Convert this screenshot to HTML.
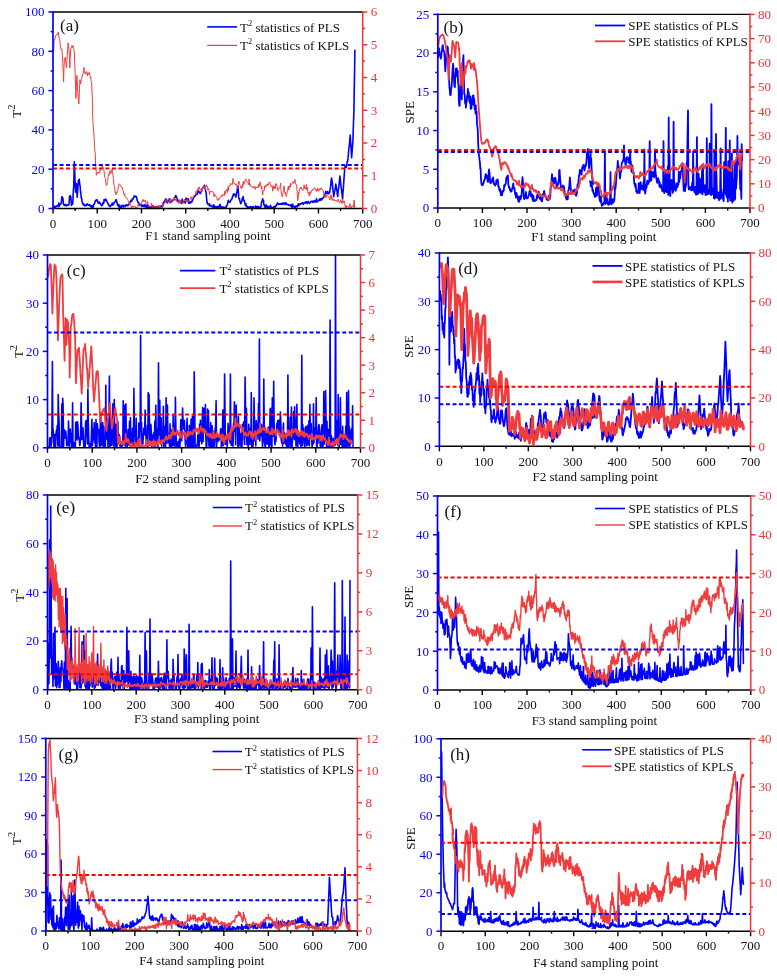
<!DOCTYPE html>
<html><head><meta charset="utf-8"><title>Monitoring statistics</title><style>html,body{margin:0;padding:0;background:#fff;width:777px;height:977px;overflow:hidden}svg{display:block;font-family:"Liberation Serif",serif;will-change:transform}</style></head><body>
<svg width="777" height="977" viewBox="0 0 777 977" font-family="Liberation Serif, serif">
<rect width="777" height="977" fill="#fff"/>
<clipPath id="clipa"><rect x="53" y="12" width="309.70" height="196.50"/></clipPath>
<g clip-path="url(#clipa)" fill="none" stroke-linejoin="round" stroke-linecap="round">
<polyline points="53.7,207.1 54.1,208.0 54.5,206.8 54.9,206.2 55.4,206.8 55.8,207.1 56.2,206.9 56.6,206.1 57.1,205.9 57.5,205.3 57.9,205.9 58.4,206.6 58.8,203.1 59.3,206.1 59.7,205.5 60.1,204.3 60.5,203.8 60.9,203.9 61.3,203.0 61.6,199.3 61.9,196.5 62.4,198.2 62.8,197.8 63.1,200.3 63.4,204.0 63.8,204.7 64.3,205.5 64.7,205.4 65.2,204.6 65.6,204.3 66.0,205.5 66.5,206.0 66.9,205.2 67.3,205.0 67.7,205.0 68.1,204.9 68.5,205.1 68.9,204.8 69.3,200.2 69.6,196.3 69.9,195.9 70.2,195.7 70.6,196.4 71.0,198.6 71.4,205.5 71.8,202.1 72.2,204.3 72.7,204.0 73.0,198.2 73.3,191.9 73.7,186.7 74.0,175.1 74.3,161.7 74.7,171.8 75.1,182.4 75.4,187.8 75.7,192.2 76.1,188.2 76.4,183.5 76.8,190.5 77.2,197.1 77.6,191.7 78.0,185.6 78.4,180.6 78.8,180.1 79.2,179.3 79.7,183.6 80.1,186.4 80.5,191.5 80.9,194.0 81.2,197.6 81.6,197.7 81.9,201.2 82.3,202.2 82.6,202.8 82.9,203.7 83.4,204.8 83.8,204.2 84.2,204.7 84.6,205.6 85.0,205.9 85.4,205.5 85.8,205.0 86.2,204.8 86.7,205.4 87.1,203.8 87.5,204.1 87.9,204.7 88.3,205.1 88.7,204.7 89.1,205.0 89.5,205.0 90.0,204.8 90.4,206.7 90.8,205.9 91.2,206.4 91.6,207.0 92.0,205.5 92.4,207.4 92.8,206.5 93.2,206.9 93.7,204.7 94.1,204.5 94.5,203.3 94.9,202.6 95.3,200.9 95.7,200.3 96.1,200.4 96.5,199.9 97.0,199.6 97.3,201.0 97.7,201.0 98.0,202.5 98.4,202.8 98.7,203.4 99.1,202.7 99.4,202.0 99.8,203.3 100.2,203.1 100.7,204.3 101.1,204.7 101.5,205.7 101.9,204.9 102.4,205.3 102.8,203.0 103.2,202.3 103.7,203.3 104.1,199.6 104.6,200.9 104.9,200.6 105.3,199.7 105.7,199.1 106.0,199.5 106.4,200.9 106.8,201.3 107.2,201.8 107.7,203.2 108.1,204.0 108.5,204.7 108.9,204.9 109.3,206.0 109.7,205.9 110.1,206.6 110.5,206.2 111.0,205.1 111.4,205.0 111.8,205.1 112.2,203.0 112.7,204.0 113.1,205.0 113.5,204.4 114.0,202.7 114.4,202.4 114.9,202.1 115.2,201.2 115.6,201.2 115.9,200.1 116.3,199.6 116.7,202.2 117.1,202.5 117.5,205.1 118.0,204.2 118.4,206.2 118.8,205.3 119.2,207.1 119.6,205.1 120.0,207.1 120.4,207.2 120.8,207.1 121.3,207.2 121.7,205.8 122.1,205.3 122.5,206.6 122.9,205.4 123.3,205.5 123.7,207.0 124.1,206.1 124.5,206.2 125.0,205.3 125.4,206.5 125.8,205.7 126.2,205.4 126.6,204.9 127.0,204.8 127.4,205.4 127.8,205.8 128.3,204.9 128.7,204.6 129.1,204.1 129.6,202.3 130.0,202.7 130.5,202.3 130.9,200.3 131.3,201.1 131.8,201.0 132.2,199.0 132.6,199.2 133.0,199.0 133.4,197.8 133.8,197.2 134.1,196.0 134.5,196.8 134.8,196.0 135.3,196.2 135.7,196.3 136.1,197.2 136.4,196.7 136.8,198.5 137.2,200.5 137.5,201.0 137.9,201.6 138.3,202.7 138.8,203.0 139.2,204.8 139.6,204.9 140.0,204.9 140.5,204.9 140.9,204.7 141.3,205.9 141.8,204.8 142.2,206.5 142.7,206.1 143.1,205.3 143.6,206.5 144.0,206.5 144.4,204.9 144.9,206.8 145.3,205.0 145.8,205.7 146.2,205.6 146.6,207.6 147.1,206.1 147.5,205.1 148.0,208.0 148.4,208.0 148.8,206.6 149.3,207.7 149.7,207.3 150.1,207.9 150.6,206.8 151.0,207.9 151.4,207.1 151.9,207.0 152.3,206.3 152.7,205.8 153.2,206.8 153.6,206.3 154.0,207.9 154.5,207.4 154.9,207.0 155.3,207.5 155.8,207.0 156.2,206.9 156.7,206.4 157.1,207.0 157.5,207.7 157.9,207.2 158.4,206.4 158.8,207.1 159.2,206.4 159.7,206.7 160.1,207.0 160.5,207.3 160.9,206.1 161.4,206.3 161.8,205.7 162.2,206.3 162.6,206.6 163.1,203.8 163.5,202.3 163.9,203.1 164.3,201.9 164.7,200.7 165.0,201.8 165.4,199.4 165.7,198.9 166.1,200.5 166.6,199.6 167.0,202.1 167.4,202.9 167.8,201.5 168.2,201.2 168.6,200.0 169.0,200.2 169.4,198.7 169.7,201.5 170.1,201.2 170.5,201.7 170.9,202.2 171.3,201.9 171.7,201.4 172.1,200.9 172.5,200.8 172.9,200.0 173.4,199.9 173.8,199.8 174.2,199.1 174.6,197.6 174.9,197.4 175.3,196.9 175.7,195.5 176.0,195.8 176.4,197.2 176.9,197.9 177.3,201.0 177.7,199.9 178.1,200.9 178.5,202.6 178.9,201.1 179.3,201.7 179.7,201.9 180.1,202.3 180.6,201.9 181.0,202.1 181.4,203.5 181.8,203.1 182.2,199.1 182.7,202.5 183.1,202.3 183.6,202.5 184.0,201.2 184.4,201.7 184.9,201.7 185.3,203.1 185.7,200.0 186.1,198.0 186.5,200.7 186.9,199.0 187.4,201.0 187.8,200.6 188.2,198.8 188.6,202.7 189.0,203.3 189.4,203.0 189.9,203.3 190.3,201.8 190.8,202.0 191.2,201.5 191.7,202.4 192.1,200.9 192.5,200.3 192.9,199.7 193.3,198.1 193.7,197.5 194.2,196.7 194.6,196.3 195.0,196.0 195.4,195.8 195.8,194.6 196.2,194.7 196.6,193.7 197.0,193.5 197.4,194.1 197.9,191.4 198.3,190.5 198.7,191.3 199.1,192.2 199.5,192.1 199.9,192.8 200.3,193.6 200.7,192.5 201.2,192.0 201.6,190.6 202.0,190.0 202.4,188.5 202.8,187.8 203.2,187.2 203.6,186.8 204.0,187.2 204.4,185.4 204.9,186.7 205.3,188.9 205.7,191.0 206.1,192.6 206.4,196.1 206.7,199.4 207.1,203.2 207.5,202.8 207.9,204.3 208.3,204.5 208.7,204.8 209.1,205.0 209.5,203.9 209.9,206.2 210.4,205.6 210.8,205.4 211.2,205.8 211.6,205.6 212.1,206.7 212.5,206.9 212.9,206.0 213.4,207.5 213.8,204.9 214.3,206.2 214.7,207.5 215.1,206.6 215.6,207.3 216.0,207.7 216.5,206.7 216.9,207.0 217.4,207.1 217.8,206.6 218.2,207.7 218.7,206.7 219.1,205.8 219.5,206.7 220.0,204.4 220.4,207.5 220.8,207.0 221.3,206.5 221.7,206.7 222.1,208.1 222.6,207.7 223.0,207.0 223.4,207.6 223.9,207.2 224.3,208.1 224.7,207.7 225.2,207.5 225.6,207.5 226.0,207.3 226.5,205.5 226.9,205.8 227.4,204.2 227.8,203.0 228.2,200.3 228.7,202.0 229.1,201.6 229.5,201.8 229.9,202.3 230.3,201.2 230.7,200.4 231.2,199.8 231.6,199.4 232.1,198.3 232.5,196.8 232.9,196.2 233.4,194.2 233.8,193.9 234.2,194.9 234.7,194.3 235.1,195.0 235.5,195.7 235.9,197.1 236.3,193.9 236.7,192.6 237.1,191.6 237.5,187.7 237.9,186.2 238.3,191.0 238.6,196.6 239.0,198.8 239.4,198.5 239.8,200.8 240.2,201.5 240.6,203.6 241.0,203.2 241.4,202.2 241.9,201.3 242.3,198.4 242.7,198.7 243.1,196.6 243.5,199.2 243.9,200.4 244.3,200.4 244.7,202.6 245.2,204.7 245.6,205.3 246.0,203.8 246.5,206.8 246.9,206.2 247.4,206.4 247.8,207.4 248.2,207.0 248.7,208.1 249.1,206.8 249.6,207.8 250.0,207.7 250.5,207.4 250.9,206.5 251.3,207.7 251.8,207.6 252.2,207.1 252.7,207.7 253.1,206.6 253.5,207.1 254.0,207.9 254.4,207.7 254.9,207.7 255.3,207.0 255.7,205.9 256.2,207.6 256.6,207.2 257.1,206.9 257.5,207.9 258.0,206.4 258.4,206.7 258.8,208.1 259.3,207.1 259.7,208.1 260.2,208.0 260.6,207.4 261.0,206.3 261.4,203.5 261.8,201.7 262.2,200.5 262.7,198.7 263.1,201.0 263.5,200.7 263.9,204.8 264.3,204.8 264.7,207.0 265.2,207.2 265.6,206.1 266.1,204.9 266.5,207.7 267.0,208.1 267.4,206.0 267.9,207.8 268.3,206.7 268.7,208.1 269.2,208.0 269.6,206.9 270.1,207.9 270.5,205.2 271.0,207.5 271.4,207.3 271.9,208.1 272.3,207.5 272.8,208.1 273.2,207.6 273.7,208.1 274.1,206.5 274.6,207.0 275.0,207.6 275.4,206.4 275.8,205.6 276.3,205.9 276.7,204.8 277.1,204.2 277.5,202.9 278.0,203.7 278.4,203.8 278.8,204.5 279.3,204.1 279.7,204.1 280.2,203.5 280.6,204.2 281.0,204.2 281.5,203.6 281.9,203.3 282.4,204.4 282.8,203.0 283.3,203.0 283.7,203.9 284.1,203.4 284.6,203.5 285.0,204.4 285.4,202.8 285.9,204.2 286.3,203.2 286.7,204.3 287.2,204.2 287.6,204.9 288.0,204.3 288.5,204.7 288.9,205.3 289.3,205.2 289.8,205.6 290.2,205.0 290.6,205.8 291.1,204.6 291.5,205.9 291.9,207.4 292.3,205.9 292.7,204.3 293.1,206.9 293.6,206.0 294.0,206.4 294.4,207.1 294.8,207.2 295.2,207.4 295.6,206.5 296.0,205.9 296.4,206.6 296.8,206.6 297.3,206.7 297.7,205.1 298.1,205.5 298.5,203.8 298.9,205.7 299.3,204.8 299.7,204.0 300.1,203.8 300.6,204.3 301.0,203.7 301.4,203.3 301.8,203.3 302.2,202.6 302.6,203.3 303.0,203.1 303.4,204.4 303.8,203.0 304.3,203.2 304.7,202.6 305.1,202.5 305.6,201.9 306.0,203.1 306.4,201.8 306.9,202.2 307.3,203.5 307.7,203.2 308.2,201.4 308.6,202.4 309.0,202.9 309.5,203.2 309.9,203.1 310.3,202.0 310.8,201.7 311.2,201.5 311.7,201.3 312.1,201.8 312.5,201.1 313.0,202.3 313.4,201.3 313.8,202.0 314.3,200.8 314.7,201.9 315.2,201.0 315.6,201.8 316.1,201.1 316.5,198.5 316.9,202.1 317.4,201.4 317.8,201.0 318.3,201.0 318.7,200.2 319.1,199.7 319.5,200.3 319.9,198.8 320.3,200.2 320.7,198.8 321.1,200.1 321.6,198.5 322.0,199.4 322.4,198.7 322.8,198.4 323.2,197.5 323.6,197.2 324.0,196.2 324.4,195.6 324.9,194.7 325.3,193.6 325.7,191.3 326.1,193.3 326.5,192.6 326.9,193.3 327.4,191.5 327.8,192.7 328.3,193.7 328.7,192.3 329.1,193.4 329.6,192.4 330.0,190.0 330.4,187.7 330.8,184.5 331.2,180.2 331.6,178.0 332.1,181.5 332.5,185.2 332.9,189.7 333.3,192.7 333.7,196.7 334.1,194.3 334.5,192.2 334.9,190.4 335.4,187.1 335.8,184.1 336.2,186.6 336.6,189.2 337.0,190.9 337.4,195.3 337.8,196.5 338.2,190.0 338.6,188.5 339.1,184.8 339.5,180.3 339.9,176.0 340.3,179.7 340.8,184.6 341.2,187.9 341.7,190.9 342.1,194.7 342.6,199.0 343.0,192.3 343.4,187.7 343.8,181.6 344.2,175.3 344.6,170.3 345.0,166.5 345.4,166.0 345.9,167.1 346.3,167.2 346.7,165.6 347.0,162.3 347.4,162.1 347.8,160.0 348.1,157.9 348.5,152.7 348.9,148.3 349.4,144.5 349.8,139.6 350.2,135.1 350.5,140.4 350.9,145.6 351.3,151.6 351.6,157.7 352.0,152.7 352.4,147.6 352.9,141.4 353.2,131.3 353.5,122.1 353.9,112.4 354.2,91.4 354.6,70.9 354.9,50.2" stroke="#0000ff" stroke-width="1.6"/>
<polyline points="53.7,51.2 54.1,41.2 54.5,39.3 54.9,39.5 55.4,37.2 55.8,35.3 56.2,35.0 56.6,34.7 57.0,34.8 57.4,35.2 57.8,33.8 58.2,31.9 58.6,34.1 59.1,37.7 59.5,38.8 59.9,41.1 60.3,44.3 60.7,47.9 61.1,49.5 61.5,48.9 61.9,49.0 62.4,55.9 62.8,63.7 63.2,72.2 63.6,82.1 64.0,67.0 64.4,59.5 64.8,58.1 65.1,57.7 65.4,57.2 65.8,62.2 66.1,65.1 66.5,67.8 66.9,60.7 67.3,54.4 67.7,49.0 68.1,42.8 68.5,46.6 68.9,48.6 69.4,57.7 69.8,67.9 70.2,59.3 70.6,51.0 70.9,47.6 71.3,47.4 71.6,46.2 72.0,45.4 72.3,47.5 72.7,46.8 73.1,45.7 73.5,48.6 73.9,49.6 74.3,51.8 74.7,61.7 75.1,74.1 75.5,84.1 75.9,98.4 76.4,87.3 76.8,75.4 77.1,78.3 77.5,85.7 77.8,92.5 78.1,96.9 78.5,100.0 78.8,104.1 79.2,96.9 79.5,88.4 79.9,79.7 80.2,80.9 80.5,84.0 80.9,82.0 81.3,79.4 81.7,78.8 82.1,75.9 82.5,75.0 82.9,73.9 83.3,73.1 83.6,70.5 84.0,67.4 84.3,71.0 84.7,71.1 85.0,74.0 85.4,73.9 85.8,71.8 86.2,71.7 86.7,71.8 87.0,73.1 87.4,75.8 87.7,72.7 88.1,74.0 88.4,73.4 88.8,74.5 89.1,72.4 89.5,73.9 90.0,74.9 90.4,78.3 90.8,77.8 91.1,80.4 91.5,82.6 91.8,86.0 92.2,95.0 92.6,102.5 92.6,116.3 93.0,121.8 93.3,128.0 93.7,131.1 94.1,137.6 94.5,145.3 94.9,151.7 95.3,153.4 95.6,166.0 96.0,167.5 96.3,175.3 96.7,174.0 97.0,172.9 97.4,172.3 97.8,173.2 98.2,172.7 98.6,173.2 99.0,172.0 99.4,173.1 99.8,171.9 100.2,169.8 100.7,170.3 101.1,168.2 101.4,167.1 101.8,167.1 102.2,165.8 102.5,165.7 102.9,168.0 103.2,167.7 103.6,168.9 104.0,171.1 104.4,173.7 104.8,177.4 105.2,178.1 105.5,178.6 105.9,183.8 106.3,184.8 106.6,185.6 107.0,184.5 107.4,181.5 107.7,180.6 108.1,176.4 108.5,173.9 108.9,175.5 109.3,173.2 109.7,171.8 110.1,170.6 110.4,173.8 110.7,173.7 111.1,172.3 111.5,172.4 111.8,169.3 112.2,169.4 112.6,171.1 113.0,175.4 113.4,178.5 113.8,184.0 114.1,185.6 114.5,186.7 114.9,190.6 115.2,192.3 115.6,191.6 115.9,194.9 116.3,193.3 116.7,192.6 117.1,193.1 117.5,191.6 117.9,189.4 118.3,186.3 118.6,186.5 119.0,184.6 119.4,183.8 119.8,184.4 120.2,185.7 120.6,185.5 121.0,186.7 121.5,186.7 121.9,187.8 122.3,187.8 122.7,189.1 123.1,190.9 123.5,191.9 123.9,194.6 124.3,195.1 124.8,193.8 125.2,196.7 125.6,197.5 126.0,197.6 126.4,197.7 126.8,198.3 127.2,199.0 127.6,199.1 128.0,200.4 128.5,200.9 128.9,202.2 129.3,203.3 129.7,202.0 130.1,205.1 130.5,205.1 130.9,205.2 131.3,205.9 131.8,208.1 132.2,206.5 132.7,206.9 133.1,205.8 133.5,206.9 134.0,207.0 134.4,207.0 134.8,206.2 135.3,206.7 135.7,208.1 136.1,207.1 136.5,208.1 136.9,207.3 137.3,206.9 137.7,206.4 138.1,204.3 138.6,206.0 139.0,206.4 139.4,205.7 139.9,206.1 140.3,204.3 140.8,204.2 141.2,202.6 141.6,202.9 142.1,202.1 142.5,199.8 142.9,201.7 143.3,201.4 143.7,199.5 144.1,200.5 144.5,200.9 144.9,201.8 145.3,200.2 145.8,201.8 146.2,204.3 146.6,204.0 147.1,202.8 147.5,201.5 148.0,202.9 148.4,204.6 148.8,205.3 149.3,206.9 149.7,206.7 150.1,205.8 150.5,206.3 150.9,206.6 151.3,205.8 151.7,202.9 152.1,207.3 152.6,208.1 153.0,205.6 153.4,205.4 153.8,205.7 154.2,206.5 154.6,206.6 155.0,207.5 155.4,207.0 155.8,207.0 156.3,206.8 156.7,206.7 157.1,207.4 157.5,206.7 157.9,207.9 158.4,207.6 158.8,205.2 159.2,207.3 159.7,206.0 160.1,206.2 160.5,207.8 160.9,206.9 161.4,208.1 161.8,208.1 162.2,207.5 162.6,204.3 163.1,205.4 163.5,204.7 163.9,204.1 164.3,202.2 164.7,203.5 165.1,202.1 165.5,200.9 165.9,199.8 166.4,199.8 166.8,200.1 167.2,200.6 167.6,201.7 168.0,201.2 168.4,202.2 168.9,202.3 169.3,200.7 169.7,203.8 170.2,198.6 170.6,201.5 171.1,199.0 171.5,200.7 171.9,200.3 172.4,200.4 172.8,199.6 173.3,200.0 173.7,199.1 174.1,197.4 174.6,199.1 175.0,199.1 175.5,200.4 175.9,198.6 176.4,201.3 176.8,201.6 177.2,200.9 177.7,201.8 178.1,201.0 178.5,201.6 178.9,203.2 179.3,199.4 179.7,202.9 180.1,201.4 180.6,200.0 181.0,202.5 181.4,202.7 181.8,202.7 182.2,201.9 182.7,202.4 183.1,202.1 183.6,202.6 184.0,200.9 184.4,199.1 184.9,199.9 185.3,200.3 185.8,201.4 186.2,199.8 186.6,201.6 187.1,199.7 187.5,202.3 188.0,201.3 188.4,200.9 188.8,200.9 189.2,200.1 189.6,200.4 190.0,199.5 190.4,198.5 190.9,197.4 191.3,196.6 191.7,199.6 192.1,198.7 192.5,198.2 193.0,197.5 193.4,195.8 193.9,196.2 194.3,195.3 194.7,195.7 195.2,194.4 195.6,194.0 196.1,191.2 196.5,194.1 196.9,191.8 197.4,188.4 197.8,188.8 198.3,188.8 198.7,188.8 199.1,186.9 199.5,189.4 199.9,189.2 200.3,190.2 200.7,189.4 201.2,188.7 201.6,191.1 202.0,191.5 202.4,190.2 202.8,188.0 203.2,188.2 203.6,185.7 204.0,186.9 204.4,187.8 204.9,186.9 205.3,189.4 205.7,187.3 206.1,186.1 206.5,184.8 206.8,185.3 207.1,186.7 207.5,186.3 207.9,190.2 208.3,188.4 208.7,189.0 209.1,190.6 209.5,194.6 209.9,191.4 210.4,191.7 210.8,191.9 211.2,191.9 211.6,191.1 212.0,192.1 212.4,191.7 212.8,191.5 213.2,192.8 213.7,193.1 214.1,196.9 214.6,194.1 215.0,194.3 215.4,195.1 215.9,195.9 216.3,196.9 216.7,197.4 217.1,199.6 217.6,199.3 218.0,200.6 218.4,199.9 218.8,198.6 219.2,199.4 219.6,197.7 220.0,197.5 220.4,196.6 220.9,196.0 221.3,195.7 221.8,196.9 222.2,194.8 222.7,195.9 223.1,194.2 223.5,194.4 223.9,194.7 224.4,195.4 224.8,191.3 225.2,193.7 225.6,194.0 226.0,189.8 226.4,189.5 226.8,189.1 227.2,192.5 227.7,190.7 228.1,186.6 228.5,190.9 229.0,186.3 229.4,185.5 229.9,186.1 230.3,183.7 230.7,183.1 231.2,184.3 231.6,184.4 232.1,184.4 232.5,184.4 232.9,178.4 233.4,181.9 233.8,182.1 234.3,183.9 234.7,183.7 235.2,184.3 235.6,185.0 236.0,183.7 236.5,186.3 236.9,186.9 237.3,186.8 237.7,188.3 238.2,183.1 238.6,183.5 239.0,181.1 239.4,184.2 239.8,184.5 240.2,185.8 240.6,186.7 241.0,188.6 241.4,188.7 241.9,186.1 242.3,184.5 242.7,187.6 243.1,181.3 243.5,181.6 243.9,184.5 244.3,182.0 244.7,182.6 245.2,180.2 245.6,178.8 246.0,179.4 246.5,180.4 246.9,182.0 247.4,182.5 247.8,183.2 248.2,183.3 248.7,184.8 249.1,179.0 249.6,185.2 250.0,183.8 250.5,186.4 250.9,185.9 251.3,186.3 251.8,187.3 252.2,187.8 252.7,187.2 253.1,187.2 253.5,186.3 254.0,187.7 254.4,188.5 254.9,186.3 255.3,189.4 255.7,188.6 256.2,187.1 256.6,187.3 257.1,187.6 257.5,186.8 258.0,188.0 258.4,184.7 258.8,186.7 259.3,183.7 259.7,185.8 260.2,181.8 260.6,183.9 261.0,186.9 261.4,188.6 261.8,186.4 262.2,190.5 262.7,194.8 263.1,191.6 263.5,191.1 263.9,189.8 264.3,190.2 264.7,185.9 265.1,187.7 265.5,186.3 266.0,185.0 266.4,186.3 266.8,184.6 267.2,185.5 267.7,183.7 268.1,184.3 268.5,185.2 269.0,182.2 269.4,182.5 269.9,182.0 270.3,183.5 270.7,184.0 271.1,187.0 271.5,186.8 271.9,186.1 272.3,186.7 272.8,191.2 273.2,185.6 273.6,187.9 274.0,188.8 274.4,186.7 274.8,186.6 275.2,188.9 275.6,183.6 276.0,184.1 276.5,184.1 276.9,185.7 277.3,187.7 277.7,189.0 278.1,190.6 278.5,189.1 278.9,189.0 279.3,187.3 279.8,187.1 280.2,186.7 280.6,183.1 281.0,190.4 281.4,194.6 281.8,195.6 282.2,196.9 282.6,195.9 283.0,192.7 283.5,190.7 283.9,185.9 284.3,188.2 284.7,191.4 285.1,193.7 285.5,192.0 285.9,194.9 286.3,196.5 286.8,194.3 287.2,192.0 287.6,191.1 288.0,187.3 288.4,186.3 288.8,190.0 289.3,185.9 289.7,185.4 290.2,187.5 290.6,183.3 291.0,185.2 291.5,184.3 291.9,183.9 292.4,182.6 292.8,181.4 293.3,182.0 293.7,183.4 294.1,182.7 294.6,182.2 295.0,179.3 295.4,183.8 295.8,183.8 296.2,184.3 296.6,185.0 297.0,190.3 297.3,193.5 297.7,200.7 298.1,199.1 298.5,192.2 298.9,193.2 299.3,190.0 299.7,188.6 300.2,188.5 300.6,187.3 301.1,188.8 301.5,187.1 301.9,188.9 302.4,189.9 302.8,190.6 303.3,189.6 303.7,189.1 304.1,184.9 304.6,188.5 305.0,187.8 305.5,188.9 305.9,188.6 306.3,184.5 306.8,189.8 307.2,187.1 307.7,191.3 308.1,193.1 308.6,192.1 309.0,195.4 309.4,196.1 309.9,191.6 310.3,193.7 310.8,193.4 311.2,191.1 311.6,190.3 312.1,189.8 312.5,190.7 313.0,189.0 313.4,189.4 313.8,188.6 314.3,187.6 314.7,188.8 315.2,189.1 315.6,188.8 316.1,191.3 316.5,190.3 316.9,191.2 317.4,187.9 317.8,190.9 318.3,191.1 318.7,189.4 319.1,188.6 319.6,190.4 320.0,188.7 320.5,189.1 320.9,187.9 321.4,188.0 321.8,189.4 322.2,189.2 322.6,190.2 323.0,190.6 323.4,191.0 323.8,193.7 324.1,196.6 324.4,196.9 324.9,197.5 325.3,194.9 325.8,197.8 326.2,196.1 326.6,196.9 327.1,194.2 327.5,194.5 327.9,195.5 328.4,196.2 328.8,196.6 329.2,198.1 329.6,199.1 330.0,199.9 330.5,197.3 330.9,194.6 331.4,198.8 331.8,196.1 332.2,200.5 332.7,199.7 333.1,200.2 333.5,198.9 333.9,199.0 334.3,200.4 334.7,200.2 335.1,200.9 335.6,200.0 336.0,201.0 336.4,200.9 336.8,200.9 337.2,201.7 337.7,202.0 338.1,199.1 338.6,201.6 339.0,201.9 339.4,202.4 339.9,202.8 340.3,201.2 340.8,199.7 341.2,203.3 341.6,202.7 342.1,200.3 342.5,203.5 343.0,201.8 343.4,202.3 343.8,200.6 344.2,201.5 344.6,201.4 345.0,205.9 345.4,207.5 345.9,205.6 346.3,207.6 346.7,205.7 347.1,206.8 347.5,206.5 347.9,206.9 348.3,207.5 348.7,206.5 349.2,207.3 349.6,206.2 350.0,203.6 350.4,207.4 350.8,207.0 351.2,207.9 351.6,206.5 352.0,206.5 352.4,205.8 352.9,206.7 353.3,207.3 353.7,203.7 354.1,200.1 354.4,202.2 354.7,207.7" stroke="#f03c3c" stroke-width="1.0"/>
<line x1="53" y1="165.0" x2="362.7" y2="165.0" stroke="#0000ff" stroke-width="2" stroke-dasharray="4.0 2.55" stroke-linecap="butt"/>
<line x1="53" y1="168.6" x2="362.7" y2="168.6" stroke="#ff0000" stroke-width="2" stroke-dasharray="4.0 2.55" stroke-linecap="butt"/>
</g>
<line x1="52.2" y1="12" x2="362.7" y2="12" stroke="#000" stroke-width="1.4"/>
<line x1="52.2" y1="208.5" x2="363.3" y2="208.5" stroke="#000" stroke-width="1.4"/>
<line x1="53.00" y1="208.5" x2="53.00" y2="213.5" stroke="#000" stroke-width="1.4"/>
<text x="53.0" y="227.7" font-size="13" fill="#111" text-anchor="middle">0</text>
<line x1="75.12" y1="208.5" x2="75.12" y2="210.9" stroke="#000" stroke-width="1.4"/>
<line x1="97.24" y1="208.5" x2="97.24" y2="213.5" stroke="#000" stroke-width="1.4"/>
<text x="97.2" y="227.7" font-size="13" fill="#111" text-anchor="middle">100</text>
<line x1="119.36" y1="208.5" x2="119.36" y2="210.9" stroke="#000" stroke-width="1.4"/>
<line x1="141.49" y1="208.5" x2="141.49" y2="213.5" stroke="#000" stroke-width="1.4"/>
<text x="141.5" y="227.7" font-size="13" fill="#111" text-anchor="middle">200</text>
<line x1="163.61" y1="208.5" x2="163.61" y2="210.9" stroke="#000" stroke-width="1.4"/>
<line x1="185.73" y1="208.5" x2="185.73" y2="213.5" stroke="#000" stroke-width="1.4"/>
<text x="185.7" y="227.7" font-size="13" fill="#111" text-anchor="middle">300</text>
<line x1="207.85" y1="208.5" x2="207.85" y2="210.9" stroke="#000" stroke-width="1.4"/>
<line x1="229.97" y1="208.5" x2="229.97" y2="213.5" stroke="#000" stroke-width="1.4"/>
<text x="230.0" y="227.7" font-size="13" fill="#111" text-anchor="middle">400</text>
<line x1="252.09" y1="208.5" x2="252.09" y2="210.9" stroke="#000" stroke-width="1.4"/>
<line x1="274.21" y1="208.5" x2="274.21" y2="213.5" stroke="#000" stroke-width="1.4"/>
<text x="274.2" y="227.7" font-size="13" fill="#111" text-anchor="middle">500</text>
<line x1="296.34" y1="208.5" x2="296.34" y2="210.9" stroke="#000" stroke-width="1.4"/>
<line x1="318.46" y1="208.5" x2="318.46" y2="213.5" stroke="#000" stroke-width="1.4"/>
<text x="318.5" y="227.7" font-size="13" fill="#111" text-anchor="middle">600</text>
<line x1="340.58" y1="208.5" x2="340.58" y2="210.9" stroke="#000" stroke-width="1.4"/>
<line x1="362.70" y1="208.5" x2="362.70" y2="213.5" stroke="#000" stroke-width="1.4"/>
<text x="362.7" y="227.7" font-size="13" fill="#111" text-anchor="middle">700</text>
<line x1="53" y1="11.2" x2="53" y2="209.3" stroke="#0000ff" stroke-width="1.7"/>
<line x1="48.40" y1="208.50" x2="53" y2="208.50" stroke="#0000ff" stroke-width="1.5"/>
<text x="44.4" y="212.8" font-size="13" fill="#0000ff" text-anchor="end">0</text>
<line x1="50.60" y1="188.85" x2="53" y2="188.85" stroke="#0000ff" stroke-width="1.5"/>
<line x1="48.40" y1="169.20" x2="53" y2="169.20" stroke="#0000ff" stroke-width="1.5"/>
<text x="44.4" y="173.5" font-size="13" fill="#0000ff" text-anchor="end">20</text>
<line x1="50.60" y1="149.55" x2="53" y2="149.55" stroke="#0000ff" stroke-width="1.5"/>
<line x1="48.40" y1="129.90" x2="53" y2="129.90" stroke="#0000ff" stroke-width="1.5"/>
<text x="44.4" y="134.2" font-size="13" fill="#0000ff" text-anchor="end">40</text>
<line x1="50.60" y1="110.25" x2="53" y2="110.25" stroke="#0000ff" stroke-width="1.5"/>
<line x1="48.40" y1="90.60" x2="53" y2="90.60" stroke="#0000ff" stroke-width="1.5"/>
<text x="44.4" y="94.9" font-size="13" fill="#0000ff" text-anchor="end">60</text>
<line x1="50.60" y1="70.95" x2="53" y2="70.95" stroke="#0000ff" stroke-width="1.5"/>
<line x1="48.40" y1="51.30" x2="53" y2="51.30" stroke="#0000ff" stroke-width="1.5"/>
<text x="44.4" y="55.6" font-size="13" fill="#0000ff" text-anchor="end">80</text>
<line x1="50.60" y1="31.65" x2="53" y2="31.65" stroke="#0000ff" stroke-width="1.5"/>
<line x1="48.40" y1="12.00" x2="53" y2="12.00" stroke="#0000ff" stroke-width="1.5"/>
<text x="44.4" y="16.3" font-size="13" fill="#0000ff" text-anchor="end">100</text>
<line x1="362.7" y1="11.2" x2="362.7" y2="209.3" stroke="#f03434" stroke-width="1.5"/>
<line x1="362.7" y1="208.50" x2="367.30" y2="208.50" stroke="#f03434" stroke-width="1.5"/>
<text x="370.7" y="212.8" font-size="13" fill="#f03434" text-anchor="start">0</text>
<line x1="362.7" y1="192.12" x2="365.10" y2="192.12" stroke="#f03434" stroke-width="1.5"/>
<line x1="362.7" y1="175.75" x2="367.30" y2="175.75" stroke="#f03434" stroke-width="1.5"/>
<text x="370.7" y="180.1" font-size="13" fill="#f03434" text-anchor="start">1</text>
<line x1="362.7" y1="159.38" x2="365.10" y2="159.38" stroke="#f03434" stroke-width="1.5"/>
<line x1="362.7" y1="143.00" x2="367.30" y2="143.00" stroke="#f03434" stroke-width="1.5"/>
<text x="370.7" y="147.3" font-size="13" fill="#f03434" text-anchor="start">2</text>
<line x1="362.7" y1="126.62" x2="365.10" y2="126.62" stroke="#f03434" stroke-width="1.5"/>
<line x1="362.7" y1="110.25" x2="367.30" y2="110.25" stroke="#f03434" stroke-width="1.5"/>
<text x="370.7" y="114.5" font-size="13" fill="#f03434" text-anchor="start">3</text>
<line x1="362.7" y1="93.88" x2="365.10" y2="93.88" stroke="#f03434" stroke-width="1.5"/>
<line x1="362.7" y1="77.50" x2="367.30" y2="77.50" stroke="#f03434" stroke-width="1.5"/>
<text x="370.7" y="81.8" font-size="13" fill="#f03434" text-anchor="start">4</text>
<line x1="362.7" y1="61.12" x2="365.10" y2="61.12" stroke="#f03434" stroke-width="1.5"/>
<line x1="362.7" y1="44.75" x2="367.30" y2="44.75" stroke="#f03434" stroke-width="1.5"/>
<text x="370.7" y="49.0" font-size="13" fill="#f03434" text-anchor="start">5</text>
<line x1="362.7" y1="28.38" x2="365.10" y2="28.38" stroke="#f03434" stroke-width="1.5"/>
<line x1="362.7" y1="12.00" x2="367.30" y2="12.00" stroke="#f03434" stroke-width="1.5"/>
<text x="370.7" y="16.3" font-size="13" fill="#f03434" text-anchor="start">6</text>
<text transform="translate(20.8,111.2) rotate(-90)" font-size="13" fill="#111" text-anchor="middle">T<tspan font-size="10.5" dy="-6.3">2</tspan></text>
<text x="207.9" y="240.3" font-size="13" fill="#111" text-anchor="middle">F1 stand sampling point</text>
<text x="60.0" y="31.0" font-size="17" fill="#111" text-anchor="start">(a)</text>
<line x1="207.2" y1="26.9" x2="237.1" y2="26.9" stroke="#0000ff" stroke-width="1.6"/>
<line x1="207.2" y1="45.4" x2="237.1" y2="45.4" stroke="#f03c3c" stroke-width="1.2"/>
<text x="240.0" y="31.6" font-size="13" fill="#111">T<tspan font-size="8.5" dy="-5.6">2</tspan><tspan dy="5.6"> statistics of PLS</tspan></text>
<text x="240.0" y="49.7" font-size="13" fill="#111">T<tspan font-size="8.5" dy="-5.6">2</tspan><tspan dy="5.6"> statistics of KPLS</tspan></text>
<clipPath id="clipb"><rect x="437.8" y="14.4" width="312.20" height="193.60"/></clipPath>
<g clip-path="url(#clipb)" fill="none" stroke-linejoin="round" stroke-linecap="round">
<polyline points="438.1,57.4 438.4,55.5 438.8,55.5 439.2,48.3 439.5,53.0 439.9,54.6 440.4,55.9 440.8,58.7 441.2,57.0 441.6,52.1 442.0,51.1 442.4,46.3 442.8,45.1 443.2,49.6 443.5,50.4 443.9,51.1 444.3,52.2 444.6,58.2 445.0,65.4 445.3,71.3 445.6,67.8 446.0,61.2 446.3,55.0 446.7,52.0 447.0,53.0 447.4,46.5 447.8,47.4 448.2,55.3 448.6,68.2 449.0,78.2 449.4,86.3 449.8,90.5 450.2,95.3 450.7,94.8 451.1,88.3 451.5,87.6 451.9,82.7 452.3,74.0 452.7,67.3 453.1,63.7 453.5,70.6 453.8,74.0 454.2,83.1 454.6,86.6 454.9,87.1 455.3,75.4 455.6,77.3 456.0,68.4 456.4,75.8 456.8,68.3 457.2,74.1 457.7,70.6 458.1,82.9 458.5,85.3 458.9,101.7 459.3,105.9 459.7,105.5 460.0,91.9 460.4,91.1 460.7,82.3 461.1,91.7 461.4,90.6 461.8,99.4 462.2,81.8 462.6,82.2 463.0,61.8 463.4,55.2 463.8,71.9 464.2,94.0 464.7,94.2 465.1,103.3 465.5,100.5 465.9,107.6 466.3,100.8 466.7,102.1 467.1,95.8 467.5,97.2 467.9,88.8 468.4,96.6 468.8,92.5 469.2,100.9 469.6,98.2 470.0,103.1 470.3,96.5 470.7,108.8 471.0,103.8 471.4,108.7 471.9,98.8 472.3,104.6 472.7,95.9 473.1,100.3 473.5,95.5 473.9,105.2 474.3,98.9 474.7,109.3 475.2,106.0 475.5,113.5 475.8,105.4 476.2,113.6 476.6,111.3 477.0,123.4 477.4,126.6 477.8,130.7 478.2,143.3 478.7,154.0 479.1,155.2 479.5,159.7 479.9,162.2 480.3,168.7 480.6,168.3 481.0,178.3 481.3,182.9 481.7,184.6 482.0,185.2 482.4,183.6 482.8,185.0 483.2,183.7 483.6,183.1 484.0,180.8 484.4,179.7 484.8,179.8 485.2,176.6 485.7,174.1 486.1,174.4 486.5,176.7 486.9,178.4 487.3,176.2 487.7,181.8 488.1,181.8 488.5,175.5 489.0,169.3 489.4,171.9 489.8,176.6 490.2,182.5 490.6,183.3 491.0,182.8 491.4,182.2 491.8,182.1 492.2,178.9 492.7,179.8 493.1,177.4 493.5,180.6 493.9,184.2 494.3,183.7 494.7,184.3 495.1,185.6 495.5,183.6 496.0,184.4 496.4,180.2 496.8,181.9 497.2,181.8 497.6,179.4 498.0,181.9 498.4,186.9 498.8,186.5 499.3,189.8 499.7,190.9 500.1,188.8 500.5,190.9 500.9,195.3 501.3,195.3 501.7,193.2 502.1,195.1 502.5,191.0 503.0,191.8 503.4,191.0 503.8,190.4 504.2,185.2 504.6,186.3 505.0,184.9 505.4,184.4 505.8,183.3 506.3,177.9 506.7,179.2 507.1,176.5 507.5,175.5 507.9,175.4 508.3,184.0 508.7,186.3 509.1,187.7 509.5,187.3 510.0,190.3 510.4,189.0 510.8,191.8 511.2,191.1 511.6,191.2 512.0,189.1 512.4,188.4 512.8,185.9 513.3,183.3 513.7,188.2 514.1,188.5 514.5,187.9 514.9,192.3 515.3,194.8 515.7,193.6 516.1,197.8 516.5,193.0 517.0,196.2 517.4,197.2 517.8,196.1 518.2,200.8 518.6,201.4 519.0,201.9 519.4,201.0 519.8,196.6 520.3,196.1 520.7,199.2 521.1,197.1 521.5,196.3 521.8,191.7 522.2,180.6 522.5,177.2 522.9,182.0 523.2,185.5 523.6,191.7 524.0,198.6 524.4,199.0 524.8,198.1 525.2,197.2 525.6,195.3 526.0,192.0 526.4,197.2 526.8,198.4 527.3,198.4 527.7,198.3 528.1,197.0 528.5,196.1 528.9,195.1 529.3,192.5 529.7,190.8 530.1,193.1 530.6,191.3 531.0,196.2 531.4,196.4 531.8,197.0 532.2,194.5 532.6,199.6 533.0,200.8 533.4,195.8 533.8,199.9 534.3,201.1 534.7,201.0 535.2,200.5 535.6,199.9 536.1,200.1 536.5,199.9 536.9,196.6 537.3,194.6 537.8,197.5 538.2,195.1 538.6,191.6 539.0,192.8 539.3,196.5 539.7,197.9 540.0,199.1 540.4,196.0 540.8,199.4 541.3,200.6 541.7,199.9 542.1,201.4 542.5,197.8 542.9,194.7 543.3,193.8 543.7,193.7 544.1,191.0 544.6,193.9 545.0,195.3 545.4,196.6 545.8,196.9 546.2,197.3 546.6,199.7 547.0,199.1 547.4,198.4 547.9,198.9 548.3,200.4 548.7,196.0 549.1,198.4 549.5,199.3 549.9,198.9 550.3,196.5 550.7,187.7 551.1,186.6 551.6,180.6 552.0,174.1 552.3,178.3 552.7,180.1 553.0,178.6 553.4,184.4 553.8,180.9 554.2,183.3 554.6,178.0 555.1,177.6 555.5,178.7 555.8,181.1 556.2,182.8 556.5,186.4 556.9,185.3 557.3,186.3 557.7,184.0 558.1,184.2 558.6,181.8 558.9,179.2 559.2,170.2 559.6,169.9 559.9,176.1 560.3,180.0 560.7,185.6 561.0,188.1 561.5,190.0 561.9,187.5 562.4,188.8 562.8,185.4 563.3,188.5 563.7,186.2 564.1,187.3 564.5,192.1 564.9,194.4 565.4,195.7 565.8,196.6 566.2,198.6 566.6,199.4 567.0,198.7 567.4,196.3 567.8,199.3 568.2,191.0 568.6,190.4 569.1,187.5 569.5,183.3 569.9,177.5 570.2,181.5 570.6,186.6 571.0,190.6 571.3,192.8 571.8,193.7 572.2,192.6 572.7,192.2 573.1,190.2 573.6,190.8 574.0,191.1 574.4,192.9 574.9,189.4 575.3,194.5 575.8,195.1 576.2,195.8 576.7,194.0 577.1,191.5 577.5,184.8 577.9,184.3 578.3,182.7 578.7,178.5 579.1,174.8 579.5,175.6 579.8,170.0 580.2,170.3 580.5,172.8 580.9,173.2 581.3,173.0 581.6,174.6 582.0,169.0 582.4,166.7 582.9,168.2 583.3,165.0 583.7,165.9 584.1,168.0 584.5,170.6 584.9,168.9 585.3,164.7 585.6,166.5 586.0,164.7 586.4,162.3 586.7,157.9 587.1,152.5 587.4,152.6 587.8,148.8 588.2,154.5 588.6,159.5 589.0,168.4 589.4,165.7 589.8,160.1 590.1,160.4 590.5,152.3 590.8,160.4 591.2,158.5 591.6,168.5 591.9,173.0 592.3,178.5 592.7,181.4 593.2,183.9 593.6,183.5 590.0,181.3 590.4,182.1 590.8,186.3 591.2,183.3 591.6,183.1 592.1,187.0 592.5,190.9 592.9,189.7 593.4,192.8 593.8,194.1 594.3,194.0 594.7,196.8 595.1,193.1 595.6,196.6 596.0,188.0 596.5,190.3 596.9,195.7 597.4,186.2 597.8,187.3 598.2,190.7 598.7,187.1 599.1,194.9 599.6,199.2 600.0,200.7 600.4,201.7 600.9,196.4 601.3,201.7 601.8,205.8 602.2,204.3 602.7,205.2 603.1,204.5 603.5,203.4 604.0,202.6 604.4,201.8 604.9,151.5 605.3,203.9 605.7,195.9 606.2,202.2 606.6,202.9 607.1,198.6 607.5,202.5 607.9,204.4 608.4,204.9 608.8,204.0 609.2,204.3 609.6,198.9 610.1,203.3 610.5,172.1 610.9,203.7 611.4,204.4 611.8,203.4 612.2,202.6 612.7,199.2 613.1,202.9 613.5,202.1 613.9,201.5 614.3,200.2 614.7,194.7 615.1,185.2 615.5,188.8 615.9,184.0 616.4,176.1 616.8,169.9 617.1,170.4 617.5,165.9 617.8,160.8 618.2,168.4 618.6,166.0 619.0,169.8 619.4,171.5 619.9,178.5 620.3,175.9 620.7,172.0 621.1,171.5 621.5,165.5 621.9,162.6 622.3,162.3 622.7,161.8 623.2,159.9 623.6,158.5 624.0,145.3 624.3,158.8 624.7,158.6 625.1,161.8 625.4,164.6 625.8,165.4 626.2,160.1 626.7,157.5 627.1,157.1 627.5,158.7 628.0,158.4 628.4,162.7 628.8,162.3 629.3,156.9 629.7,162.9 630.2,151.5 630.5,165.2 630.8,161.5 631.2,168.9 631.6,171.9 632.0,170.2 632.4,165.4 632.8,172.9 633.2,172.9 633.7,172.2 634.1,181.9 634.5,184.3 634.9,184.6 635.3,187.2 635.7,184.0 636.2,191.3 636.6,192.0 637.1,191.6 637.5,193.2 638.0,192.8 638.4,189.7 638.8,183.1 639.3,192.5 639.7,193.0 640.2,186.7 640.6,182.2 641.0,185.2 641.5,189.0 641.9,186.0 642.3,185.9 642.7,186.4 643.1,190.0 643.5,181.9 644.0,186.4 644.4,149.4 644.8,191.5 645.2,193.6 645.6,191.1 646.0,184.9 646.4,188.0 646.8,185.9 647.2,180.6 647.7,183.3 648.1,184.1 648.5,182.6 648.9,182.3 649.3,179.6 649.7,141.2 650.1,177.2 650.5,180.8 651.0,178.7 651.4,180.3 651.7,171.4 652.1,176.6 652.4,175.1 652.8,174.6 653.2,176.0 653.7,172.0 654.1,177.4 654.6,170.5 655.0,149.4 655.4,170.5 655.9,175.5 656.3,178.2 656.8,180.8 657.2,182.9 657.6,178.8 658.1,178.1 658.5,179.2 659.0,181.5 659.4,186.5 659.8,182.2 660.2,187.3 660.6,187.3 661.0,185.0 661.5,188.4 661.9,188.2 662.3,191.0 662.7,191.1 663.1,191.4 663.5,141.2 663.9,189.7 664.3,193.1 664.8,177.9 665.2,191.6 665.5,178.4 665.9,170.1 666.2,186.2 666.6,188.7 667.0,192.4 667.4,186.6 667.8,166.5 668.3,194.9 668.7,117.5 669.1,188.3 669.5,155.1 669.9,193.3 670.3,196.0 670.7,186.1 671.1,189.6 671.5,180.0 672.0,188.4 672.4,186.3 672.8,192.9 673.2,190.1 673.6,121.6 674.0,181.8 674.4,182.5 674.8,188.4 675.3,190.6 675.7,190.8 676.2,188.6 676.6,183.4 677.1,186.8 677.5,187.1 678.0,183.0 678.4,184.8 678.8,171.7 679.3,181.9 679.7,172.4 680.2,178.6 680.6,174.8 681.0,171.2 681.4,170.7 681.8,169.4 682.3,163.1 682.7,167.5 683.0,171.8 683.4,184.6 683.7,190.7 684.1,187.0 684.5,179.1 684.9,191.3 685.3,188.1 685.8,186.1 686.2,183.3 686.6,163.0 687.1,163.1 687.5,139.1 688.0,110.3 688.4,184.6 688.8,189.5 689.3,188.4 689.7,187.1 690.1,187.2 690.5,189.6 690.9,187.5 691.3,190.4 691.8,189.9 692.2,182.7 692.7,190.2 693.1,151.5 693.6,185.8 694.0,190.5 694.4,192.0 694.8,190.8 695.2,186.8 695.6,193.5 696.1,194.7 696.5,186.3 696.9,137.1 697.3,194.0 697.7,194.0 698.1,193.6 698.6,173.6 699.0,188.6 699.4,192.4 699.9,178.7 700.3,188.5 700.8,193.0 701.2,190.3 701.6,183.8 702.1,170.1 702.5,194.4 703.0,166.3 703.4,190.8 703.9,189.1 704.3,192.0 704.7,186.6 705.1,185.1 705.5,194.9 705.9,192.6 706.4,194.9 706.8,138.1 707.2,194.4 707.6,192.3 708.0,189.9 708.4,191.0 708.8,194.0 709.3,191.9 709.7,143.6 710.1,192.8 710.6,190.2 711.0,195.2 711.4,104.1 711.9,192.5 712.3,194.2 712.7,190.6 713.1,193.1 713.6,187.9 714.0,198.1 714.4,151.4 714.8,198.7 715.2,193.7 715.6,197.5 716.0,134.0 716.4,173.8 716.9,192.9 717.3,197.8 717.7,196.0 718.1,198.2 718.5,192.5 718.9,200.0 719.3,200.0 719.7,194.9 720.1,198.9 720.6,148.4 721.0,198.3 721.4,189.4 721.8,196.5 722.1,193.1 722.5,193.7 722.8,197.4 723.3,199.9 723.7,201.2 724.1,162.1 724.5,193.3 725.0,193.6 725.4,166.4 725.8,127.8 726.3,195.8 726.7,166.0 727.1,197.7 727.6,174.8 727.9,201.6 728.3,161.1 728.6,196.0 729.0,196.9 729.4,197.4 729.8,140.4 730.2,200.6 730.7,183.5 731.1,181.5 731.5,200.0 731.9,153.5 732.3,202.5 732.7,179.5 733.1,201.1 733.5,195.5 733.9,195.6 734.4,164.1 734.8,199.8 735.2,198.0 735.6,161.5 736.1,188.5 736.5,181.9 736.9,176.4 737.4,136.0 737.8,161.6 738.3,159.6 738.6,154.3 739.0,164.9 739.3,161.1 739.6,164.5 740.0,182.1 740.3,189.5 740.7,186.2 741.0,189.9 741.4,198.9 741.7,144.2 742.0,160.6" stroke="#0000ff" stroke-width="1.8"/>
<polyline points="438.1,49.1 438.4,45.4 438.8,41.7 439.1,38.9 439.5,38.5 439.9,37.2 440.4,35.8 440.8,35.7 441.2,35.3 441.6,35.4 442.0,35.0 442.4,34.5 442.8,34.8 443.2,34.8 443.6,36.3 444.1,37.7 444.5,39.7 444.9,40.9 445.2,43.3 445.6,45.3 446.0,48.6 446.3,51.1 446.7,53.7 447.0,54.9 447.4,57.3 447.8,59.5 448.2,69.7 448.6,79.9 449.0,71.9 449.4,63.1 449.8,55.1 450.2,56.6 450.7,58.7 451.1,61.6 451.4,56.2 451.8,51.5 452.1,45.6 452.5,40.9 452.9,41.8 453.2,42.7 453.6,44.2 453.9,45.0 454.4,49.4 454.8,52.3 455.2,57.4 455.5,52.2 455.9,47.8 456.2,42.1 456.6,42.5 457.0,42.0 457.3,42.2 457.7,42.6 458.1,43.0 458.5,44.2 458.9,49.7 459.3,48.3 459.7,64.4 460.1,69.4 460.5,81.8 460.9,85.3 461.4,78.1 461.8,63.0 462.2,75.0 462.6,78.3 463.0,89.0 463.4,80.4 463.8,79.5 464.2,71.4 464.7,74.9 465.1,66.0 465.5,73.3 465.9,66.9 466.3,67.2 466.7,66.6 467.1,64.9 467.5,62.7 467.9,61.0 468.4,60.7 468.8,62.3 469.2,60.1 469.6,60.4 470.0,62.4 470.3,64.3 470.7,65.3 471.0,68.7 471.4,66.7 471.9,63.9 472.3,65.1 472.7,65.1 473.1,66.6 473.4,66.6 473.8,69.9 474.2,63.0 474.5,67.5 475.0,69.9 475.4,68.7 475.8,71.9 476.1,74.7 476.5,77.9 476.9,80.2 477.2,84.4 477.6,90.1 477.9,94.3 478.2,100.5 478.7,108.0 479.1,112.5 479.5,118.8 479.9,124.7 480.3,128.9 480.6,132.9 481.0,137.6 481.3,140.6 481.7,142.9 482.0,143.5 482.4,144.0 482.8,143.2 483.2,143.2 483.6,143.0 484.0,143.6 484.4,143.3 484.8,142.7 485.2,142.5 485.7,140.8 486.1,140.5 486.5,140.1 486.9,139.2 487.3,140.3 487.7,141.6 488.1,140.4 488.5,143.2 488.9,145.7 489.2,145.8 489.6,147.1 489.9,147.5 490.3,148.5 490.7,149.3 491.0,149.9 491.4,151.8 491.8,155.5 492.2,156.7 492.6,155.1 493.0,153.7 493.3,151.5 493.7,148.2 494.1,148.2 494.5,147.3 494.9,146.9 495.3,146.3 495.7,147.5 496.2,146.7 496.6,149.0 497.0,150.0 497.4,150.8 497.8,150.5 498.2,151.7 498.5,154.3 498.9,156.4 499.3,158.1 499.7,158.9 500.1,163.3 500.5,165.8 500.9,168.0 501.3,169.8 501.7,166.4 502.1,162.9 502.5,164.7 503.0,163.8 503.4,164.0 503.8,162.6 504.2,162.3 504.6,161.9 505.0,162.7 505.4,163.3 505.8,163.8 506.3,163.2 506.7,165.2 507.1,165.9 507.5,165.6 507.9,168.4 508.3,167.0 508.7,168.6 509.1,170.5 509.5,171.0 510.0,172.9 510.4,173.2 510.8,174.7 511.2,176.2 511.6,174.2 512.0,176.8 512.4,178.3 512.8,179.1 513.3,179.5 513.7,179.9 514.1,180.4 514.5,180.6 514.9,180.2 515.3,181.3 515.7,181.2 516.1,181.0 516.5,181.7 517.0,184.2 517.4,183.3 517.8,182.3 518.3,182.2 518.7,185.5 519.1,180.6 519.6,185.4 520.0,185.1 520.5,185.8 520.9,187.3 521.3,186.1 521.8,187.2 522.2,186.5 522.7,186.4 523.1,186.1 523.6,186.9 524.0,186.4 524.4,184.8 524.9,186.9 525.3,183.2 525.8,183.1 526.2,184.3 526.6,183.4 527.1,184.7 527.5,185.3 527.9,184.7 528.3,184.2 528.7,185.5 529.1,187.4 529.5,185.8 529.9,188.0 530.3,190.2 530.8,187.3 531.2,187.2 531.6,187.9 532.0,184.8 532.4,189.2 532.8,188.8 533.2,188.8 533.6,190.0 534.1,191.3 534.5,190.2 534.9,190.2 535.3,190.5 535.7,189.9 536.1,192.3 536.5,191.2 536.9,192.7 537.3,191.6 537.8,192.8 538.2,192.4 538.6,193.8 539.0,193.9 539.4,196.0 539.8,193.7 540.2,196.0 540.6,195.3 541.1,195.4 541.5,194.9 541.9,195.7 542.3,195.9 542.7,196.2 543.1,196.0 543.5,195.9 543.9,196.3 544.3,196.2 544.8,195.5 545.2,196.9 545.6,197.0 546.0,195.7 546.4,196.9 546.8,197.3 547.2,198.0 547.6,197.4 548.1,197.7 548.5,198.8 548.9,199.6 549.3,198.9 549.7,195.8 550.1,191.8 550.5,187.8 550.9,185.0 551.4,181.6 551.8,183.1 552.2,185.1 552.6,183.0 553.0,184.6 553.4,186.6 553.8,187.0 554.2,187.8 554.6,186.7 555.1,188.8 555.5,188.2 555.9,188.5 556.4,187.9 556.8,188.0 557.2,187.2 557.7,188.2 558.1,188.7 558.6,187.6 559.0,187.4 559.4,188.5 559.8,188.1 560.2,188.8 560.6,189.0 561.0,189.8 561.4,188.3 561.9,190.3 562.3,188.4 562.7,188.6 563.1,188.9 563.5,192.2 563.9,192.8 564.3,193.6 564.7,195.5 565.1,193.9 565.6,195.7 566.0,195.5 566.4,194.2 566.8,195.0 567.2,193.6 567.6,193.6 568.0,194.6 568.4,191.9 568.9,193.0 569.3,194.1 569.7,193.0 570.2,193.6 570.6,194.0 571.1,192.8 571.5,190.6 571.9,193.7 572.4,193.8 572.8,194.1 573.3,193.3 573.7,193.8 574.2,192.5 574.6,193.6 575.0,192.4 575.5,192.1 575.9,190.3 576.4,190.7 576.8,190.7 577.2,190.4 577.7,188.2 578.1,188.5 578.5,187.0 578.9,187.4 579.4,183.1 579.8,183.5 580.2,180.5 580.6,179.2 581.0,178.3 581.4,179.3 581.8,178.1 582.2,178.1 582.7,179.6 583.1,177.8 583.5,176.9 583.9,175.5 584.3,177.8 584.7,175.8 585.1,176.4 585.5,174.9 585.9,173.7 586.4,174.0 586.8,173.9 587.2,172.9 587.6,173.2 588.0,170.3 588.4,172.4 588.8,171.9 589.2,171.5 589.7,171.8 590.1,170.0 590.5,170.2 590.9,170.9 591.3,173.3 591.7,173.0 592.1,175.4 592.5,177.3 592.1,177.2 592.5,177.5 592.9,179.5 593.3,180.4 593.7,181.3 594.1,182.1 594.6,183.0 595.0,183.4 595.4,183.3 595.9,181.9 596.3,183.1 596.8,184.4 597.2,183.7 597.6,185.6 598.0,182.7 598.4,183.3 598.9,185.1 599.3,184.3 599.7,185.7 600.1,189.4 600.5,191.2 600.9,190.6 601.3,194.8 601.7,196.1 602.1,195.4 602.6,196.6 603.0,196.9 603.4,197.1 603.8,196.1 604.2,195.1 604.6,193.9 605.0,192.3 605.4,193.0 605.9,194.0 606.3,192.7 606.8,193.3 607.2,197.0 607.7,192.7 608.1,193.3 608.5,193.5 609.0,193.2 609.4,193.3 609.9,192.5 610.3,192.2 610.7,193.1 611.2,190.9 611.6,191.0 612.0,187.0 612.4,190.0 612.9,188.7 613.3,186.6 613.7,186.5 614.1,184.1 614.5,180.8 614.9,177.2 615.3,174.4 615.7,172.0 616.2,172.5 616.6,172.3 617.1,170.0 617.5,170.3 617.9,169.1 618.4,168.8 618.8,168.8 619.2,168.8 619.7,170.5 620.1,168.8 620.5,168.8 620.9,168.6 621.3,167.4 621.7,169.6 622.1,167.5 622.5,168.6 622.9,167.8 623.4,167.5 623.8,166.9 624.3,167.7 624.7,166.5 625.2,167.4 625.6,165.9 626.0,167.4 626.5,166.5 626.9,166.5 627.4,165.9 627.8,168.2 628.2,166.7 628.7,168.2 629.1,166.0 629.6,165.1 630.0,167.3 630.5,168.5 630.9,165.8 631.3,167.9 631.8,167.4 632.2,167.0 632.6,168.2 633.0,172.6 633.5,173.1 633.9,174.3 634.3,175.3 634.7,176.2 635.1,177.4 635.5,177.0 635.9,176.3 636.3,177.3 636.8,177.2 637.2,175.9 637.7,177.0 638.1,177.0 638.5,177.7 639.0,178.5 639.4,175.8 639.9,175.1 640.3,171.8 640.7,176.1 641.2,174.4 641.6,174.8 642.1,173.2 642.5,174.3 642.9,173.6 643.3,175.7 643.7,174.6 644.2,175.3 644.6,175.3 645.0,175.5 645.4,175.3 645.8,174.9 646.2,173.7 646.6,172.2 647.1,172.0 647.5,170.9 648.0,171.9 648.4,170.3 648.8,170.7 649.3,170.1 649.7,168.8 650.2,169.3 650.6,168.3 651.0,168.1 651.5,169.0 651.9,168.4 652.4,167.1 652.8,168.3 653.3,166.6 653.7,165.4 654.1,165.7 654.6,164.3 655.0,163.3 655.5,163.1 655.9,163.1 656.3,162.4 656.8,159.4 657.2,163.7 657.7,165.3 658.1,165.8 658.5,166.2 659.0,167.0 659.4,167.3 659.9,167.5 660.3,166.9 660.8,167.8 661.2,168.6 661.6,166.3 662.1,168.0 662.5,169.0 663.0,169.3 663.4,168.8 663.8,171.0 664.3,169.2 664.7,170.6 665.2,171.3 665.6,170.6 666.0,171.4 666.5,172.7 666.9,172.4 667.4,170.9 667.8,172.8 668.3,173.3 668.7,172.2 669.1,170.7 669.6,172.0 670.0,171.3 670.5,169.8 670.9,169.5 671.3,169.1 671.8,169.0 672.2,167.9 672.7,166.7 673.1,168.9 673.5,168.0 674.0,167.6 674.4,166.6 674.9,167.3 675.3,168.2 675.8,169.3 676.2,167.9 676.6,169.8 677.1,169.4 677.5,169.9 678.0,169.5 678.4,169.2 678.8,168.2 679.3,168.4 679.7,166.0 680.2,166.0 680.6,166.1 681.1,164.5 681.5,166.4 681.9,164.4 682.4,163.9 682.8,164.6 683.3,165.3 683.7,163.9 684.0,169.9 684.4,176.2 684.7,182.5 685.1,178.0 685.4,172.6 685.8,167.5 686.2,166.3 686.6,168.4 687.1,167.6 687.5,167.8 688.0,168.4 688.4,169.3 688.8,168.7 689.3,170.6 689.7,169.0 690.2,170.2 690.6,170.7 691.1,171.2 691.5,171.4 691.9,170.8 692.4,173.3 692.8,171.5 693.3,170.3 693.7,169.0 694.1,170.7 694.6,169.8 695.0,169.7 695.5,167.5 695.9,168.6 696.3,170.1 696.8,171.5 697.2,170.3 697.7,170.5 698.1,171.3 698.6,170.0 699.0,167.8 699.4,169.4 699.9,166.6 700.3,167.1 700.8,168.8 701.2,165.8 701.6,165.7 702.1,164.8 702.5,166.0 703.0,167.3 703.4,163.7 703.9,168.4 704.3,167.8 704.7,168.2 705.2,166.6 705.6,165.2 706.1,165.5 706.5,165.5 706.9,164.5 707.4,163.8 707.8,165.4 708.3,166.4 708.7,165.2 709.1,164.1 709.6,165.3 710.0,163.8 710.5,166.8 710.9,166.7 711.4,167.7 711.8,168.0 712.2,168.9 712.7,169.4 713.1,170.4 713.6,169.9 714.0,169.3 714.4,169.9 714.9,170.5 715.3,167.1 715.8,170.5 716.2,167.6 716.6,168.2 717.1,168.2 717.5,166.5 718.0,166.3 718.4,165.1 718.9,165.1 719.3,166.8 719.7,164.5 720.2,166.6 720.6,165.1 721.1,167.3 721.5,166.3 721.9,166.7 722.4,167.6 722.8,168.1 723.3,167.7 723.7,166.3 724.1,167.5 724.6,167.7 725.0,167.5 725.5,167.4 725.9,166.6 726.4,167.1 726.8,167.6 727.2,166.9 727.7,168.8 728.1,167.4 728.6,170.0 729.0,168.5 729.4,170.2 729.8,170.4 730.2,170.7 730.7,169.5 731.1,171.4 731.4,168.1 731.7,164.6 732.1,161.9 732.5,160.8 732.9,161.4 733.3,163.7 733.7,164.5 734.2,162.9 734.6,161.1 735.0,161.5 735.4,161.9 735.8,159.7 736.2,159.5 736.5,157.2 736.9,157.2 737.2,155.1 737.6,156.3 738.0,155.5 738.3,152.6 738.7,156.6 739.1,160.0 739.5,162.7 739.9,166.1 740.3,169.7 740.7,163.7 741.0,156.0 741.4,153.0 741.7,154.8 742.0,152.4 742.4,154.4" stroke="#f03c3c" stroke-width="1.8"/>
<line x1="437.8" y1="151.9" x2="750" y2="151.9" stroke="#0000ff" stroke-width="2" stroke-dasharray="4.0 2.55" stroke-linecap="butt"/>
<line x1="437.8" y1="150.0" x2="750" y2="150.0" stroke="#ff0000" stroke-width="2" stroke-dasharray="4.0 2.55" stroke-linecap="butt"/>
</g>
<line x1="437.0" y1="14.4" x2="750" y2="14.4" stroke="#000" stroke-width="1.4"/>
<line x1="437.0" y1="208" x2="750.6" y2="208" stroke="#000" stroke-width="1.4"/>
<line x1="437.80" y1="208" x2="437.80" y2="213.0" stroke="#000" stroke-width="1.4"/>
<text x="437.8" y="227.2" font-size="13" fill="#111" text-anchor="middle">0</text>
<line x1="460.10" y1="208" x2="460.10" y2="210.4" stroke="#000" stroke-width="1.4"/>
<line x1="482.40" y1="208" x2="482.40" y2="213.0" stroke="#000" stroke-width="1.4"/>
<text x="482.4" y="227.2" font-size="13" fill="#111" text-anchor="middle">100</text>
<line x1="504.70" y1="208" x2="504.70" y2="210.4" stroke="#000" stroke-width="1.4"/>
<line x1="527.00" y1="208" x2="527.00" y2="213.0" stroke="#000" stroke-width="1.4"/>
<text x="527.0" y="227.2" font-size="13" fill="#111" text-anchor="middle">200</text>
<line x1="549.30" y1="208" x2="549.30" y2="210.4" stroke="#000" stroke-width="1.4"/>
<line x1="571.60" y1="208" x2="571.60" y2="213.0" stroke="#000" stroke-width="1.4"/>
<text x="571.6" y="227.2" font-size="13" fill="#111" text-anchor="middle">300</text>
<line x1="593.90" y1="208" x2="593.90" y2="210.4" stroke="#000" stroke-width="1.4"/>
<line x1="616.20" y1="208" x2="616.20" y2="213.0" stroke="#000" stroke-width="1.4"/>
<text x="616.2" y="227.2" font-size="13" fill="#111" text-anchor="middle">400</text>
<line x1="638.50" y1="208" x2="638.50" y2="210.4" stroke="#000" stroke-width="1.4"/>
<line x1="660.80" y1="208" x2="660.80" y2="213.0" stroke="#000" stroke-width="1.4"/>
<text x="660.8" y="227.2" font-size="13" fill="#111" text-anchor="middle">500</text>
<line x1="683.10" y1="208" x2="683.10" y2="210.4" stroke="#000" stroke-width="1.4"/>
<line x1="705.40" y1="208" x2="705.40" y2="213.0" stroke="#000" stroke-width="1.4"/>
<text x="705.4" y="227.2" font-size="13" fill="#111" text-anchor="middle">600</text>
<line x1="727.70" y1="208" x2="727.70" y2="210.4" stroke="#000" stroke-width="1.4"/>
<line x1="750.00" y1="208" x2="750.00" y2="213.0" stroke="#000" stroke-width="1.4"/>
<text x="750.0" y="227.2" font-size="13" fill="#111" text-anchor="middle">700</text>
<line x1="437.8" y1="13.6" x2="437.8" y2="208.8" stroke="#0000ff" stroke-width="1.7"/>
<line x1="433.20" y1="208.00" x2="437.8" y2="208.00" stroke="#0000ff" stroke-width="1.5"/>
<text x="429.2" y="212.3" font-size="13" fill="#0000ff" text-anchor="end">0</text>
<line x1="435.40" y1="188.64" x2="437.8" y2="188.64" stroke="#0000ff" stroke-width="1.5"/>
<line x1="433.20" y1="169.28" x2="437.8" y2="169.28" stroke="#0000ff" stroke-width="1.5"/>
<text x="429.2" y="173.6" font-size="13" fill="#0000ff" text-anchor="end">5</text>
<line x1="435.40" y1="149.92" x2="437.8" y2="149.92" stroke="#0000ff" stroke-width="1.5"/>
<line x1="433.20" y1="130.56" x2="437.8" y2="130.56" stroke="#0000ff" stroke-width="1.5"/>
<text x="429.2" y="134.9" font-size="13" fill="#0000ff" text-anchor="end">10</text>
<line x1="435.40" y1="111.20" x2="437.8" y2="111.20" stroke="#0000ff" stroke-width="1.5"/>
<line x1="433.20" y1="91.84" x2="437.8" y2="91.84" stroke="#0000ff" stroke-width="1.5"/>
<text x="429.2" y="96.1" font-size="13" fill="#0000ff" text-anchor="end">15</text>
<line x1="435.40" y1="72.48" x2="437.8" y2="72.48" stroke="#0000ff" stroke-width="1.5"/>
<line x1="433.20" y1="53.12" x2="437.8" y2="53.12" stroke="#0000ff" stroke-width="1.5"/>
<text x="429.2" y="57.4" font-size="13" fill="#0000ff" text-anchor="end">20</text>
<line x1="435.40" y1="33.76" x2="437.8" y2="33.76" stroke="#0000ff" stroke-width="1.5"/>
<line x1="433.20" y1="14.40" x2="437.8" y2="14.40" stroke="#0000ff" stroke-width="1.5"/>
<text x="429.2" y="18.7" font-size="13" fill="#0000ff" text-anchor="end">25</text>
<line x1="750" y1="13.6" x2="750" y2="208.8" stroke="#f03434" stroke-width="1.5"/>
<line x1="750" y1="208.00" x2="754.60" y2="208.00" stroke="#f03434" stroke-width="1.5"/>
<text x="758.0" y="212.3" font-size="13" fill="#f03434" text-anchor="start">0</text>
<line x1="750" y1="195.90" x2="752.40" y2="195.90" stroke="#f03434" stroke-width="1.5"/>
<line x1="750" y1="183.80" x2="754.60" y2="183.80" stroke="#f03434" stroke-width="1.5"/>
<text x="758.0" y="188.1" font-size="13" fill="#f03434" text-anchor="start">10</text>
<line x1="750" y1="171.70" x2="752.40" y2="171.70" stroke="#f03434" stroke-width="1.5"/>
<line x1="750" y1="159.60" x2="754.60" y2="159.60" stroke="#f03434" stroke-width="1.5"/>
<text x="758.0" y="163.9" font-size="13" fill="#f03434" text-anchor="start">20</text>
<line x1="750" y1="147.50" x2="752.40" y2="147.50" stroke="#f03434" stroke-width="1.5"/>
<line x1="750" y1="135.40" x2="754.60" y2="135.40" stroke="#f03434" stroke-width="1.5"/>
<text x="758.0" y="139.7" font-size="13" fill="#f03434" text-anchor="start">30</text>
<line x1="750" y1="123.30" x2="752.40" y2="123.30" stroke="#f03434" stroke-width="1.5"/>
<line x1="750" y1="111.20" x2="754.60" y2="111.20" stroke="#f03434" stroke-width="1.5"/>
<text x="758.0" y="115.5" font-size="13" fill="#f03434" text-anchor="start">40</text>
<line x1="750" y1="99.10" x2="752.40" y2="99.10" stroke="#f03434" stroke-width="1.5"/>
<line x1="750" y1="87.00" x2="754.60" y2="87.00" stroke="#f03434" stroke-width="1.5"/>
<text x="758.0" y="91.3" font-size="13" fill="#f03434" text-anchor="start">50</text>
<line x1="750" y1="74.90" x2="752.40" y2="74.90" stroke="#f03434" stroke-width="1.5"/>
<line x1="750" y1="62.80" x2="754.60" y2="62.80" stroke="#f03434" stroke-width="1.5"/>
<text x="758.0" y="67.1" font-size="13" fill="#f03434" text-anchor="start">60</text>
<line x1="750" y1="50.70" x2="752.40" y2="50.70" stroke="#f03434" stroke-width="1.5"/>
<line x1="750" y1="38.60" x2="754.60" y2="38.60" stroke="#f03434" stroke-width="1.5"/>
<text x="758.0" y="42.9" font-size="13" fill="#f03434" text-anchor="start">70</text>
<line x1="750" y1="26.50" x2="752.40" y2="26.50" stroke="#f03434" stroke-width="1.5"/>
<line x1="750" y1="14.40" x2="754.60" y2="14.40" stroke="#f03434" stroke-width="1.5"/>
<text x="758.0" y="18.7" font-size="13" fill="#f03434" text-anchor="start">80</text>
<text transform="translate(414.1,112.3) rotate(-90)" font-size="13" fill="#111" text-anchor="middle">SPE</text>
<text x="593.8" y="241.0" font-size="13" fill="#111" text-anchor="middle">F1 stand sampling point</text>
<text x="443.5" y="32.5" font-size="17" fill="#111" text-anchor="start">(b)</text>
<line x1="595" y1="25.5" x2="625.2" y2="25.5" stroke="#0000ff" stroke-width="1.8"/>
<line x1="595" y1="41.3" x2="625.2" y2="41.3" stroke="#f03c3c" stroke-width="1.8"/>
<text x="628.3" y="30.4" font-size="13" fill="#111" text-anchor="start">SPE statistics of PLS</text>
<text x="628.3" y="45.9" font-size="13" fill="#111" text-anchor="start">SPE statistics of KPLS</text>
<clipPath id="clipc"><rect x="47.5" y="255" width="313.00" height="192.80"/></clipPath>
<g clip-path="url(#clipc)" fill="none" stroke-linejoin="round" stroke-linecap="round">
<polyline points="48.0,447.3 48.4,447.3 48.9,447.0 49.3,446.4 49.7,437.9 50.1,443.5 50.6,438.1 51.0,447.2 51.5,441.7 51.9,432.4 52.4,361.6 52.8,428.3 53.2,430.4 53.7,444.0 54.1,447.3 54.6,434.2 55.0,446.9 55.5,447.3 56.0,434.5 56.4,430.2 56.9,430.3 57.3,425.2 57.8,446.1 58.2,394.6 58.6,411.7 59.1,423.0 59.5,446.9 60.0,447.1 60.4,447.3 60.9,447.2 61.3,447.2 61.8,404.1 62.2,446.5 62.7,398.3 63.1,404.9 63.6,446.4 64.0,429.4 64.5,432.4 64.9,438.2 65.4,438.0 65.8,431.1 66.3,437.6 66.7,445.7 67.2,444.1 67.6,445.5 68.1,442.6 68.5,421.1 69.0,442.0 69.4,447.1 69.9,440.7 70.3,429.1 70.8,441.5 71.2,433.4 71.7,447.0 72.1,447.2 72.6,402.8 73.0,447.2 73.5,444.5 73.9,442.8 74.4,446.1 74.8,447.2 75.3,447.3 75.7,422.2 76.2,433.7 76.6,422.1 77.1,440.1 77.5,421.9 78.0,426.3 78.4,436.1 78.9,439.1 79.3,439.6 79.8,445.6 80.2,442.9 80.7,432.1 81.1,402.8 81.6,426.6 82.0,439.5 82.5,436.5 82.9,427.8 83.4,434.9 83.8,446.6 84.3,445.3 84.7,447.3 85.2,447.3 85.6,421.3 86.1,436.7 86.5,420.3 87.0,429.4 87.4,444.1 87.9,389.0 88.3,422.6 88.8,440.8 89.2,447.0 89.7,444.0 90.1,446.3 90.6,443.0 91.0,447.0 91.5,432.0 91.9,419.2 92.4,445.8 92.8,429.0 93.3,436.7 93.7,439.9 94.2,422.8 94.6,442.7 95.1,427.0 95.5,447.3 96.0,419.6 96.4,446.1 96.9,447.3 97.3,423.9 97.8,431.3 98.2,433.2 98.7,429.3 99.1,442.6 99.6,446.8 100.0,446.3 100.4,419.9 100.9,418.3 101.3,445.5 101.8,440.9 102.2,440.7 102.7,422.5 103.1,447.3 103.6,426.3 104.0,445.1 104.5,437.7 104.9,446.7 105.4,447.0 105.8,385.3 106.2,439.2 106.7,418.9 107.1,424.5 107.6,429.8 108.0,447.1 108.5,436.3 108.9,417.7 109.4,376.0 109.8,447.1 110.3,446.1 110.7,418.0 111.2,418.6 111.6,445.2 112.1,422.5 112.5,431.4 112.9,403.8 113.4,446.1 113.8,418.2 114.3,399.6 114.7,442.9 115.2,447.3 115.6,424.6 116.1,424.2 116.5,446.2 117.0,447.0 117.4,431.1 117.9,421.7 118.3,442.6 118.8,440.1 119.2,434.6 119.6,438.6 120.1,446.7 120.5,444.7 121.0,445.8 121.4,445.9 121.9,447.0 122.3,442.3 122.8,445.6 123.2,400.7 123.7,443.8 124.1,419.4 124.6,405.2 125.0,444.8 125.4,446.4 125.9,403.8 126.3,440.0 126.8,438.2 127.2,446.7 127.7,438.3 128.1,429.5 128.6,440.9 129.0,445.1 129.5,421.6 129.9,444.3 130.4,417.6 130.8,432.5 131.2,447.3 131.7,440.8 132.1,446.5 132.6,428.3 133.0,441.5 133.5,447.0 133.9,388.4 134.4,427.7 134.8,435.7 135.3,437.1 135.7,447.1 136.2,418.3 136.6,444.2 137.1,438.5 137.5,439.6 137.9,440.1 138.4,447.3 138.8,423.1 139.3,439.5 139.7,442.2 140.2,424.7 140.6,335.5 141.1,431.3 141.5,422.4 142.0,443.2 142.4,446.9 142.9,443.3 143.3,435.9 143.8,428.3 144.2,430.6 144.6,434.8 145.1,410.0 145.5,433.4 146.0,436.8 146.4,447.3 146.9,437.8 147.3,425.3 147.8,447.1 148.2,392.5 148.7,425.7 149.1,394.6 149.6,433.3 150.0,443.6 150.4,432.8 150.9,424.2 151.3,432.2 151.8,447.1 152.2,435.3 152.7,443.3 153.1,441.6 153.6,433.1 154.0,446.2 154.5,434.9 154.9,420.7 155.4,447.1 155.8,405.4 156.2,431.7 156.7,441.9 157.1,429.2 157.6,447.1 158.0,446.4 158.5,362.7 158.9,435.1 159.4,411.6 159.8,400.4 160.3,440.8 160.7,437.8 161.2,417.9 161.6,446.1 162.1,434.6 162.5,441.0 162.9,437.4 163.4,406.2 163.8,446.8 164.3,426.0 164.7,430.7 165.2,444.8 165.6,446.8 166.1,397.7 166.5,425.1 167.0,443.3 167.4,405.1 167.9,437.5 168.3,433.3 168.8,443.0 169.2,441.8 169.6,446.9 170.1,423.9 170.5,445.6 171.0,429.6 171.4,446.8 171.9,445.9 172.3,440.3 172.8,445.8 173.2,414.7 173.7,430.5 174.1,445.4 174.6,437.3 175.0,447.0 175.4,397.2 175.9,432.1 176.3,440.8 176.8,446.0 177.2,447.3 177.7,444.7 178.1,441.8 178.6,446.9 179.0,441.4 179.5,439.0 179.9,447.1 180.4,433.5 180.8,419.8 181.2,432.0 181.7,440.7 182.1,426.1 182.6,408.0 183.0,420.1 183.5,420.0 183.9,429.2 184.4,420.5 184.8,429.4 185.3,443.8 185.7,446.6 186.2,439.7 186.6,431.9 187.1,418.3 187.5,443.0 187.9,447.0 188.4,447.2 188.8,445.0 189.3,425.3 189.7,447.2 190.2,446.5 190.6,442.1 191.1,419.1 191.5,445.6 192.0,447.2 192.4,416.2 192.9,443.3 193.3,447.3 193.8,433.3 194.2,371.9 194.6,398.6 195.1,447.1 195.5,444.8 196.0,447.0 196.4,446.3 196.9,446.0 197.3,445.4 197.8,434.7 198.2,442.8 198.7,445.8 199.1,447.3 199.6,424.1 200.0,440.6 200.4,420.2 200.9,431.7 201.3,441.2 201.8,443.7 202.2,422.4 202.7,407.6 203.1,441.6 203.6,420.9 204.0,408.6 204.5,432.2 204.9,430.9 205.4,404.6 205.8,435.5 206.2,447.2 206.7,446.5 207.1,438.8 207.6,409.0 208.0,419.7 208.5,410.8 208.9,445.7 209.4,446.5 209.8,429.1 210.3,447.3 210.7,422.5 211.2,447.0 211.6,436.1 212.1,425.8 212.5,447.0 212.9,446.9 213.4,435.0 213.8,431.5 214.3,447.3 214.7,440.3 215.2,428.3 215.6,427.1 216.1,400.7 216.5,447.3 217.0,435.6 217.4,438.3 217.9,441.6 218.3,436.3 218.8,436.8 219.2,440.0 219.6,437.9 220.1,437.5 220.5,429.5 221.0,428.6 221.4,447.3 221.9,428.9 222.3,445.3 222.8,410.0 223.2,445.7 223.7,444.2 224.1,442.3 224.6,374.0 225.0,408.0 225.4,444.5 225.9,440.8 226.3,442.6 226.8,438.6 227.2,447.1 227.7,437.7 228.1,423.4 228.6,431.1 229.0,437.8 229.5,428.2 229.9,442.7 230.4,374.0 230.8,436.0 231.2,445.3 231.7,444.9 232.1,429.9 232.6,439.3 233.0,446.3 233.5,423.8 233.9,431.4 234.4,401.8 234.8,424.0 235.3,431.2 235.7,444.7 236.2,405.1 236.6,424.8 237.1,424.8 237.5,423.3 237.9,446.6 238.4,416.4 238.8,446.3 239.3,428.0 239.7,433.1 240.2,437.9 240.6,446.0 241.1,442.1 241.5,433.3 242.0,447.3 242.4,424.6 242.9,432.8 243.3,424.4 243.8,421.7 244.2,439.3 244.6,444.4 245.1,377.1 245.5,405.7 246.0,436.5 246.4,408.2 246.9,444.6 247.3,439.4 247.8,431.5 248.2,447.3 248.7,424.3 249.1,434.9 249.6,439.8 250.0,444.6 250.4,428.0 250.9,441.7 251.3,392.5 251.8,447.0 252.2,443.8 252.7,447.2 253.1,445.2 253.6,435.3 254.0,397.7 254.5,423.9 254.9,440.7 255.4,427.5 255.8,445.9 256.2,420.6 256.7,426.7 257.1,424.3 257.6,428.8 258.0,439.3 258.5,403.5 258.9,427.2 259.4,339.0 259.8,441.0 260.3,430.6 260.7,435.9 261.2,430.4 261.6,424.2 262.1,435.0 262.5,446.6 262.9,441.5 263.4,438.6 263.8,379.1 264.3,433.0 264.7,444.0 265.2,447.0 265.6,443.4 266.1,431.9 266.5,435.6 267.0,444.1 267.4,442.0 267.9,433.7 268.3,427.0 268.8,446.9 269.2,446.0 269.6,442.1 270.1,409.6 270.5,408.3 271.0,444.5 271.4,446.6 271.9,447.2 272.3,397.7 272.8,411.1 273.2,436.3 273.7,381.2 274.1,422.8 274.6,440.6 275.0,444.8 275.4,436.3 275.9,441.4 276.3,437.2 276.8,423.5 277.2,431.0 277.7,420.6 278.1,428.8 278.6,430.8 279.0,420.1 279.5,432.0 279.9,431.5 280.4,412.1 280.8,421.5 281.2,439.1 281.7,442.7 282.1,436.5 282.6,446.1 283.0,429.9 283.5,423.1 283.9,443.4 284.4,434.3 284.8,433.1 285.3,436.6 285.7,444.3 286.2,439.5 286.6,447.3 287.1,442.3 287.5,447.3 287.9,375.0 288.4,447.1 288.8,445.6 289.3,430.3 289.7,433.2 290.2,417.3 290.6,447.3 291.1,422.3 291.5,407.0 292.0,447.2 292.4,439.3 292.9,428.8 293.3,437.2 293.8,411.6 294.2,439.6 294.6,406.9 295.1,422.9 295.5,429.7 296.0,445.9 296.4,436.7 296.9,404.2 297.3,446.0 297.8,446.6 298.2,438.0 298.7,435.8 299.1,442.0 299.6,438.9 300.0,444.2 300.4,433.7 300.9,447.0 301.3,443.8 301.8,355.4 302.2,445.7 302.7,424.4 303.1,436.2 303.6,428.0 304.0,442.4 304.5,445.8 304.9,447.0 305.4,430.4 305.8,426.6 306.3,432.1 306.7,445.7 307.2,430.8 307.6,425.2 308.1,444.4 308.5,440.0 309.0,420.5 309.4,446.0 309.9,404.4 310.3,430.1 310.8,437.8 311.2,423.7 311.7,439.8 312.1,446.4 312.6,443.3 313.0,444.2 313.5,403.8 313.9,442.9 314.4,427.6 314.8,435.8 315.3,428.9 315.7,436.6 316.2,397.7 316.6,446.2 317.1,446.8 317.5,432.3 318.0,443.2 318.4,427.7 318.9,424.5 319.3,426.3 319.8,434.4 320.2,445.4 320.7,447.1 321.1,439.9 321.6,428.7 322.0,424.8 322.5,447.1 322.9,447.2 323.4,441.9 323.8,391.5 324.3,443.9 324.7,433.0 325.2,430.2 325.6,390.5 326.1,422.2 326.5,446.3 327.0,421.4 327.4,447.1 327.9,436.0 328.3,429.3 328.8,446.8 329.2,444.9 329.7,433.1 330.1,320.0 330.6,446.9 331.0,447.2 331.5,435.9 331.9,446.6 332.4,446.5 332.8,445.0 333.3,438.3 333.7,447.1 334.2,443.7 334.6,444.6 335.1,445.1 335.5,255.0 336.0,440.4 336.4,428.5 336.9,421.3 337.3,420.5 337.8,445.4 338.2,394.6 338.7,446.6 339.1,447.2 339.6,434.8 340.0,444.6 340.4,397.7 340.9,444.4 341.3,431.9 341.8,436.1 342.2,446.9 342.7,426.4 343.1,447.3 343.6,442.4 344.0,436.8 344.5,445.5 344.9,446.5 345.4,439.8 345.8,426.1 346.3,446.5 346.7,392.5 347.2,444.7 347.6,424.7 348.1,447.2 348.5,390.5 349.0,437.2 349.4,426.7 349.9,446.8 350.3,434.5 350.8,443.0 351.2,430.0 351.7,428.9 352.1,439.1 352.6,405.9 353.0,447.2" stroke="#0000ff" stroke-width="1.6"/>
<polyline points="48.1,276.8 48.5,273.8 48.8,271.6 49.1,268.8 49.5,266.4 49.9,265.0 50.4,264.0 50.8,264.7 51.2,275.9 51.6,287.1 52.0,300.4 52.4,313.7 52.8,301.8 53.2,291.2 53.6,281.7 54.1,271.8 54.5,264.5 54.9,266.9 55.3,267.9 55.7,266.4 56.1,272.3 56.5,280.4 57.0,298.8 57.4,316.2 57.7,329.5 58.0,340.2 58.3,329.7 58.7,319.4 59.0,307.9 59.4,299.8 59.7,291.5 60.0,285.3 60.4,278.7 60.8,276.9 61.1,276.1 61.5,275.1 61.8,274.9 62.2,274.2 62.5,276.4 62.8,295.0 63.1,311.5 63.5,325.6 63.9,336.5 64.2,347.7 64.6,360.8 64.9,347.2 65.3,334.3 65.6,317.9 66.0,331.7 66.4,344.7 66.8,332.1 67.2,319.7 67.7,321.7 68.1,324.0 68.5,333.0 68.9,340.9 69.3,349.1 69.7,377.5 70.0,361.0 70.4,345.0 70.7,328.3 71.1,325.3 71.5,324.1 71.8,318.2 72.2,315.5 72.6,314.7 73.0,313.9 73.4,313.9 73.8,318.9 74.2,321.2 74.7,330.8 75.1,336.4 75.5,358.4 75.9,383.1 76.3,375.6 76.7,367.3 77.1,357.2 77.5,349.8 77.9,349.3 78.2,351.0 78.6,348.6 79.0,347.9 79.4,354.5 79.8,361.1 80.2,367.6 80.5,374.7 80.9,378.8 81.3,386.9 81.7,393.7 82.2,383.3 82.6,371.9 83.0,360.6 83.5,349.8 83.9,349.0 84.3,347.9 84.8,346.5 85.2,343.9 85.6,351.6 86.1,355.7 86.5,360.7 86.9,368.2 87.3,371.2 87.8,381.4 88.2,387.4 88.6,378.8 89.1,378.3 89.5,369.6 90.0,365.1 90.4,357.8 90.9,352.2 91.3,346.4 91.7,354.0 92.1,362.3 92.5,370.4 92.8,377.2 93.2,388.9 93.6,395.3 94.0,401.6 94.4,398.0 94.8,391.1 95.2,387.3 95.7,382.3 96.1,376.8 96.5,371.8 96.9,372.5 97.2,373.6 97.6,371.0 98.0,373.0 98.4,382.0 98.9,392.5 99.3,402.1 99.8,411.9 100.2,422.0 100.7,419.9 101.1,412.8 101.5,415.5 102.0,412.1 102.4,411.6 102.8,410.6 103.2,409.4 103.5,410.2 103.9,409.0 104.3,408.3 104.7,413.8 105.1,417.8 105.6,423.6 106.0,427.3 106.4,431.2 106.8,428.0 107.3,423.5 107.7,421.0 108.2,416.9 108.6,413.9 109.0,410.4 109.5,406.3 109.9,403.2 110.3,406.8 110.7,414.3 111.1,418.2 111.5,423.1 111.9,428.6 112.3,426.4 112.8,423.3 113.2,418.6 113.7,416.6 114.1,414.4 114.6,411.5 115.0,408.5 115.4,407.9 115.8,412.7 116.3,415.4 116.7,417.7 117.1,420.3 117.4,427.0 117.8,436.4 118.1,443.0 118.5,439.8 119.0,444.4 119.4,442.1 119.9,436.6 120.3,442.6 120.8,442.4 121.2,443.4 121.6,441.6 122.0,444.6 122.4,442.1 122.8,441.2 123.2,443.9 123.7,444.1 124.1,444.4 124.5,441.0 124.9,441.2 125.3,441.5 125.7,433.9 126.2,441.2 126.6,440.2 127.1,442.1 127.5,439.0 128.0,439.8 128.4,439.5 128.8,441.6 129.2,443.3 129.7,443.3 130.1,446.5 130.5,447.2 130.9,447.4 131.3,446.7 131.8,443.0 132.2,443.6 132.6,447.3 133.1,446.2 133.5,446.7 133.9,447.4 134.3,447.4 134.8,441.8 135.2,444.5 135.6,446.6 136.0,445.7 136.5,443.5 136.9,445.1 137.4,443.4 137.8,443.8 138.3,439.7 138.7,444.9 139.1,446.8 139.6,438.9 140.0,447.4 140.5,447.4 140.9,446.8 141.4,446.5 141.8,446.4 142.2,445.0 142.7,447.4 143.1,446.9 143.6,447.4 144.0,447.4 144.5,447.4 144.9,446.1 145.3,445.8 145.8,444.7 146.2,447.4 146.7,439.9 147.1,443.9 147.6,445.1 148.0,444.4 148.4,446.3 148.9,443.1 149.3,441.4 149.7,444.3 150.2,445.4 150.6,441.3 151.1,444.8 151.5,443.8 151.9,445.4 152.4,441.9 152.8,443.2 153.2,447.4 153.7,440.5 154.1,445.0 154.5,445.3 155.0,441.3 155.4,445.6 155.9,442.6 156.3,444.3 156.8,443.6 157.2,442.2 157.6,441.5 158.1,445.5 158.5,439.6 159.0,442.4 159.4,442.3 159.9,442.7 160.3,441.4 160.7,443.8 161.2,443.4 161.6,440.2 162.1,443.7 162.5,440.9 163.0,440.4 163.4,441.3 163.8,440.5 164.3,441.5 164.7,440.4 165.2,437.7 165.6,439.6 166.1,436.1 166.5,438.7 166.9,437.6 167.4,439.6 167.8,438.9 168.3,438.9 168.7,435.0 169.2,436.8 169.6,437.5 170.0,435.5 170.5,438.5 170.9,436.7 171.4,432.9 171.8,433.9 172.3,434.1 172.7,434.9 173.1,428.1 173.5,434.0 173.9,432.6 174.3,433.7 174.8,434.8 175.2,432.3 175.6,434.2 176.0,434.2 176.4,433.7 176.8,434.4 177.2,434.5 177.6,430.4 178.0,433.3 178.4,433.4 178.9,435.2 179.3,432.9 179.7,436.6 180.1,432.7 180.5,431.7 180.9,437.2 181.3,437.7 181.7,437.7 182.1,435.6 182.5,435.4 182.9,434.4 183.4,434.7 183.8,433.1 184.2,431.9 184.6,434.0 185.0,432.7 185.4,432.6 185.8,435.1 186.3,439.0 186.7,434.7 187.1,435.6 187.5,436.0 187.9,431.6 188.4,432.9 188.8,435.5 189.2,432.9 189.6,432.7 190.0,434.3 190.4,431.4 190.8,433.2 191.2,433.1 191.7,432.7 192.1,434.5 192.5,434.8 192.9,433.0 193.3,431.1 193.7,429.7 194.1,431.6 194.5,431.2 194.9,431.7 195.4,430.9 195.8,428.2 196.2,430.2 196.6,430.0 197.0,430.8 197.4,431.5 197.8,428.6 198.3,431.1 198.7,433.5 199.1,429.1 199.6,432.3 200.0,429.2 200.4,430.0 200.8,426.2 201.2,429.7 201.6,429.0 202.1,428.6 202.5,431.7 202.9,429.9 203.3,428.6 203.7,432.5 204.1,432.0 204.5,429.7 204.9,430.2 205.4,430.8 205.8,432.1 206.2,431.8 206.6,433.4 207.0,435.6 207.4,435.3 207.8,434.0 208.2,434.8 208.6,434.0 209.1,436.0 209.5,437.1 209.9,434.4 210.3,434.7 210.7,433.6 211.1,435.1 211.5,437.8 211.9,438.0 212.4,436.6 212.8,438.2 213.2,432.8 213.6,431.0 214.0,436.4 214.4,438.1 214.8,434.4 215.2,437.1 215.7,436.5 216.1,437.2 216.5,433.8 216.9,432.1 217.3,436.2 217.7,435.4 218.1,435.3 218.5,436.7 218.9,434.4 219.4,437.3 219.8,434.9 220.2,435.3 220.6,436.8 221.0,437.5 221.4,440.1 221.8,434.9 222.2,435.4 222.7,434.4 223.1,441.5 223.5,437.2 223.9,437.3 224.3,444.1 224.7,437.3 225.1,438.3 225.5,435.9 225.9,439.6 226.4,435.3 226.8,437.5 227.2,434.2 227.6,434.1 228.0,435.1 228.4,439.3 228.8,435.9 229.3,433.8 229.7,432.7 230.2,434.1 230.6,439.6 231.0,428.4 231.5,431.9 231.9,430.9 232.4,427.3 232.8,430.5 233.2,428.2 233.7,428.8 234.1,426.0 234.6,425.7 235.0,426.9 235.4,418.2 235.9,423.6 236.3,426.3 236.8,425.5 237.2,423.5 237.7,424.4 238.1,425.3 238.5,425.3 239.0,424.5 239.4,426.6 239.9,424.8 240.3,427.4 240.7,427.6 241.2,428.4 241.6,427.2 242.1,431.1 242.5,428.5 243.0,427.6 243.4,431.6 243.8,434.4 244.3,432.9 244.7,435.3 245.2,434.0 245.6,432.3 246.0,434.5 246.5,435.9 246.9,434.4 247.4,435.0 247.8,434.0 248.2,435.5 248.7,432.1 249.1,432.9 249.6,431.1 250.0,433.9 250.5,433.5 250.9,432.7 251.3,437.0 251.8,432.6 252.2,431.6 252.7,438.8 253.1,436.7 253.5,434.9 254.0,433.7 254.4,433.4 254.8,432.1 255.2,431.2 255.6,439.8 256.0,432.9 256.4,433.2 256.8,433.8 257.2,431.8 257.7,433.3 258.1,429.6 258.5,430.1 258.9,431.0 259.3,432.7 259.7,430.6 260.1,423.2 260.5,429.4 261.0,432.2 261.4,430.1 261.8,428.8 262.2,429.2 262.6,428.3 263.0,428.6 263.4,429.6 263.8,427.9 264.3,430.0 264.7,428.9 265.1,430.2 265.5,428.0 265.9,430.7 266.3,432.4 266.7,431.4 267.1,431.6 267.5,432.3 268.0,429.1 268.4,432.0 268.8,431.4 269.2,432.4 269.6,434.4 270.0,432.3 270.4,434.1 270.8,433.8 271.3,432.7 271.7,431.8 272.1,428.5 272.5,434.6 272.9,433.5 273.3,432.1 273.7,430.0 274.1,429.9 274.5,430.8 275.0,432.4 275.4,432.3 275.8,435.7 276.2,432.2 276.6,431.8 277.0,431.2 277.4,429.5 277.8,432.5 278.3,432.5 278.7,431.0 279.1,435.1 279.5,434.7 279.9,436.9 280.3,435.8 280.7,434.3 281.1,436.0 281.5,435.8 282.0,437.2 282.4,437.9 282.8,429.9 283.2,441.4 283.6,437.0 284.0,436.7 284.4,435.3 284.8,436.7 285.3,434.0 285.7,434.2 286.1,436.9 286.5,433.6 286.9,436.1 287.3,433.2 287.7,434.8 288.1,430.2 288.6,431.1 289.0,435.6 289.4,430.8 289.8,433.3 290.2,432.1 290.6,433.3 291.0,434.1 291.4,436.9 291.8,429.3 292.3,429.6 292.7,432.5 293.1,431.0 293.5,432.4 293.9,430.6 294.3,429.9 294.7,430.7 295.1,428.9 295.6,431.5 296.0,432.4 296.4,429.3 296.8,430.1 297.2,434.9 297.6,433.7 298.0,430.1 298.4,433.7 298.8,434.1 299.3,436.5 299.7,432.3 300.1,432.7 300.5,434.7 300.9,433.4 301.3,434.9 301.7,434.4 302.1,431.0 302.6,432.4 303.0,435.2 303.4,436.4 303.8,435.5 304.2,432.1 304.6,436.8 305.0,433.7 305.4,435.1 305.8,435.5 306.3,433.4 306.7,434.0 307.1,435.0 307.5,434.3 307.9,436.1 308.3,437.6 308.7,438.7 309.1,436.5 309.6,436.4 310.0,435.3 310.4,435.7 310.8,436.6 311.2,436.8 311.6,439.4 312.0,433.6 312.4,439.5 312.9,439.1 313.3,437.7 313.7,438.5 314.1,438.5 314.5,438.4 314.9,439.6 315.3,438.0 315.7,436.1 316.1,435.4 316.6,438.2 317.0,435.4 317.4,435.7 317.8,437.5 318.2,435.7 318.6,437.0 319.0,435.9 319.4,436.8 319.9,435.9 320.3,439.4 320.7,436.2 321.1,440.9 321.5,438.1 321.9,435.9 322.3,435.8 322.7,440.2 323.1,435.4 323.6,438.7 324.0,438.4 324.4,438.2 324.8,438.7 325.2,440.1 325.6,440.6 326.0,440.5 326.4,442.2 326.9,442.5 327.3,443.9 327.7,443.4 328.1,445.3 328.5,440.2 328.9,437.4 329.3,442.7 329.7,443.8 330.1,443.1 330.6,444.8 331.0,445.6 331.4,444.7 331.8,443.9 332.2,442.9 332.6,444.1 333.0,441.6 333.4,447.4 333.9,444.3 334.3,444.6 334.7,443.7 335.1,441.9 335.5,440.6 335.9,441.0 336.3,439.7 336.7,443.9 337.1,438.8 337.6,441.3 338.0,439.6 338.4,445.3 338.8,438.1 339.2,437.3 339.6,437.3 340.0,437.2 340.4,434.1 340.9,437.1 341.3,435.5 341.7,435.3 342.1,435.0 342.5,436.8 342.9,435.5 343.3,439.2 343.7,435.4 344.2,435.8 344.6,434.1 345.0,437.3 345.5,435.2 345.9,437.5 346.4,439.2 346.8,437.7 347.2,439.2 347.7,438.6 348.1,441.4 348.6,440.7 349.0,441.4 349.4,440.1 349.9,441.5 350.3,442.6 350.7,440.6 351.2,441.0 351.6,442.8 352.0,443.7 352.4,444.1" stroke="#f03c3c" stroke-width="1.8"/>
<line x1="47.5" y1="332.4" x2="360.5" y2="332.4" stroke="#0000ff" stroke-width="2" stroke-dasharray="4.0 2.55" stroke-linecap="butt"/>
<line x1="47.5" y1="414.5" x2="360.5" y2="414.5" stroke="#ff0000" stroke-width="2" stroke-dasharray="4.0 2.55" stroke-linecap="butt"/>
</g>
<line x1="46.7" y1="255" x2="360.5" y2="255" stroke="#000" stroke-width="1.4"/>
<line x1="46.7" y1="447.8" x2="361.1" y2="447.8" stroke="#000" stroke-width="1.4"/>
<line x1="47.50" y1="447.8" x2="47.50" y2="452.8" stroke="#000" stroke-width="1.4"/>
<text x="47.5" y="467.0" font-size="13" fill="#111" text-anchor="middle">0</text>
<line x1="69.86" y1="447.8" x2="69.86" y2="450.2" stroke="#000" stroke-width="1.4"/>
<line x1="92.21" y1="447.8" x2="92.21" y2="452.8" stroke="#000" stroke-width="1.4"/>
<text x="92.2" y="467.0" font-size="13" fill="#111" text-anchor="middle">100</text>
<line x1="114.57" y1="447.8" x2="114.57" y2="450.2" stroke="#000" stroke-width="1.4"/>
<line x1="136.93" y1="447.8" x2="136.93" y2="452.8" stroke="#000" stroke-width="1.4"/>
<text x="136.9" y="467.0" font-size="13" fill="#111" text-anchor="middle">200</text>
<line x1="159.29" y1="447.8" x2="159.29" y2="450.2" stroke="#000" stroke-width="1.4"/>
<line x1="181.64" y1="447.8" x2="181.64" y2="452.8" stroke="#000" stroke-width="1.4"/>
<text x="181.6" y="467.0" font-size="13" fill="#111" text-anchor="middle">300</text>
<line x1="204.00" y1="447.8" x2="204.00" y2="450.2" stroke="#000" stroke-width="1.4"/>
<line x1="226.36" y1="447.8" x2="226.36" y2="452.8" stroke="#000" stroke-width="1.4"/>
<text x="226.4" y="467.0" font-size="13" fill="#111" text-anchor="middle">400</text>
<line x1="248.71" y1="447.8" x2="248.71" y2="450.2" stroke="#000" stroke-width="1.4"/>
<line x1="271.07" y1="447.8" x2="271.07" y2="452.8" stroke="#000" stroke-width="1.4"/>
<text x="271.1" y="467.0" font-size="13" fill="#111" text-anchor="middle">500</text>
<line x1="293.43" y1="447.8" x2="293.43" y2="450.2" stroke="#000" stroke-width="1.4"/>
<line x1="315.79" y1="447.8" x2="315.79" y2="452.8" stroke="#000" stroke-width="1.4"/>
<text x="315.8" y="467.0" font-size="13" fill="#111" text-anchor="middle">600</text>
<line x1="338.14" y1="447.8" x2="338.14" y2="450.2" stroke="#000" stroke-width="1.4"/>
<line x1="360.50" y1="447.8" x2="360.50" y2="452.8" stroke="#000" stroke-width="1.4"/>
<text x="360.5" y="467.0" font-size="13" fill="#111" text-anchor="middle">700</text>
<line x1="47.5" y1="254.2" x2="47.5" y2="448.6" stroke="#0000ff" stroke-width="1.7"/>
<line x1="42.90" y1="447.80" x2="47.5" y2="447.80" stroke="#0000ff" stroke-width="1.5"/>
<text x="38.9" y="452.1" font-size="13" fill="#0000ff" text-anchor="end">0</text>
<line x1="45.10" y1="423.70" x2="47.5" y2="423.70" stroke="#0000ff" stroke-width="1.5"/>
<line x1="42.90" y1="399.60" x2="47.5" y2="399.60" stroke="#0000ff" stroke-width="1.5"/>
<text x="38.9" y="403.9" font-size="13" fill="#0000ff" text-anchor="end">10</text>
<line x1="45.10" y1="375.50" x2="47.5" y2="375.50" stroke="#0000ff" stroke-width="1.5"/>
<line x1="42.90" y1="351.40" x2="47.5" y2="351.40" stroke="#0000ff" stroke-width="1.5"/>
<text x="38.9" y="355.7" font-size="13" fill="#0000ff" text-anchor="end">20</text>
<line x1="45.10" y1="327.30" x2="47.5" y2="327.30" stroke="#0000ff" stroke-width="1.5"/>
<line x1="42.90" y1="303.20" x2="47.5" y2="303.20" stroke="#0000ff" stroke-width="1.5"/>
<text x="38.9" y="307.5" font-size="13" fill="#0000ff" text-anchor="end">30</text>
<line x1="45.10" y1="279.10" x2="47.5" y2="279.10" stroke="#0000ff" stroke-width="1.5"/>
<line x1="42.90" y1="255.00" x2="47.5" y2="255.00" stroke="#0000ff" stroke-width="1.5"/>
<text x="38.9" y="259.3" font-size="13" fill="#0000ff" text-anchor="end">40</text>
<line x1="360.5" y1="254.2" x2="360.5" y2="448.6" stroke="#f03434" stroke-width="1.5"/>
<line x1="360.5" y1="447.80" x2="365.10" y2="447.80" stroke="#f03434" stroke-width="1.5"/>
<text x="368.5" y="452.1" font-size="13" fill="#f03434" text-anchor="start">0</text>
<line x1="360.5" y1="434.03" x2="362.90" y2="434.03" stroke="#f03434" stroke-width="1.5"/>
<line x1="360.5" y1="420.26" x2="365.10" y2="420.26" stroke="#f03434" stroke-width="1.5"/>
<text x="368.5" y="424.6" font-size="13" fill="#f03434" text-anchor="start">1</text>
<line x1="360.5" y1="406.49" x2="362.90" y2="406.49" stroke="#f03434" stroke-width="1.5"/>
<line x1="360.5" y1="392.71" x2="365.10" y2="392.71" stroke="#f03434" stroke-width="1.5"/>
<text x="368.5" y="397.0" font-size="13" fill="#f03434" text-anchor="start">2</text>
<line x1="360.5" y1="378.94" x2="362.90" y2="378.94" stroke="#f03434" stroke-width="1.5"/>
<line x1="360.5" y1="365.17" x2="365.10" y2="365.17" stroke="#f03434" stroke-width="1.5"/>
<text x="368.5" y="369.5" font-size="13" fill="#f03434" text-anchor="start">3</text>
<line x1="360.5" y1="351.40" x2="362.90" y2="351.40" stroke="#f03434" stroke-width="1.5"/>
<line x1="360.5" y1="337.63" x2="365.10" y2="337.63" stroke="#f03434" stroke-width="1.5"/>
<text x="368.5" y="341.9" font-size="13" fill="#f03434" text-anchor="start">4</text>
<line x1="360.5" y1="323.86" x2="362.90" y2="323.86" stroke="#f03434" stroke-width="1.5"/>
<line x1="360.5" y1="310.09" x2="365.10" y2="310.09" stroke="#f03434" stroke-width="1.5"/>
<text x="368.5" y="314.4" font-size="13" fill="#f03434" text-anchor="start">5</text>
<line x1="360.5" y1="296.31" x2="362.90" y2="296.31" stroke="#f03434" stroke-width="1.5"/>
<line x1="360.5" y1="282.54" x2="365.10" y2="282.54" stroke="#f03434" stroke-width="1.5"/>
<text x="368.5" y="286.8" font-size="13" fill="#f03434" text-anchor="start">6</text>
<line x1="360.5" y1="268.77" x2="362.90" y2="268.77" stroke="#f03434" stroke-width="1.5"/>
<line x1="360.5" y1="255.00" x2="365.10" y2="255.00" stroke="#f03434" stroke-width="1.5"/>
<text x="368.5" y="259.3" font-size="13" fill="#f03434" text-anchor="start">7</text>
<text transform="translate(23.3,351.5) rotate(-90)" font-size="13" fill="#111" text-anchor="middle">T<tspan font-size="10.5" dy="-6.3">2</tspan></text>
<text x="198.0" y="482.7" font-size="13" fill="#111" text-anchor="middle">F2 stand sampling point</text>
<text x="66.8" y="275.8" font-size="17" fill="#111" text-anchor="start">(c)</text>
<line x1="179.9" y1="270.6" x2="215.4" y2="270.6" stroke="#0000ff" stroke-width="1.6"/>
<line x1="179.9" y1="288.1" x2="215.4" y2="288.1" stroke="#f03c3c" stroke-width="1.8"/>
<text x="219.4" y="275.1" font-size="13" fill="#111">T<tspan font-size="8.5" dy="-5.6">2</tspan><tspan dy="5.6"> statistics of PLS</tspan></text>
<text x="219.4" y="292.8" font-size="13" fill="#111">T<tspan font-size="8.5" dy="-5.6">2</tspan><tspan dy="5.6"> statistics of KPLS</tspan></text>
<clipPath id="clipd"><rect x="439.4" y="253" width="311.10" height="193.30"/></clipPath>
<g clip-path="url(#clipd)" fill="none" stroke-linejoin="round" stroke-linecap="round">
<polyline points="440.1,291.2 440.4,300.3 440.8,294.7 441.1,300.5 441.4,302.2 441.8,318.9 442.1,316.0 442.5,329.9 442.9,323.0 443.4,333.9 443.8,330.8 444.2,337.5 444.6,323.3 444.9,323.0 445.2,310.1 445.6,307.5 446.0,288.9 446.5,287.1 446.9,270.9 447.2,275.5 447.6,265.4 447.9,257.4 448.3,267.7 448.6,283.3 449.0,290.6 449.4,364.7 449.8,315.0 450.2,325.8 450.6,331.9 451.0,331.6 451.4,314.0 451.8,313.6 452.2,311.9 452.7,327.0 453.1,326.2 453.5,334.7 453.8,330.1 454.1,343.5 454.5,339.2 454.8,356.9 455.2,356.3 455.5,372.5 455.9,367.5 456.3,369.2 456.8,361.9 457.2,364.2 457.6,359.9 458.0,363.1 458.4,359.5 458.9,367.9 459.3,360.7 459.7,365.7 460.1,369.1 460.5,380.7 460.9,378.2 461.3,393.0 461.7,380.6 462.1,381.2 462.6,367.6 463.0,368.8 463.4,359.6 463.8,352.4 464.2,328.8 464.6,344.6 465.0,345.0 465.4,361.8 465.8,361.9 466.2,377.5 466.7,381.4 467.1,393.1 467.5,396.9 467.9,396.7 468.3,384.4 468.7,394.1 469.1,381.6 469.5,382.7 469.9,376.2 470.2,384.6 470.6,372.8 471.0,375.8 471.4,377.6 471.9,389.7 472.4,387.8 472.8,400.1 473.2,394.4 473.7,406.9 474.1,399.4 474.5,404.7 474.9,389.5 475.3,391.0 475.7,384.0 476.1,381.7 476.5,373.1 476.9,380.4 477.4,367.7 477.8,369.4 478.2,363.7 478.6,379.1 479.0,375.3 479.4,393.8 479.8,388.2 480.2,402.1 480.6,391.1 481.0,396.2 481.5,381.5 481.9,383.0 482.3,373.5 482.7,382.0 483.2,382.0 483.6,394.6 484.1,389.5 484.5,407.8 485.0,404.2 485.4,413.3 485.8,403.8 486.2,406.2 486.7,387.3 487.1,390.2 487.5,379.7 487.9,389.3 488.4,386.1 488.8,397.1 489.2,390.7 489.7,404.0 490.1,400.5 490.5,408.5 490.9,410.1 491.2,419.9 491.6,422.4 492.0,418.2 492.4,416.3 492.8,418.6 493.2,416.9 493.6,410.9 494.0,409.4 494.5,418.5 494.9,418.8 495.3,422.7 495.7,421.7 496.1,417.2 496.5,418.9 496.9,414.3 497.3,410.8 497.7,408.5 498.2,407.6 498.6,415.5 499.0,419.9 499.4,421.2 499.8,423.9 500.2,423.6 500.6,420.3 501.0,410.3 501.5,411.9 501.9,410.3 502.3,413.6 502.7,418.9 503.1,421.9 503.5,424.7 503.9,426.4 504.3,424.8 504.8,421.1 505.2,417.7 505.6,410.9 506.0,408.6 506.4,408.3 506.8,413.5 507.2,423.9 507.6,428.0 508.0,430.3 508.5,433.5 508.9,434.5 509.3,428.5 509.7,433.7 510.1,434.9 510.5,432.0 510.9,431.5 511.3,436.2 511.8,436.2 512.2,434.0 512.6,435.3 513.0,435.6 513.4,433.7 513.8,434.9 514.2,435.2 514.7,438.8 515.1,437.3 515.5,437.4 516.0,432.1 516.4,437.2 516.9,437.1 517.3,435.0 517.8,436.3 518.2,437.7 518.6,438.4 519.1,432.7 519.5,438.5 520.0,434.7 520.4,438.8 520.8,440.9 521.3,432.7 521.7,434.8 522.2,432.6 522.6,432.9 523.0,433.7 523.5,437.4 523.9,435.2 524.4,434.7 524.8,431.7 525.3,430.9 525.7,427.7 526.2,422.8 526.6,428.3 527.0,426.0 527.4,431.4 527.8,433.6 528.2,429.8 528.6,435.1 529.1,434.1 529.5,429.9 530.0,431.3 530.4,428.2 530.8,418.8 531.3,421.1 531.7,418.8 532.1,415.6 532.6,423.7 533.0,426.2 533.4,432.0 533.8,435.8 534.2,438.7 534.7,431.2 535.1,438.3 535.6,437.7 536.0,434.9 536.4,433.8 536.9,435.3 537.3,433.5 537.8,423.7 538.2,426.1 538.6,420.2 539.1,416.4 539.5,414.5 540.0,409.9 540.4,415.2 540.8,415.3 541.2,426.9 541.6,428.1 542.0,435.3 542.4,431.8 542.8,425.3 543.3,424.1 543.7,419.9 544.1,413.5 544.5,417.7 545.0,417.2 545.4,412.1 545.8,413.3 546.3,422.4 546.7,423.2 547.2,422.9 547.6,419.9 548.1,422.7 548.5,424.8 548.9,431.9 549.4,434.9 549.8,431.6 550.3,436.3 550.7,436.8 551.1,432.6 551.6,437.5 552.0,441.5 552.5,436.8 552.9,442.0 553.4,440.6 553.8,434.2 554.2,439.0 554.6,437.0 555.0,435.0 555.4,430.6 555.8,433.7 556.2,432.6 556.6,432.6 557.1,437.6 557.5,436.5 557.9,434.5 558.4,429.0 558.8,420.3 559.2,417.0 559.7,418.5 560.1,413.0 560.6,408.5 561.0,413.2 561.4,411.4 561.8,415.8 562.2,421.3 562.6,421.8 563.0,423.2 563.4,425.0 563.9,427.2 564.3,428.0 564.7,425.3 565.1,417.9 565.5,417.6 565.9,409.9 566.3,408.3 566.7,406.4 567.1,400.4 567.6,405.5 568.0,403.9 568.5,409.4 568.9,412.7 569.4,416.2 569.8,425.0 570.3,422.9 570.7,419.9 571.2,411.7 571.6,406.8 572.1,408.3 572.5,403.6 572.9,410.5 573.3,408.2 573.7,413.6 574.1,416.5 574.6,423.3 575.0,429.5 575.4,428.7 575.9,420.1 576.3,419.3 576.7,409.0 577.2,406.5 577.6,401.4 578.1,399.9 578.5,406.9 578.9,406.8 579.3,416.0 579.7,414.4 580.1,421.3 580.5,426.0 580.9,422.7 581.4,428.0 581.8,430.6 582.2,429.8 582.6,428.9 583.0,425.6 583.4,421.6 583.8,417.3 584.2,411.0 584.7,409.1 585.1,418.0 585.6,417.4 586.0,421.4 586.4,417.1 586.9,424.5 587.3,425.1 587.8,428.2 588.2,420.2 588.7,426.9 589.1,419.1 589.5,425.4 590.0,425.3 590.4,422.6 590.9,415.7 591.3,414.4 591.8,407.4 592.2,403.5 592.6,399.6 593.1,393.5 593.5,401.6 593.8,404.3 594.2,414.5 594.5,416.9 592.0,418.3 592.4,411.6 592.8,406.4 593.2,402.2 593.6,399.8 594.1,394.3 594.5,397.4 594.9,405.0 595.3,410.0 595.7,410.0 596.1,417.7 596.6,416.7 597.0,413.4 597.4,409.6 597.9,406.4 598.3,403.8 598.8,401.1 599.2,395.9 599.6,397.1 600.1,406.7 600.5,410.0 601.0,419.7 601.4,428.2 601.9,432.7 602.3,439.6 602.7,438.9 603.1,436.5 603.5,433.6 603.9,431.2 604.4,430.8 604.8,432.9 605.2,435.6 605.7,435.6 606.1,432.4 606.6,435.3 607.0,441.6 607.4,441.6 607.9,439.5 608.3,436.8 608.7,437.5 609.1,431.4 609.5,432.0 609.9,433.1 610.3,438.0 610.7,439.7 611.2,441.7 611.6,441.5 612.0,440.0 612.4,434.6 612.9,438.9 613.3,436.0 613.8,432.8 614.2,434.2 614.7,430.2 615.1,429.1 615.5,428.6 615.9,423.7 616.3,425.2 616.7,418.7 617.1,416.5 617.5,419.2 617.9,415.9 618.4,415.2 618.8,409.6 619.2,414.4 619.6,419.6 620.0,422.2 620.4,420.0 620.8,426.7 621.2,425.8 621.7,429.4 622.1,427.3 622.5,434.3 622.9,435.3 623.3,430.8 623.7,432.1 624.1,428.9 624.5,428.9 624.9,425.6 625.4,424.4 625.8,418.3 626.2,418.3 626.6,418.9 627.0,416.8 627.4,419.6 627.9,418.3 628.3,418.3 628.8,422.3 629.2,422.8 629.7,426.8 630.1,427.2 630.5,422.7 631.0,417.2 631.4,411.4 631.9,404.3 632.3,400.9 632.8,393.7 633.2,396.6 633.6,401.3 634.0,410.1 634.4,413.7 634.8,417.5 635.2,422.7 635.7,426.9 636.1,428.3 636.5,425.6 636.9,431.9 637.3,434.3 637.7,431.5 638.1,432.9 638.5,436.6 639.0,438.0 639.4,437.2 639.8,433.8 640.2,432.7 640.6,431.5 641.0,437.6 641.4,436.2 641.9,434.7 642.3,432.2 642.7,432.6 643.2,430.6 643.6,427.4 644.1,426.8 644.5,422.8 645.0,418.7 645.4,418.8 645.8,417.5 646.3,413.6 646.7,412.9 647.2,407.6 647.6,406.6 648.0,411.2 648.4,414.0 648.8,420.6 649.2,421.5 649.7,427.2 650.1,422.4 650.5,419.3 650.9,413.3 651.3,409.3 651.7,404.0 652.1,397.0 652.5,405.1 653.0,407.9 653.4,413.1 653.8,422.9 654.2,418.5 654.7,412.4 655.1,403.9 655.5,392.1 656.0,392.9 656.4,384.3 656.9,378.4 657.3,386.8 657.7,394.3 658.1,400.3 658.5,415.8 658.9,423.1 659.4,418.8 659.8,413.2 660.3,404.0 660.7,399.3 661.1,395.7 661.6,386.4 662.0,381.5 662.4,392.4 662.8,397.7 663.3,404.2 663.7,416.6 664.1,421.5 664.5,418.5 664.9,427.1 665.4,428.4 665.8,428.8 666.2,427.1 666.6,424.6 667.1,431.9 667.5,430.3 667.9,435.5 668.4,433.0 668.8,434.8 669.2,437.5 669.7,432.9 670.1,430.5 670.5,431.9 671.0,433.2 671.4,424.1 671.9,425.5 672.3,426.9 672.8,422.1 673.2,417.2 673.6,411.0 674.1,406.9 674.5,396.7 674.9,391.8 675.4,391.9 675.8,382.8 676.2,394.0 676.6,402.3 677.0,414.3 677.5,426.8 677.9,421.9 678.3,416.1 678.8,420.4 679.2,413.1 679.7,413.3 680.1,411.1 680.6,408.2 681.0,409.0 681.4,415.7 681.9,413.4 682.3,416.6 682.8,425.0 683.2,421.8 683.6,429.1 684.1,427.7 684.5,424.9 684.9,425.2 685.4,424.8 685.8,417.4 686.2,421.4 686.6,419.8 687.1,413.5 687.5,416.1 687.9,409.3 688.4,410.0 688.8,410.6 689.2,416.1 689.6,412.6 690.0,423.5 690.4,423.1 690.8,428.7 691.3,426.8 691.7,428.0 692.1,428.8 692.5,430.7 692.9,428.0 693.3,433.4 693.7,433.4 694.1,430.4 694.6,433.9 695.0,432.6 695.4,432.0 695.8,430.3 696.2,429.9 696.6,425.7 697.0,426.9 697.4,419.6 697.8,417.7 698.3,412.4 698.7,407.5 699.1,402.0 699.5,395.3 699.9,403.2 700.3,409.3 700.7,422.2 701.1,429.2 701.6,426.1 702.0,420.9 702.5,414.5 702.9,417.0 703.3,415.6 703.8,413.2 704.2,408.6 704.6,414.1 705.1,418.3 705.5,422.7 705.9,424.5 706.3,429.1 706.7,424.6 707.1,431.0 707.5,430.8 707.9,435.8 708.4,433.6 708.8,434.0 709.2,428.7 709.7,431.0 710.1,430.7 710.6,429.7 711.0,429.8 711.4,427.2 711.9,418.4 712.3,420.3 712.8,413.3 713.2,414.1 713.6,411.9 714.1,405.4 714.5,403.5 714.9,409.8 715.4,412.1 715.8,418.7 716.2,416.3 716.6,427.2 717.0,418.0 717.5,413.6 717.9,405.4 718.3,403.8 718.8,395.8 719.2,390.2 719.7,384.1 720.1,376.0 720.5,380.7 720.9,396.8 721.3,403.6 721.7,412.7 722.1,421.8 722.6,407.4 723.0,404.1 723.4,393.9 723.8,380.6 724.2,373.7 724.6,363.5 725.0,353.6 725.4,341.7 725.9,354.0 726.3,364.9 726.7,379.2 727.1,391.6 727.5,401.3 727.9,394.0 728.3,390.2 728.7,381.9 729.1,372.6 729.6,370.1 730.0,381.3 730.4,392.0 730.8,399.7 731.2,416.3 731.6,426.5 732.0,426.9 732.4,425.0 732.9,427.5 733.3,434.3 733.7,435.5 734.1,435.2 734.5,431.0 734.9,431.2 735.3,431.5 735.7,430.4 736.2,426.1 736.6,421.0 737.0,413.9 737.4,415.0 737.8,411.2 738.2,409.1 738.6,403.5 739.0,409.6 739.4,416.2 739.9,422.5 740.3,427.2 740.7,421.5 741.1,423.3 741.5,426.2 741.9,421.7 742.3,424.8" stroke="#0000ff" stroke-width="1.8"/>
<polyline points="440.7,266.5 441.1,265.4 441.5,263.3 441.9,268.3 442.4,273.5 442.8,281.2 443.2,292.8 443.6,303.7 444.0,295.5 444.4,287.2 444.8,279.1 445.2,275.0 445.6,272.8 445.9,267.5 446.3,264.6 446.6,265.2 447.0,266.1 447.4,267.6 447.7,268.6 448.1,276.7 448.5,284.6 448.9,290.8 449.2,298.9 449.5,306.0 449.8,315.8 450.2,307.4 450.6,299.9 451.0,291.3 451.4,287.4 451.7,280.0 452.0,274.9 452.4,270.2 452.8,269.1 453.1,271.0 453.5,272.0 453.9,269.4 454.3,276.6 454.7,284.8 455.1,291.4 455.5,313.1 455.9,336.0 456.3,322.3 456.8,312.2 457.2,298.3 457.6,295.0 458.0,295.3 458.4,296.2 458.8,301.0 459.3,296.5 459.7,299.8 460.1,305.3 460.5,302.9 460.9,311.4 461.3,328.2 461.7,349.6 462.1,340.4 462.5,329.3 463.0,310.0 463.4,303.0 463.8,299.6 464.1,300.6 464.4,292.6 464.8,292.3 465.1,293.3 465.5,287.5 465.9,296.7 466.2,292.1 466.6,297.8 467.1,317.9 467.5,332.3 467.9,355.5 468.3,348.7 468.7,338.2 469.1,337.8 469.5,329.6 469.9,318.5 470.3,310.9 470.8,320.9 471.2,320.8 471.6,318.2 472.0,331.2 472.4,337.8 472.9,346.1 473.3,352.0 473.7,363.1 474.1,359.6 474.5,352.3 474.9,344.4 475.3,337.1 475.7,329.1 476.1,319.7 476.5,315.6 476.9,314.4 477.4,313.6 477.8,320.7 478.2,321.9 478.6,333.9 479.0,341.3 479.4,348.3 479.8,360.3 480.2,347.6 480.6,352.1 480.9,347.3 481.3,328.7 481.7,325.0 482.1,324.8 482.5,324.1 482.9,318.6 483.3,316.5 483.7,315.6 484.1,322.0 484.4,315.8 484.8,317.5 485.1,332.6 485.5,354.7 485.8,372.9 486.2,368.0 486.6,359.9 487.1,356.0 487.5,348.4 487.9,349.0 488.3,344.7 488.7,345.3 489.1,339.5 489.5,341.4 489.8,357.7 490.2,379.1 490.5,398.0 490.9,392.7 491.3,395.3 491.8,387.5 492.2,384.0 492.6,379.9 493.0,378.8 493.5,382.5 493.9,384.3 494.4,384.1 494.8,385.1 495.3,381.4 495.7,386.0 496.1,399.2 496.4,395.9 496.8,404.0 497.1,409.5 497.5,399.3 498.0,395.0 498.4,390.6 498.8,384.9 499.2,380.1 499.6,374.8 500.0,377.8 500.4,374.3 500.8,371.9 501.2,375.0 501.6,390.6 502.1,393.2 502.5,405.5 502.9,397.4 503.3,402.4 503.7,396.5 504.1,401.4 504.5,400.4 504.9,399.8 505.3,394.8 505.8,386.3 506.2,379.0 506.6,379.9 507.0,382.0 507.3,385.1 507.6,385.6 508.0,386.8 508.4,399.6 508.7,409.2 509.1,419.2 509.5,431.2 509.9,427.6 510.3,427.9 510.7,426.2 511.1,424.4 511.5,429.4 512.0,425.6 512.4,417.1 512.8,418.9 513.2,422.0 513.6,423.8 514.0,427.5 514.4,429.1 514.8,434.7 515.3,429.6 515.7,428.2 516.1,420.1 516.5,418.1 516.9,414.6 517.3,414.8 517.7,411.4 518.1,411.9 518.5,419.2 519.0,413.7 519.3,418.5 519.7,428.4 520.0,426.0 520.4,438.0 520.8,435.8 521.2,430.5 521.6,433.4 522.0,428.1 522.5,428.1 522.9,429.8 523.3,432.0 523.7,437.4 524.1,432.6 524.5,437.2 524.9,440.8 525.3,439.0 525.8,431.8 526.2,431.2 526.6,427.9 527.0,433.8 527.4,434.0 527.8,438.5 528.2,436.9 528.6,439.6 529.1,437.9 529.5,443.0 529.9,438.4 530.3,435.3 530.7,438.5 531.1,435.2 531.4,431.0 531.8,427.5 532.1,421.9 532.6,416.9 533.0,429.2 533.4,443.9 533.8,439.6 534.2,435.8 534.6,438.6 535.0,435.5 535.4,435.9 535.8,438.7 536.3,439.6 536.7,429.8 537.1,438.5 537.5,435.1 537.9,433.2 538.3,427.3 538.7,427.7 539.1,427.0 539.6,428.2 540.0,423.7 540.4,427.9 540.8,428.7 541.2,431.8 541.6,431.3 542.0,436.8 542.4,429.3 542.8,431.9 543.3,430.5 543.7,432.3 544.1,425.3 544.5,432.9 544.9,434.4 545.3,432.1 545.7,436.5 546.1,437.8 546.6,437.3 547.0,436.9 547.4,434.8 547.8,421.4 548.2,431.0 548.6,430.3 549.0,429.3 549.4,422.0 549.9,425.2 550.3,422.2 550.7,421.7 551.1,430.3 551.5,429.0 551.9,432.1 552.3,438.1 552.7,430.4 553.1,436.2 553.6,437.7 554.0,435.5 554.4,435.4 554.8,432.0 555.2,425.4 555.6,425.2 556.0,428.9 556.4,422.3 556.9,421.7 557.3,428.0 557.7,428.6 558.1,430.6 558.5,433.1 558.9,435.0 559.4,426.4 559.8,433.1 560.2,427.2 560.7,420.6 561.1,421.0 561.6,419.0 562.0,418.1 562.4,420.3 562.8,422.7 563.2,421.9 563.6,427.1 564.1,425.3 564.5,423.6 565.0,417.0 565.4,414.6 565.9,411.0 566.3,412.4 566.7,407.8 567.1,410.1 567.6,414.3 568.0,420.5 568.4,424.1 568.8,419.2 569.2,427.5 569.7,424.7 570.1,420.4 570.5,420.3 571.0,416.6 571.4,412.5 571.9,411.7 572.3,417.4 572.7,419.5 573.1,424.2 573.5,420.9 573.9,426.0 574.4,425.6 574.8,421.3 575.3,416.7 575.7,417.4 576.2,414.1 576.6,409.4 577.0,407.4 577.4,415.5 577.9,415.2 578.3,419.3 578.7,423.2 579.1,422.5 579.5,428.0 580.0,422.0 580.4,418.6 580.8,417.8 581.3,415.0 581.7,410.9 582.2,408.7 582.6,409.7 583.1,411.7 583.5,416.0 584.0,418.3 584.4,419.3 584.9,424.3 585.3,423.5 585.7,417.9 586.1,421.8 586.5,414.2 586.9,409.7 587.3,410.0 587.7,412.3 588.2,413.8 588.6,419.4 589.0,420.3 589.4,418.4 589.8,421.8 590.2,420.4 590.7,416.3 591.1,408.5 591.6,412.0 592.0,415.0 592.5,405.7 592.9,407.5 593.3,411.1 593.7,411.3 594.1,405.3 594.5,408.9 592.0,414.2 592.4,410.1 592.8,414.5 593.2,409.8 593.6,402.4 594.1,403.1 594.5,407.5 594.9,406.0 595.3,414.1 595.7,413.4 596.1,414.6 596.6,417.5 597.0,413.7 597.4,414.1 597.9,410.6 598.3,406.4 598.8,402.7 599.2,405.3 599.6,406.5 600.1,412.0 600.5,413.5 601.0,419.6 601.4,426.9 601.9,425.8 602.3,431.0 602.7,428.9 603.1,426.8 603.5,428.7 603.9,423.0 604.4,426.6 604.8,427.8 605.2,430.5 605.6,428.4 606.0,435.9 606.4,435.3 606.8,430.9 607.2,428.0 607.7,429.3 608.1,425.2 608.5,422.2 608.9,423.6 609.3,427.0 609.7,429.5 610.1,431.6 610.5,434.3 610.9,432.8 611.4,428.7 611.8,430.3 612.2,426.5 612.6,422.8 613.0,424.4 613.4,423.9 613.8,426.0 614.2,433.4 614.7,434.7 615.1,432.4 615.5,432.0 615.9,430.7 616.3,432.5 616.7,426.1 617.1,427.4 617.5,423.1 617.9,420.9 618.4,416.5 618.8,419.1 619.2,419.9 619.6,423.0 620.0,423.5 620.4,427.6 620.8,426.3 621.2,424.3 621.7,415.2 622.1,412.0 622.5,413.8 622.9,404.3 623.3,404.7 623.7,406.2 624.1,403.0 624.5,401.5 624.9,401.8 625.4,403.9 625.8,405.7 626.2,408.5 626.6,409.6 627.0,408.2 627.4,404.0 627.8,401.0 628.2,408.8 628.7,403.9 629.1,399.3 629.5,397.3 629.9,401.8 630.3,408.7 630.7,404.3 631.1,408.2 631.5,405.1 632.0,405.2 632.4,406.8 632.8,408.5 633.2,404.7 633.6,409.2 634.0,408.6 634.4,413.6 634.8,412.6 635.2,418.1 635.7,414.9 636.1,423.1 636.5,419.3 636.9,425.8 637.3,422.1 637.7,419.0 638.1,418.2 638.5,416.1 639.0,413.9 639.4,414.0 639.8,415.0 640.2,419.2 640.6,422.9 641.0,425.7 641.4,426.4 641.8,425.9 642.2,420.2 642.7,418.7 643.1,412.4 643.5,411.9 643.9,415.3 644.3,415.0 644.7,417.7 645.1,423.0 645.5,423.6 646.0,415.7 646.4,422.5 646.8,419.1 647.2,412.6 647.6,409.4 648.0,413.3 648.4,417.9 648.8,419.6 649.2,421.1 649.7,427.1 650.1,423.0 650.5,416.8 650.9,413.3 651.3,414.6 651.7,407.1 652.1,409.2 652.5,412.6 653.0,409.2 653.4,408.4 653.8,417.6 654.2,417.9 654.6,413.5 655.0,414.8 655.4,410.4 655.8,406.6 656.3,416.0 656.7,414.6 657.1,419.6 657.5,412.7 657.9,421.1 658.3,419.4 658.7,421.3 659.1,411.7 659.5,412.0 660.0,409.2 660.4,407.7 660.8,411.6 661.2,416.8 661.6,410.8 662.0,404.9 662.4,409.8 662.8,406.7 663.3,408.0 663.7,413.6 664.1,415.5 664.5,419.0 664.9,429.3 665.3,418.1 665.7,423.6 666.1,423.2 666.5,423.2 667.0,422.1 667.4,419.5 667.8,417.0 668.2,417.3 668.6,422.4 669.0,422.7 669.4,421.9 669.8,425.1 670.3,426.6 670.7,428.6 671.1,423.0 671.5,421.6 671.9,415.4 672.3,415.9 672.7,419.8 673.1,428.0 673.5,418.7 674.0,423.7 674.4,423.8 674.8,421.2 675.2,419.5 675.6,415.0 676.0,427.2 676.4,415.7 676.8,418.9 677.3,420.9 677.7,418.4 678.1,418.8 678.5,422.0 678.9,423.4 679.3,416.3 679.7,413.8 680.1,413.7 680.6,409.4 681.0,416.6 681.4,415.4 681.8,416.8 682.2,419.6 682.6,421.8 683.0,416.5 683.4,417.9 683.8,410.8 684.3,410.9 684.7,405.9 685.1,413.5 685.5,415.8 685.9,414.5 686.3,423.9 686.7,425.1 687.1,423.1 687.6,421.0 688.0,420.0 688.4,415.6 688.8,411.6 689.2,416.5 689.6,413.9 690.0,419.1 690.4,428.2 690.8,423.3 691.3,419.4 691.7,420.6 692.1,420.0 692.5,417.0 692.9,413.7 693.3,413.0 693.7,416.2 694.1,420.4 694.6,421.2 695.0,424.3 695.4,423.2 695.8,423.8 696.2,417.1 696.6,412.0 697.0,415.3 697.4,417.7 697.8,422.4 698.3,424.4 698.7,426.1 699.1,425.5 699.5,420.2 699.9,425.2 700.3,422.8 700.7,417.5 701.1,418.4 701.6,421.2 702.0,420.2 702.4,423.1 702.8,425.7 703.2,426.8 703.6,423.7 704.0,421.3 704.4,419.7 704.9,419.5 705.3,419.0 705.7,421.2 706.1,419.3 706.5,423.7 706.9,424.8 707.3,425.0 707.7,422.4 708.1,425.6 708.6,418.5 709.0,418.1 709.4,414.9 709.8,414.5 710.2,420.4 710.6,418.5 711.0,424.1 711.4,421.9 711.9,418.5 712.3,416.3 712.7,415.9 713.1,409.2 713.5,414.7 713.9,415.3 714.3,422.5 714.7,422.7 715.1,431.9 715.6,427.1 716.0,424.0 716.4,426.9 716.8,419.5 717.2,423.6 717.6,419.5 718.0,424.3 718.4,425.0 718.9,426.5 719.3,419.7 719.7,430.2 720.1,432.7 720.5,423.4 720.9,410.6 721.3,418.4 721.7,415.0 722.1,420.2 722.6,419.0 723.0,423.6 723.4,425.1 723.8,426.4 724.2,423.9 724.6,419.8 725.0,419.5 725.4,416.5 725.9,412.7 726.3,416.3 726.7,419.6 727.1,429.3 727.5,424.3 727.9,429.3 728.3,426.5 728.7,423.8 729.1,425.3 729.6,415.0 730.0,415.2 730.4,413.7 730.8,418.7 731.2,423.3 731.6,423.2 732.0,424.9 732.4,427.4 732.9,421.8 733.3,417.4 733.7,418.0 734.1,416.0 734.5,421.1 734.9,420.4 735.3,423.6 735.7,426.0 736.2,430.8 736.6,429.0 737.0,428.7 737.4,423.0 737.8,419.4 738.2,414.3 738.6,414.9 739.0,422.6 739.4,422.7 739.9,425.3 740.3,426.5 740.7,424.4 741.1,424.9 741.5,422.4 741.9,423.0 742.3,423.2 742.7,425.0 743.0,425.2 743.4,428.8" stroke="#f03c3c" stroke-width="2.8"/>
<line x1="439.4" y1="404.3" x2="750.5" y2="404.3" stroke="#0000ff" stroke-width="2" stroke-dasharray="4.0 2.55" stroke-linecap="butt"/>
<line x1="439.4" y1="386.7" x2="750.5" y2="386.7" stroke="#ff0000" stroke-width="2" stroke-dasharray="4.0 2.55" stroke-linecap="butt"/>
</g>
<line x1="438.59999999999997" y1="253" x2="750.5" y2="253" stroke="#000" stroke-width="1.4"/>
<line x1="438.59999999999997" y1="446.3" x2="751.1" y2="446.3" stroke="#000" stroke-width="1.4"/>
<line x1="439.40" y1="446.3" x2="439.40" y2="451.3" stroke="#000" stroke-width="1.4"/>
<text x="439.4" y="465.5" font-size="13" fill="#111" text-anchor="middle">0</text>
<line x1="461.62" y1="446.3" x2="461.62" y2="448.7" stroke="#000" stroke-width="1.4"/>
<line x1="483.84" y1="446.3" x2="483.84" y2="451.3" stroke="#000" stroke-width="1.4"/>
<text x="483.8" y="465.5" font-size="13" fill="#111" text-anchor="middle">100</text>
<line x1="506.06" y1="446.3" x2="506.06" y2="448.7" stroke="#000" stroke-width="1.4"/>
<line x1="528.29" y1="446.3" x2="528.29" y2="451.3" stroke="#000" stroke-width="1.4"/>
<text x="528.3" y="465.5" font-size="13" fill="#111" text-anchor="middle">200</text>
<line x1="550.51" y1="446.3" x2="550.51" y2="448.7" stroke="#000" stroke-width="1.4"/>
<line x1="572.73" y1="446.3" x2="572.73" y2="451.3" stroke="#000" stroke-width="1.4"/>
<text x="572.7" y="465.5" font-size="13" fill="#111" text-anchor="middle">300</text>
<line x1="594.95" y1="446.3" x2="594.95" y2="448.7" stroke="#000" stroke-width="1.4"/>
<line x1="617.17" y1="446.3" x2="617.17" y2="451.3" stroke="#000" stroke-width="1.4"/>
<text x="617.2" y="465.5" font-size="13" fill="#111" text-anchor="middle">400</text>
<line x1="639.39" y1="446.3" x2="639.39" y2="448.7" stroke="#000" stroke-width="1.4"/>
<line x1="661.61" y1="446.3" x2="661.61" y2="451.3" stroke="#000" stroke-width="1.4"/>
<text x="661.6" y="465.5" font-size="13" fill="#111" text-anchor="middle">500</text>
<line x1="683.84" y1="446.3" x2="683.84" y2="448.7" stroke="#000" stroke-width="1.4"/>
<line x1="706.06" y1="446.3" x2="706.06" y2="451.3" stroke="#000" stroke-width="1.4"/>
<text x="706.1" y="465.5" font-size="13" fill="#111" text-anchor="middle">600</text>
<line x1="728.28" y1="446.3" x2="728.28" y2="448.7" stroke="#000" stroke-width="1.4"/>
<line x1="750.50" y1="446.3" x2="750.50" y2="451.3" stroke="#000" stroke-width="1.4"/>
<text x="750.5" y="465.5" font-size="13" fill="#111" text-anchor="middle">700</text>
<line x1="439.4" y1="252.2" x2="439.4" y2="447.1" stroke="#0000ff" stroke-width="1.7"/>
<line x1="434.80" y1="446.30" x2="439.4" y2="446.30" stroke="#0000ff" stroke-width="1.5"/>
<text x="430.8" y="450.6" font-size="13" fill="#0000ff" text-anchor="end">0</text>
<line x1="437.00" y1="422.14" x2="439.4" y2="422.14" stroke="#0000ff" stroke-width="1.5"/>
<line x1="434.80" y1="397.98" x2="439.4" y2="397.98" stroke="#0000ff" stroke-width="1.5"/>
<text x="430.8" y="402.3" font-size="13" fill="#0000ff" text-anchor="end">10</text>
<line x1="437.00" y1="373.81" x2="439.4" y2="373.81" stroke="#0000ff" stroke-width="1.5"/>
<line x1="434.80" y1="349.65" x2="439.4" y2="349.65" stroke="#0000ff" stroke-width="1.5"/>
<text x="430.8" y="353.9" font-size="13" fill="#0000ff" text-anchor="end">20</text>
<line x1="437.00" y1="325.49" x2="439.4" y2="325.49" stroke="#0000ff" stroke-width="1.5"/>
<line x1="434.80" y1="301.32" x2="439.4" y2="301.32" stroke="#0000ff" stroke-width="1.5"/>
<text x="430.8" y="305.6" font-size="13" fill="#0000ff" text-anchor="end">30</text>
<line x1="437.00" y1="277.16" x2="439.4" y2="277.16" stroke="#0000ff" stroke-width="1.5"/>
<line x1="434.80" y1="253.00" x2="439.4" y2="253.00" stroke="#0000ff" stroke-width="1.5"/>
<text x="430.8" y="257.3" font-size="13" fill="#0000ff" text-anchor="end">40</text>
<line x1="750.5" y1="252.2" x2="750.5" y2="447.1" stroke="#f03434" stroke-width="1.5"/>
<line x1="750.5" y1="446.30" x2="755.10" y2="446.30" stroke="#f03434" stroke-width="1.5"/>
<text x="758.5" y="450.6" font-size="13" fill="#f03434" text-anchor="start">0</text>
<line x1="750.5" y1="422.14" x2="752.90" y2="422.14" stroke="#f03434" stroke-width="1.5"/>
<line x1="750.5" y1="397.98" x2="755.10" y2="397.98" stroke="#f03434" stroke-width="1.5"/>
<text x="758.5" y="402.3" font-size="13" fill="#f03434" text-anchor="start">20</text>
<line x1="750.5" y1="373.81" x2="752.90" y2="373.81" stroke="#f03434" stroke-width="1.5"/>
<line x1="750.5" y1="349.65" x2="755.10" y2="349.65" stroke="#f03434" stroke-width="1.5"/>
<text x="758.5" y="353.9" font-size="13" fill="#f03434" text-anchor="start">40</text>
<line x1="750.5" y1="325.49" x2="752.90" y2="325.49" stroke="#f03434" stroke-width="1.5"/>
<line x1="750.5" y1="301.32" x2="755.10" y2="301.32" stroke="#f03434" stroke-width="1.5"/>
<text x="758.5" y="305.6" font-size="13" fill="#f03434" text-anchor="start">60</text>
<line x1="750.5" y1="277.16" x2="752.90" y2="277.16" stroke="#f03434" stroke-width="1.5"/>
<line x1="750.5" y1="253.00" x2="755.10" y2="253.00" stroke="#f03434" stroke-width="1.5"/>
<text x="758.5" y="257.3" font-size="13" fill="#f03434" text-anchor="start">80</text>
<text transform="translate(413.1,346.6) rotate(-90)" font-size="13" fill="#111" text-anchor="middle">SPE</text>
<text x="595.2" y="481.0" font-size="13" fill="#111" text-anchor="middle">F2 stand sampling point</text>
<text x="458.2" y="274.2" font-size="17" fill="#111" text-anchor="start">(d)</text>
<line x1="592.5" y1="265.9" x2="622.5" y2="265.9" stroke="#0000ff" stroke-width="1.8"/>
<line x1="592.5" y1="281.9" x2="622.5" y2="281.9" stroke="#f03c3c" stroke-width="2.6"/>
<text x="625.1" y="270.6" font-size="13" fill="#111" text-anchor="start">SPE statistics of PLS</text>
<text x="625.1" y="286.7" font-size="13" fill="#111" text-anchor="start">SPE statistics of KPLS</text>
<clipPath id="clipe"><rect x="47.5" y="495" width="310.30" height="194.70"/></clipPath>
<g clip-path="url(#clipe)" fill="none" stroke-linejoin="round" stroke-linecap="round">
<polyline points="47.8,689.3 48.1,676.3 48.5,643.0 48.9,683.4 49.2,657.7 49.6,540.0 49.9,644.6 50.3,657.9 50.7,506.1 51.2,595.0 51.6,673.9 52.0,661.3 52.3,656.8 52.6,663.5 53.0,686.4 53.4,633.2 53.8,679.0 54.2,641.5 54.6,655.1 55.0,627.4 55.4,685.8 55.8,679.0 56.2,663.6 56.6,687.7 57.0,685.0 57.4,683.8 57.9,668.0 58.3,661.2 58.7,669.9 59.1,687.7 59.6,670.6 60.0,687.3 60.4,667.7 60.9,681.7 61.3,664.7 61.8,660.9 62.2,668.9 62.7,669.0 63.1,669.4 63.6,678.3 64.0,688.9 64.4,662.2 64.9,682.4 65.3,689.3 65.8,588.2 66.2,683.8 66.7,687.8 67.1,598.5 67.6,688.8 68.0,682.8 68.4,680.5 68.9,688.1 69.3,685.3 69.8,683.2 70.2,688.8 70.6,657.2 71.1,626.3 71.5,665.1 71.9,671.5 72.4,673.3 72.8,664.8 73.2,667.7 73.7,678.3 74.1,681.3 74.6,681.8 75.0,684.3 75.4,668.5 75.9,672.2 76.3,671.9 76.8,689.3 77.2,684.3 77.6,689.0 78.1,680.3 78.5,680.5 79.0,681.0 79.4,671.5 79.9,687.7 80.3,676.1 80.7,680.4 81.2,687.9 81.6,667.1 82.1,641.8 82.5,683.5 82.9,681.8 83.4,680.3 83.8,635.6 84.3,681.5 84.7,650.7 85.1,686.8 85.6,683.2 86.0,688.6 86.5,679.2 86.9,684.6 87.4,674.8 87.8,688.9 88.2,683.7 88.7,668.7 89.1,689.3 89.6,678.8 90.0,686.0 90.4,677.0 90.9,681.6 91.3,683.0 91.8,669.0 92.2,687.1 92.7,677.8 93.1,678.8 93.6,677.1 94.0,683.6 94.4,689.3 94.9,675.7 95.3,687.1 95.8,675.5 96.2,668.4 96.7,675.8 97.1,685.2 97.6,654.1 98.0,685.5 98.4,664.4 98.9,681.6 99.3,679.5 99.8,678.6 100.2,682.1 100.7,685.1 101.1,677.1 101.6,686.6 102.0,669.4 102.4,689.3 102.9,688.8 103.3,673.3 103.8,688.0 104.2,685.1 104.7,689.2 105.1,676.6 105.6,686.5 106.0,689.2 106.4,687.3 106.9,671.5 107.3,677.1 107.8,689.3 108.2,670.8 108.7,689.1 109.1,683.9 109.6,682.8 110.0,685.4 110.4,688.7 110.9,666.5 111.3,659.0 111.8,677.8 112.2,672.0 112.7,681.6 113.1,689.3 113.6,679.7 114.0,684.9 114.4,678.1 114.9,676.5 115.3,688.9 115.8,682.2 116.2,680.4 116.7,672.2 117.1,681.1 117.6,681.1 118.0,657.4 118.4,688.6 118.9,674.4 119.3,681.9 119.8,680.7 120.2,688.6 120.7,683.2 121.1,685.4 121.6,666.3 122.0,665.5 122.4,675.0 122.9,684.5 123.3,689.1 123.8,670.5 124.2,688.9 124.7,683.6 125.1,682.4 125.6,674.8 126.0,680.3 126.4,681.6 126.9,627.4 127.3,670.9 127.8,675.9 128.2,686.3 128.7,650.7 129.1,672.0 129.6,684.1 130.0,689.2 130.4,689.2 130.9,671.4 131.3,688.2 131.8,676.5 132.2,688.3 132.7,688.0 133.1,688.6 133.6,676.1 134.0,689.0 134.4,684.4 134.9,676.3 135.3,683.3 135.8,689.3 136.2,689.3 136.7,675.7 137.1,687.1 137.6,689.1 138.0,683.3 138.4,677.0 138.9,687.1 139.3,688.8 139.8,655.2 140.2,684.3 140.7,677.2 141.1,689.1 141.6,677.7 142.0,679.8 142.4,682.7 142.9,685.9 143.3,689.3 143.8,683.8 144.2,685.5 144.7,679.8 145.1,632.5 145.6,688.6 146.0,689.3 146.4,651.0 146.9,689.2 147.3,683.2 147.8,685.0 148.2,686.7 148.7,688.3 149.1,672.9 149.6,684.2 150.0,619.1 150.4,682.2 150.9,677.6 151.3,684.1 151.8,673.9 152.2,675.5 152.7,679.9 153.1,689.3 153.6,685.6 154.0,683.7 154.4,688.5 154.9,683.9 155.3,680.2 155.8,678.1 156.2,677.9 156.7,678.2 157.1,687.2 157.6,681.6 158.0,683.9 158.4,661.3 158.9,688.9 159.3,688.5 159.8,679.1 160.2,679.0 160.7,688.0 161.1,677.8 161.6,677.6 162.0,680.9 162.4,684.7 162.9,689.2 163.3,688.0 163.8,678.0 164.2,673.2 164.7,688.6 165.1,689.3 165.6,686.6 166.0,673.0 166.4,688.1 166.9,639.7 167.3,677.6 167.8,676.1 168.2,671.5 168.7,680.4 169.1,688.3 169.6,685.3 170.0,688.3 170.4,680.7 170.9,686.5 171.3,679.1 171.8,689.3 172.2,688.1 172.7,688.1 173.1,659.3 173.6,678.8 174.0,675.4 174.4,689.0 174.9,684.7 175.3,689.3 175.8,687.9 176.2,688.8 176.7,680.4 177.1,676.8 177.6,676.6 178.0,654.5 178.4,685.9 178.9,688.1 179.3,681.1 179.8,688.1 180.2,678.8 180.7,684.9 181.1,683.5 181.6,676.1 182.0,674.7 182.4,687.7 182.9,679.9 183.3,687.7 183.8,689.3 184.2,649.0 184.7,660.3 185.1,687.6 185.6,680.2 186.0,677.1 186.4,654.8 186.9,680.4 187.3,686.2 187.8,689.3 188.2,683.7 188.7,688.6 189.1,624.3 189.6,686.1 190.0,687.1 190.4,688.3 190.9,688.3 191.3,683.5 191.7,687.8 192.2,683.7 192.6,681.6 193.0,687.4 193.5,676.4 193.9,674.6 194.3,689.3 194.8,689.2 195.2,689.0 195.7,685.0 196.1,687.5 196.5,680.5 197.0,674.4 197.4,685.6 197.8,662.5 198.3,688.3 198.7,676.5 199.1,678.9 199.6,677.4 200.0,684.8 200.4,685.7 200.9,680.5 201.3,664.4 201.8,688.9 202.2,663.4 202.7,686.9 203.1,684.5 203.6,684.1 204.0,688.2 204.4,689.3 204.9,680.9 205.3,680.6 205.8,680.6 206.2,687.4 206.7,687.3 207.1,683.3 207.6,687.0 208.0,681.2 208.4,685.1 208.9,685.0 209.3,669.6 209.8,689.0 210.2,688.5 210.7,685.1 211.1,679.3 211.6,677.9 212.0,657.8 212.4,688.6 212.9,687.7 213.3,688.3 213.8,688.4 214.2,688.7 214.7,658.3 215.1,680.5 215.6,685.4 216.0,677.3 216.4,683.9 216.9,681.7 217.3,678.4 217.8,685.1 218.2,688.4 218.7,686.9 219.1,686.5 219.6,688.8 220.0,659.5 220.4,681.7 220.9,687.7 221.3,689.3 221.8,689.1 222.2,687.3 222.7,667.8 223.1,686.3 223.6,678.0 224.0,688.4 224.4,687.5 224.9,684.5 225.3,688.8 225.8,680.0 226.2,677.7 226.7,689.3 227.1,687.1 227.6,681.1 228.0,689.3 228.4,685.1 228.9,681.1 229.3,678.3 229.8,688.7 230.2,678.8 230.7,561.0 231.1,682.4 231.6,688.5 232.0,689.2 232.4,638.7 232.9,677.7 233.3,688.3 233.8,677.7 234.2,677.7 234.7,686.2 235.1,686.4 235.6,678.5 236.0,651.0 236.4,684.8 236.9,688.8 237.3,682.3 237.8,686.0 238.2,684.3 238.7,687.1 239.1,679.9 239.6,680.8 240.0,689.3 240.4,685.0 240.9,669.8 241.3,656.2 241.8,679.1 242.2,681.4 242.7,683.5 243.1,679.4 243.6,688.3 244.0,688.0 244.4,679.2 244.9,683.7 245.3,688.0 245.8,680.4 246.2,683.6 246.7,689.3 247.1,678.6 247.6,682.3 248.0,650.0 248.4,689.2 248.9,689.3 249.3,689.2 249.8,682.0 250.2,689.3 250.7,688.0 251.1,687.7 251.6,666.9 252.0,688.1 252.4,689.1 252.9,685.6 253.3,689.2 253.8,687.0 254.2,688.1 254.7,689.2 255.1,689.1 255.6,682.5 256.0,689.2 256.4,685.8 256.9,684.2 257.3,679.2 257.8,684.4 258.2,681.6 258.7,680.0 259.1,689.1 259.6,665.5 260.0,686.8 260.4,688.2 260.9,686.2 261.3,687.8 261.8,688.9 262.2,687.1 262.7,686.3 263.1,680.9 263.6,641.8 264.0,689.1 264.4,684.5 264.9,680.3 265.3,686.9 265.8,688.0 266.2,680.0 266.7,680.9 267.1,689.3 267.6,689.1 268.0,684.8 268.4,687.1 268.9,686.1 269.3,687.0 269.8,689.1 270.2,682.2 270.7,680.0 271.1,684.6 271.6,688.0 272.0,683.3 272.4,688.1 272.9,689.1 273.3,684.8 273.8,660.4 274.2,680.1 274.7,641.8 275.1,689.0 275.6,685.2 276.0,689.2 276.4,688.2 276.9,678.7 277.3,687.4 277.8,687.5 278.2,679.0 278.7,689.2 279.1,644.9 279.6,683.0 280.0,686.5 280.4,689.0 280.9,686.7 281.3,687.4 281.8,689.3 282.2,688.9 282.7,689.0 283.1,689.2 283.6,683.5 284.0,683.4 284.4,687.3 284.9,681.6 285.3,681.4 285.8,681.3 286.2,688.7 286.7,687.6 287.1,688.9 287.6,689.3 288.0,678.5 288.4,685.4 288.9,684.0 289.3,685.6 289.8,688.2 290.2,689.3 290.7,688.1 291.1,687.0 291.6,689.2 292.0,688.4 292.4,680.3 292.9,667.5 293.3,684.9 293.8,687.0 294.2,683.4 294.7,684.9 295.1,687.1 295.6,678.3 296.0,682.3 296.4,686.9 296.9,681.1 297.3,682.3 297.8,678.6 298.2,686.9 298.7,688.7 299.1,686.2 299.6,684.2 300.0,688.5 300.4,689.1 300.9,686.1 301.3,670.6 301.8,689.2 302.2,683.6 302.7,688.4 303.1,679.8 303.6,680.0 304.0,682.4 304.4,689.1 304.9,688.5 305.3,686.0 305.8,685.1 306.2,686.4 306.7,689.3 307.1,688.8 307.6,679.1 308.0,686.9 308.4,685.7 308.9,679.1 309.3,688.4 309.8,686.9 310.2,683.7 310.7,688.3 311.1,648.0 311.6,681.8 312.0,681.2 312.4,606.8 312.9,681.2 313.3,689.3 313.8,689.2 314.2,684.4 314.7,682.1 315.1,689.2 315.6,686.8 316.0,684.9 316.4,687.4 316.9,689.3 317.3,685.0 317.8,684.6 318.2,684.7 318.7,688.7 319.1,687.7 319.6,689.3 320.0,648.0 320.4,688.5 320.9,685.3 321.3,677.2 321.8,685.4 322.2,687.8 322.7,681.0 323.1,679.1 323.6,687.7 324.0,683.4 324.4,678.0 324.9,688.6 325.3,655.1 325.8,687.0 326.2,685.1 326.7,650.0 327.1,668.1 327.6,687.6 328.0,687.0 328.4,665.9 328.9,689.0 329.3,687.4 329.8,676.6 330.2,682.4 330.7,672.1 331.1,650.0 331.6,663.5 332.0,688.4 332.4,661.1 332.9,679.3 333.3,686.9 333.8,684.3 334.2,666.6 334.7,582.7 335.1,674.8 335.6,679.0 336.0,689.3 336.5,685.0 336.9,670.8 337.4,670.8 337.8,655.0 338.3,682.4 338.7,673.8 339.2,677.7 339.6,682.3 340.1,655.0 340.5,681.0 341.0,689.2 341.4,663.3 341.9,689.1 342.3,580.6 342.8,660.5 343.2,677.8 343.7,688.5 344.1,686.8 344.6,681.8 345.0,617.1 345.4,689.3 345.8,689.2 346.2,689.1 346.7,687.1 347.1,655.0 347.5,688.2 347.9,660.7 348.3,686.5 348.8,684.9 349.2,685.1 349.6,687.9 350.0,580.6" stroke="#0000ff" stroke-width="1.6"/>
<polyline points="48.3,559.0 48.7,588.5 49.1,550.3 49.6,580.6 50.0,564.2 50.4,575.2 50.8,551.9 51.2,577.4 51.6,570.3 52.0,582.8 52.4,558.6 52.8,598.1 53.2,561.0 53.7,599.8 54.1,569.0 54.5,580.2 54.9,572.4 55.2,600.9 55.6,564.6 56.0,595.0 56.4,572.6 56.8,593.8 57.2,581.6 57.6,601.7 58.0,584.9 58.4,619.3 58.8,589.2 59.2,626.9 59.6,588.7 60.0,614.0 60.4,588.5 60.8,632.7 61.2,595.9 61.6,619.1 62.0,614.0 62.4,643.5 62.8,596.4 63.2,641.6 63.6,607.8 64.0,625.8 64.4,623.0 64.8,649.1 65.2,614.8 65.6,643.3 66.0,634.8 66.4,645.3 66.8,639.1 67.2,669.5 67.6,649.8 68.0,662.3 68.3,657.9 68.7,674.2 69.0,671.1 69.4,648.0 69.9,661.2 70.3,681.2 70.7,663.8 71.1,679.6 71.6,661.2 72.0,674.0 72.4,657.9 72.9,678.4 73.3,667.9 73.8,683.6 74.2,667.9 74.7,675.9 75.1,628.4 75.6,675.6 76.0,664.3 76.4,680.8 76.9,667.6 77.3,681.9 77.8,665.0 78.2,680.4 78.7,656.2 79.1,627.5 79.6,667.7 80.0,672.7 80.4,665.0 80.9,664.5 81.3,662.9 81.7,683.4 82.2,667.0 82.6,645.0 83.0,658.8 83.5,677.7 83.9,662.1 84.3,682.8 84.8,660.2 85.2,683.8 85.7,664.3 86.1,633.3 86.5,661.5 87.0,681.5 87.4,664.6 87.8,678.1 88.3,664.6 88.7,680.6 89.1,656.7 89.6,677.4 90.0,668.0 90.4,683.2 90.9,662.0 91.3,674.0 91.7,652.9 92.2,682.0 92.6,667.2 93.0,676.7 93.5,626.7 93.9,675.9 94.3,663.8 94.8,684.6 95.2,663.9 95.7,683.6 96.1,664.1 96.5,661.7 97.0,666.7 97.4,685.0 97.8,667.2 98.3,676.4 98.7,664.9 99.1,680.0 99.6,671.5 100.0,676.5 100.4,667.2 100.9,643.1 101.3,668.0 101.7,682.1 102.1,670.9 102.6,673.2 103.0,666.7 103.4,681.4 103.9,660.0 104.3,679.4 104.7,670.6 105.1,683.5 105.6,668.9 106.0,680.7 106.5,675.5 106.9,683.1 107.3,675.2 107.8,666.0 108.2,672.9 108.7,680.2 109.2,671.5 109.6,680.5 110.0,680.5 110.5,684.6 111.0,679.3 111.4,679.8 111.8,681.8 112.3,683.3 112.8,680.7 113.2,683.3 113.7,682.5 114.1,679.4 114.5,681.6 115.0,683.7 115.4,682.4 115.9,684.6 116.3,683.8 116.8,687.1 117.2,682.1 117.6,681.5 118.1,683.3 118.5,684.3 119.0,682.2 119.4,682.1 119.9,685.1 120.3,684.1 120.7,683.0 121.2,683.6 121.6,683.3 122.1,681.8 122.5,680.6 122.9,684.9 123.4,688.2 123.8,686.1 124.3,684.8 124.7,683.8 125.1,686.5 125.6,684.2 126.0,685.0 126.5,684.9 126.9,686.7 127.4,687.2 127.8,685.2 128.2,685.8 128.7,685.1 129.1,686.0 129.6,682.9 130.0,686.5 130.4,684.8 130.9,685.8 131.3,685.8 131.8,685.0 132.2,686.4 132.7,685.4 133.1,686.2 133.6,684.6 134.0,685.1 134.5,685.2 134.9,684.2 135.4,686.1 135.8,685.9 136.3,685.0 136.7,684.8 137.2,686.6 137.6,683.3 138.1,685.0 138.5,684.2 139.0,686.6 139.4,685.7 139.9,686.1 140.3,686.2 140.7,685.2 141.2,689.3 141.6,685.9 142.1,683.4 142.5,684.9 143.0,685.9 143.4,685.8 143.9,687.8 144.3,684.6 144.8,687.7 145.2,686.1 145.7,684.9 146.1,683.9 146.6,684.1 147.0,687.2 147.5,688.4 147.9,685.5 148.4,685.9 148.8,684.0 149.3,684.8 149.7,685.6 150.1,684.5 150.6,685.8 151.0,684.7 151.5,685.2 151.9,684.2 152.4,685.9 152.8,687.2 153.3,684.1 153.7,685.7 154.2,684.9 154.6,683.9 155.1,685.3 155.5,687.4 156.0,687.1 156.4,686.5 156.9,684.7 157.3,684.4 157.8,684.9 158.2,685.8 158.7,684.3 159.1,684.6 159.6,684.4 160.0,686.8 160.4,683.7 160.9,681.8 161.3,683.9 161.8,683.3 162.2,684.2 162.7,684.5 163.1,683.2 163.6,683.9 164.0,683.6 164.5,685.3 164.9,684.9 165.4,684.3 165.8,687.8 166.3,685.0 166.7,683.9 167.2,685.4 167.6,685.5 168.1,683.4 168.5,685.2 169.0,682.9 169.4,683.2 169.9,682.2 170.3,683.5 170.7,683.3 171.2,684.0 171.6,684.0 172.1,684.4 172.5,684.1 173.0,682.0 173.4,684.2 173.9,682.0 174.3,688.7 174.8,685.3 175.2,684.8 175.7,684.5 176.1,685.2 176.6,683.2 177.0,683.5 177.5,683.6 177.9,684.5 178.4,683.7 178.8,684.7 179.3,685.3 179.7,682.2 180.1,681.9 180.6,681.8 181.0,682.0 181.5,681.4 181.9,685.4 182.4,682.4 182.8,683.7 183.3,681.4 183.7,682.8 184.2,684.6 184.6,680.9 185.1,681.9 185.5,685.4 186.0,681.3 186.4,680.3 186.9,682.0 187.3,682.4 187.8,682.3 188.2,686.2 188.7,681.8 189.1,683.8 189.6,681.1 190.0,681.3 190.4,682.4 190.9,684.8 191.3,679.9 191.7,678.4 192.2,679.2 192.6,683.5 193.0,683.6 193.5,680.9 193.9,679.9 194.3,682.4 194.8,682.1 195.2,682.7 195.7,681.5 196.1,683.5 196.5,687.5 197.0,683.3 197.4,682.0 197.8,684.1 198.3,682.2 198.7,685.4 199.1,682.6 199.6,673.9 200.0,680.8 200.4,689.0 200.9,681.7 201.3,681.5 201.8,675.7 202.2,680.3 202.7,687.6 203.1,679.0 203.6,682.5 204.0,682.8 204.4,686.2 204.9,682.6 205.3,683.3 205.8,684.7 206.2,683.1 206.7,683.5 207.1,682.5 207.6,684.6 208.0,684.0 208.4,684.5 208.9,683.9 209.3,683.8 209.8,684.1 210.2,683.0 210.7,684.3 211.1,684.3 211.6,681.6 212.0,684.9 212.4,683.0 212.9,682.4 213.3,683.8 213.8,676.0 214.2,682.6 214.7,684.8 215.1,684.5 215.6,684.1 216.0,683.6 216.4,682.3 216.9,683.4 217.3,683.5 217.8,686.0 218.2,682.1 218.7,685.8 219.1,684.4 219.6,685.6 220.0,684.7 220.4,682.9 220.9,684.6 221.3,686.1 221.7,677.6 222.2,684.2 222.6,683.5 223.0,686.0 223.5,684.3 223.9,681.8 224.3,683.3 224.8,683.7 225.2,687.0 225.7,682.6 226.1,684.8 226.5,681.8 227.0,682.6 227.4,683.6 227.8,681.2 228.3,682.1 228.7,682.6 229.1,680.9 229.6,682.7 230.0,683.4 230.4,687.5 230.9,679.7 231.3,682.0 231.7,682.8 232.2,680.6 232.6,682.2 233.0,680.1 233.5,679.4 233.9,678.9 234.3,685.0 234.8,681.4 235.2,684.8 235.7,683.9 236.1,676.8 236.5,678.2 237.0,677.6 237.4,676.1 237.8,679.7 238.3,681.2 238.7,682.6 239.1,680.1 239.6,673.4 240.0,679.7 240.4,683.3 240.9,684.7 241.3,678.5 241.7,679.1 242.2,685.6 242.6,674.5 243.0,678.3 243.5,677.9 243.9,680.5 244.3,682.7 244.8,681.3 245.2,682.6 245.7,680.4 246.1,681.7 246.5,682.2 247.0,684.5 247.4,681.5 247.8,679.8 248.3,683.9 248.7,684.3 249.1,679.8 249.6,681.5 250.0,682.4 250.4,683.7 250.9,681.7 251.3,679.0 251.8,673.8 252.2,685.8 252.6,687.0 253.1,677.1 253.5,686.3 254.0,683.0 254.4,686.5 254.9,680.1 255.3,682.4 255.7,684.5 256.2,676.3 256.6,683.2 257.1,681.5 257.5,681.4 257.9,683.4 258.4,681.7 258.8,681.1 259.3,682.3 259.7,680.8 260.1,681.1 260.6,684.6 261.0,676.3 261.5,685.3 261.9,677.9 262.4,684.3 262.8,683.8 263.2,679.1 263.7,684.3 264.1,683.4 264.6,683.7 265.0,682.9 265.4,686.0 265.9,678.4 266.3,685.3 266.8,683.4 267.2,680.9 267.6,687.4 268.1,683.7 268.5,687.9 269.0,683.4 269.4,685.6 269.9,684.5 270.3,679.8 270.7,684.1 271.2,683.6 271.6,683.0 272.1,682.6 272.5,683.4 272.9,682.4 273.4,684.3 273.8,683.0 274.3,682.6 274.7,684.0 275.1,684.4 275.6,682.1 276.0,686.2 276.5,683.8 276.9,685.1 277.4,685.1 277.8,684.9 278.2,681.0 278.7,685.8 279.1,687.2 279.6,684.6 280.0,684.2 280.4,684.3 280.9,677.7 281.3,680.0 281.8,689.1 282.2,684.5 282.7,685.7 283.1,686.2 283.6,682.8 284.0,681.4 284.4,684.7 284.9,679.9 285.3,684.8 285.8,685.1 286.2,685.7 286.7,687.6 287.1,682.6 287.6,684.2 288.0,682.3 288.4,685.8 288.9,683.5 289.3,685.5 289.8,683.4 290.2,682.6 290.7,684.1 291.1,680.5 291.6,686.7 292.0,683.5 292.4,682.7 292.9,684.6 293.3,683.5 293.8,683.4 294.2,685.5 294.7,682.7 295.1,685.5 295.6,684.3 296.0,683.4 296.4,685.6 296.9,681.8 297.3,683.9 297.8,684.1 298.2,684.4 298.7,684.2 299.1,684.7 299.6,684.6 300.0,685.1 300.4,686.2 300.9,681.6 301.3,684.5 301.8,684.9 302.2,683.7 302.7,684.8 303.1,683.6 303.6,684.1 304.0,678.6 304.4,684.4 304.9,683.8 305.3,685.2 305.8,685.3 306.2,684.2 306.7,684.7 307.1,681.8 307.6,684.6 308.0,684.5 308.4,689.3 308.9,687.3 309.3,684.8 309.8,686.3 310.2,684.5 310.7,686.3 311.1,684.8 311.6,680.5 312.0,683.1 312.4,685.4 312.9,685.1 313.3,685.8 313.8,685.1 314.2,685.5 314.7,686.1 315.1,683.5 315.6,687.3 316.0,687.9 316.4,683.2 316.9,683.6 317.3,685.2 317.8,682.6 318.2,680.5 318.7,683.6 319.1,685.9 319.6,682.1 320.0,684.7 320.4,684.2 320.9,684.2 321.3,684.3 321.7,683.2 322.2,684.8 322.6,684.0 323.0,685.6 323.5,685.1 323.9,685.7 324.3,682.5 324.8,685.7 325.2,680.5 325.7,683.9 326.1,682.5 326.5,684.6 327.0,679.4 327.4,686.3 327.8,684.7 328.3,682.9 328.7,686.2 329.1,684.3 329.6,685.1 330.0,683.8 330.4,685.0 330.8,683.0 331.2,683.4 331.7,684.0 332.1,683.1 332.5,682.8 332.9,682.2 333.3,681.2 333.8,683.0 334.2,683.8 334.6,682.1 335.0,681.2 335.4,681.3 335.8,681.8 336.2,684.7 336.7,681.4 337.1,683.9 337.5,678.7 337.9,685.0 338.3,683.6 338.8,683.3 339.2,682.9 339.6,683.9 340.0,682.5 340.4,682.9 340.8,679.5 341.2,683.3 341.7,679.9 342.1,683.2 342.5,681.4 342.9,688.9 343.3,681.6 343.8,679.6 344.2,680.4 344.6,680.2 345.0,681.9 345.4,681.1 345.8,682.3 346.2,678.0 346.7,683.9 347.1,681.4 347.5,678.2 347.9,681.7 348.3,682.8 348.8,683.0 349.2,685.1 349.6,685.9 350.0,685.2" stroke="#f03c3c" stroke-width="1.4"/>
<line x1="47.5" y1="631.5" x2="357.8" y2="631.5" stroke="#0000ff" stroke-width="2" stroke-dasharray="4.0 2.55" stroke-linecap="butt"/>
<line x1="47.5" y1="674.3" x2="357.8" y2="674.3" stroke="#ff0000" stroke-width="2" stroke-dasharray="4.0 2.55" stroke-linecap="butt"/>
</g>
<line x1="46.7" y1="495" x2="357.8" y2="495" stroke="#000" stroke-width="1.4"/>
<line x1="46.7" y1="689.7" x2="358.40000000000003" y2="689.7" stroke="#000" stroke-width="1.4"/>
<line x1="47.50" y1="689.7" x2="47.50" y2="694.7" stroke="#000" stroke-width="1.4"/>
<text x="47.5" y="708.9" font-size="13" fill="#111" text-anchor="middle">0</text>
<line x1="69.66" y1="689.7" x2="69.66" y2="692.1" stroke="#000" stroke-width="1.4"/>
<line x1="91.83" y1="689.7" x2="91.83" y2="694.7" stroke="#000" stroke-width="1.4"/>
<text x="91.8" y="708.9" font-size="13" fill="#111" text-anchor="middle">100</text>
<line x1="113.99" y1="689.7" x2="113.99" y2="692.1" stroke="#000" stroke-width="1.4"/>
<line x1="136.16" y1="689.7" x2="136.16" y2="694.7" stroke="#000" stroke-width="1.4"/>
<text x="136.2" y="708.9" font-size="13" fill="#111" text-anchor="middle">200</text>
<line x1="158.32" y1="689.7" x2="158.32" y2="692.1" stroke="#000" stroke-width="1.4"/>
<line x1="180.49" y1="689.7" x2="180.49" y2="694.7" stroke="#000" stroke-width="1.4"/>
<text x="180.5" y="708.9" font-size="13" fill="#111" text-anchor="middle">300</text>
<line x1="202.65" y1="689.7" x2="202.65" y2="692.1" stroke="#000" stroke-width="1.4"/>
<line x1="224.81" y1="689.7" x2="224.81" y2="694.7" stroke="#000" stroke-width="1.4"/>
<text x="224.8" y="708.9" font-size="13" fill="#111" text-anchor="middle">400</text>
<line x1="246.98" y1="689.7" x2="246.98" y2="692.1" stroke="#000" stroke-width="1.4"/>
<line x1="269.14" y1="689.7" x2="269.14" y2="694.7" stroke="#000" stroke-width="1.4"/>
<text x="269.1" y="708.9" font-size="13" fill="#111" text-anchor="middle">500</text>
<line x1="291.31" y1="689.7" x2="291.31" y2="692.1" stroke="#000" stroke-width="1.4"/>
<line x1="313.47" y1="689.7" x2="313.47" y2="694.7" stroke="#000" stroke-width="1.4"/>
<text x="313.5" y="708.9" font-size="13" fill="#111" text-anchor="middle">600</text>
<line x1="335.64" y1="689.7" x2="335.64" y2="692.1" stroke="#000" stroke-width="1.4"/>
<line x1="357.80" y1="689.7" x2="357.80" y2="694.7" stroke="#000" stroke-width="1.4"/>
<text x="357.8" y="708.9" font-size="13" fill="#111" text-anchor="middle">700</text>
<line x1="47.5" y1="494.2" x2="47.5" y2="690.5" stroke="#0000ff" stroke-width="1.7"/>
<line x1="42.90" y1="689.70" x2="47.5" y2="689.70" stroke="#0000ff" stroke-width="1.5"/>
<text x="38.9" y="694.0" font-size="13" fill="#0000ff" text-anchor="end">0</text>
<line x1="45.10" y1="665.36" x2="47.5" y2="665.36" stroke="#0000ff" stroke-width="1.5"/>
<line x1="42.90" y1="641.03" x2="47.5" y2="641.03" stroke="#0000ff" stroke-width="1.5"/>
<text x="38.9" y="645.3" font-size="13" fill="#0000ff" text-anchor="end">20</text>
<line x1="45.10" y1="616.69" x2="47.5" y2="616.69" stroke="#0000ff" stroke-width="1.5"/>
<line x1="42.90" y1="592.35" x2="47.5" y2="592.35" stroke="#0000ff" stroke-width="1.5"/>
<text x="38.9" y="596.6" font-size="13" fill="#0000ff" text-anchor="end">40</text>
<line x1="45.10" y1="568.01" x2="47.5" y2="568.01" stroke="#0000ff" stroke-width="1.5"/>
<line x1="42.90" y1="543.67" x2="47.5" y2="543.67" stroke="#0000ff" stroke-width="1.5"/>
<text x="38.9" y="548.0" font-size="13" fill="#0000ff" text-anchor="end">60</text>
<line x1="45.10" y1="519.34" x2="47.5" y2="519.34" stroke="#0000ff" stroke-width="1.5"/>
<line x1="42.90" y1="495.00" x2="47.5" y2="495.00" stroke="#0000ff" stroke-width="1.5"/>
<text x="38.9" y="499.3" font-size="13" fill="#0000ff" text-anchor="end">80</text>
<line x1="357.8" y1="494.2" x2="357.8" y2="690.5" stroke="#f03434" stroke-width="1.5"/>
<line x1="357.8" y1="689.70" x2="362.40" y2="689.70" stroke="#f03434" stroke-width="1.5"/>
<text x="365.8" y="694.0" font-size="13" fill="#f03434" text-anchor="start">0</text>
<line x1="357.8" y1="670.23" x2="360.20" y2="670.23" stroke="#f03434" stroke-width="1.5"/>
<line x1="357.8" y1="650.76" x2="362.40" y2="650.76" stroke="#f03434" stroke-width="1.5"/>
<text x="365.8" y="655.1" font-size="13" fill="#f03434" text-anchor="start">3</text>
<line x1="357.8" y1="631.29" x2="360.20" y2="631.29" stroke="#f03434" stroke-width="1.5"/>
<line x1="357.8" y1="611.82" x2="362.40" y2="611.82" stroke="#f03434" stroke-width="1.5"/>
<text x="365.8" y="616.1" font-size="13" fill="#f03434" text-anchor="start">6</text>
<line x1="357.8" y1="592.35" x2="360.20" y2="592.35" stroke="#f03434" stroke-width="1.5"/>
<line x1="357.8" y1="572.88" x2="362.40" y2="572.88" stroke="#f03434" stroke-width="1.5"/>
<text x="365.8" y="577.2" font-size="13" fill="#f03434" text-anchor="start">9</text>
<line x1="357.8" y1="553.41" x2="360.20" y2="553.41" stroke="#f03434" stroke-width="1.5"/>
<line x1="357.8" y1="533.94" x2="362.40" y2="533.94" stroke="#f03434" stroke-width="1.5"/>
<text x="365.8" y="538.2" font-size="13" fill="#f03434" text-anchor="start">12</text>
<line x1="357.8" y1="514.47" x2="360.20" y2="514.47" stroke="#f03434" stroke-width="1.5"/>
<line x1="357.8" y1="495.00" x2="362.40" y2="495.00" stroke="#f03434" stroke-width="1.5"/>
<text x="365.8" y="499.3" font-size="13" fill="#f03434" text-anchor="start">15</text>
<text transform="translate(23.8,595.2) rotate(-90)" font-size="13" fill="#111" text-anchor="middle">T<tspan font-size="10.5" dy="-6.3">2</tspan></text>
<text x="196.6" y="723.0" font-size="13" fill="#111" text-anchor="middle">F3 stand sampling point</text>
<text x="56.2" y="513.2" font-size="17" fill="#111" text-anchor="start">(e)</text>
<line x1="212.8" y1="507.5" x2="242.2" y2="507.5" stroke="#0000ff" stroke-width="1.6"/>
<line x1="212.8" y1="526.0" x2="242.2" y2="526.0" stroke="#f03c3c" stroke-width="1.4"/>
<text x="245.1" y="512.2" font-size="13" fill="#111">T<tspan font-size="8.5" dy="-5.6">2</tspan><tspan dy="5.6"> statistics of PLS</tspan></text>
<text x="245.1" y="530.2" font-size="13" fill="#111">T<tspan font-size="8.5" dy="-5.6">2</tspan><tspan dy="5.6"> statistics of KPLS</tspan></text>
<clipPath id="clipf"><rect x="437.5" y="496" width="313.30" height="194.00"/></clipPath>
<g clip-path="url(#clipf)" fill="none" stroke-linejoin="round" stroke-linecap="round">
<polyline points="438.1,612.9 438.5,532.0 438.9,615.0 439.3,607.4 439.7,614.0 440.1,617.8 440.6,611.8 441.0,623.5 441.4,613.1 441.8,612.5 442.2,620.3 442.6,622.0 443.0,628.2 443.4,623.3 443.9,624.9 444.3,634.9 444.7,631.6 445.1,633.9 445.5,620.4 445.9,624.1 446.3,624.1 446.8,619.2 447.2,623.7 447.7,637.3 448.1,633.5 448.5,626.0 449.0,634.6 449.4,634.8 449.8,636.3 450.1,645.9 450.4,658.6 450.9,652.1 451.3,638.5 451.7,637.5 452.1,632.6 452.5,619.9 452.9,614.5 453.3,630.1 453.7,628.2 454.2,622.0 454.6,627.3 454.9,617.2 455.3,612.2 455.6,597.2 456.0,604.9 456.4,611.6 456.8,629.9 457.2,640.6 457.6,644.5 458.0,645.6 458.3,642.7 458.7,648.9 459.1,651.3 459.5,654.1 459.9,647.3 460.3,655.6 460.7,657.4 461.2,661.1 461.6,656.9 462.1,662.8 462.5,658.1 462.9,664.3 463.4,662.4 463.8,663.3 464.3,661.6 464.7,667.5 465.2,666.6 465.6,663.4 466.0,668.8 466.5,654.3 466.9,663.0 467.4,654.6 467.8,654.8 468.2,653.3 468.7,662.1 469.1,654.5 469.6,661.9 470.0,659.4 470.4,650.1 470.9,651.2 471.3,664.4 471.8,664.5 472.2,666.3 472.7,660.9 473.1,665.6 473.5,659.4 474.0,669.0 474.4,667.8 474.9,661.2 475.3,667.5 475.7,670.1 476.2,667.7 476.6,664.9 477.1,671.1 477.5,670.8 478.0,667.4 478.4,671.2 478.8,672.3 479.3,667.1 479.7,665.4 480.2,667.5 480.6,671.6 481.0,668.9 481.5,656.5 481.9,668.0 482.4,667.6 482.8,657.6 483.2,670.6 483.7,669.3 484.1,672.7 484.6,662.6 485.0,668.1 485.5,670.9 485.9,671.8 486.3,673.1 486.8,671.6 487.2,670.6 487.7,673.1 488.1,666.2 488.5,667.4 489.0,672.8 489.4,673.1 489.9,666.8 490.3,672.7 490.7,673.9 491.2,668.0 491.6,667.2 492.1,673.5 492.5,670.5 493.0,671.2 493.4,671.1 493.8,670.4 494.3,661.9 494.7,668.5 495.2,662.6 495.6,668.0 496.0,665.8 496.5,665.7 496.9,665.8 497.4,666.9 497.8,667.4 498.3,672.8 498.7,673.0 499.1,668.2 499.6,672.0 500.0,673.7 500.5,669.2 500.9,671.7 501.3,667.4 501.8,675.0 502.2,663.6 502.7,676.2 503.1,663.0 503.5,677.3 504.0,673.4 504.4,678.3 504.9,675.5 505.3,676.7 505.8,666.7 506.2,670.6 506.6,673.2 507.1,673.9 507.5,674.0 508.0,676.9 508.4,677.5 508.8,671.4 509.3,674.8 509.7,662.5 510.2,672.9 510.6,678.1 511.0,663.8 511.5,673.9 511.9,660.7 512.4,675.0 512.8,673.0 513.3,669.9 513.7,673.9 514.1,672.5 514.6,672.8 515.0,672.5 515.5,669.9 515.9,670.2 516.3,666.3 516.8,672.7 517.2,673.3 517.7,673.7 518.1,674.9 518.5,674.6 519.0,675.1 519.4,673.9 519.8,667.6 520.3,664.3 520.7,649.3 521.1,638.2 521.5,641.7 521.9,644.0 522.3,642.6 522.7,641.1 523.1,636.7 523.5,634.8 523.9,643.0 524.2,645.7 524.6,659.1 525.0,659.6 525.4,657.2 525.8,659.3 526.2,660.4 526.6,663.6 527.1,645.4 527.5,652.2 528.0,650.3 528.4,644.9 528.9,632.8 529.3,628.8 529.7,639.9 530.1,644.1 530.6,648.9 531.0,648.2 531.4,653.5 531.8,658.1 532.2,662.0 532.7,660.6 533.1,650.8 533.6,661.4 534.0,662.0 534.4,662.0 534.9,656.8 535.2,658.8 535.6,649.6 536.0,648.5 536.3,644.2 536.7,654.0 537.1,657.4 537.6,648.0 538.0,662.8 538.4,666.9 538.8,667.5 539.3,667.9 539.7,663.3 540.2,668.5 540.6,669.9 541.1,667.5 541.5,661.0 541.9,662.5 542.4,666.4 542.8,667.6 543.3,667.5 543.7,666.9 544.1,660.1 544.6,661.6 545.0,665.8 545.5,657.1 545.9,651.4 546.3,663.5 546.8,652.7 547.2,661.2 547.7,663.6 548.1,663.3 548.6,662.4 549.0,664.2 549.4,665.4 549.9,666.1 550.3,663.4 550.8,661.8 551.2,653.6 551.6,657.4 552.1,660.1 552.5,660.4 553.0,660.9 553.4,655.5 553.8,649.3 554.2,655.0 554.6,646.4 555.1,641.7 555.5,646.8 555.9,652.4 556.3,644.9 556.7,654.5 557.1,659.8 557.5,658.1 558.0,657.8 558.4,658.2 558.9,657.9 559.3,660.1 559.7,663.7 560.2,652.1 560.6,659.9 561.1,652.9 561.5,660.3 561.9,656.7 562.4,659.7 562.8,653.9 563.3,660.8 563.7,657.1 564.1,652.3 564.6,659.7 565.0,658.1 565.5,660.3 565.9,653.5 566.4,661.9 566.8,659.3 567.2,658.5 567.6,654.8 568.0,649.7 568.4,633.7 568.9,640.9 569.3,644.1 569.7,646.2 570.1,652.1 570.5,663.5 570.9,665.6 571.4,661.7 571.8,668.7 572.2,660.9 572.7,664.3 573.1,655.1 573.6,668.8 574.0,665.0 574.4,670.1 574.9,669.4 575.3,668.3 575.8,668.1 576.2,665.8 576.7,668.1 577.1,665.6 577.5,667.4 577.9,668.4 578.3,662.7 578.7,669.6 579.2,671.2 579.6,675.1 580.0,669.3 580.4,665.5 580.8,677.9 581.2,675.7 581.7,671.9 582.1,679.5 582.5,680.5 583.0,680.7 583.4,666.5 583.9,682.1 584.3,680.0 584.7,677.5 585.2,683.9 585.6,675.1 586.1,684.6 586.5,683.5 586.9,683.7 587.4,680.5 587.8,673.9 588.2,687.1 588.6,686.9 589.0,687.8 589.4,687.9 589.9,677.6 590.3,688.0 590.7,685.6 591.1,685.4 591.5,686.0 590.0,682.1 590.4,685.1 590.8,684.9 591.2,674.4 591.6,685.4 592.1,685.3 592.5,672.6 592.9,673.8 593.3,686.5 593.7,678.8 594.1,683.6 594.5,684.9 594.9,676.9 595.4,686.3 595.8,683.1 596.2,674.6 596.6,671.1 597.0,676.8 597.4,682.7 597.8,684.5 598.2,677.8 598.6,684.8 599.1,684.6 599.5,684.0 599.9,669.8 600.3,683.0 600.7,672.8 601.1,684.2 601.5,683.5 601.9,683.4 602.4,681.1 602.8,675.8 603.2,675.9 603.6,680.2 604.0,684.2 604.4,680.2 604.8,678.8 605.2,685.4 605.7,684.4 606.1,686.7 606.5,680.4 606.9,686.6 607.3,686.0 607.7,673.9 608.1,685.3 608.5,684.7 608.9,682.7 609.4,668.1 609.8,671.9 610.2,683.0 610.6,678.4 611.0,682.5 611.4,681.4 611.8,672.0 612.2,682.6 612.7,682.4 613.1,670.5 613.5,682.6 613.9,682.8 614.3,679.8 614.7,679.8 615.1,681.6 615.5,682.3 615.9,676.5 616.4,667.9 616.8,682.1 617.2,682.1 617.6,682.1 618.0,678.7 618.4,681.9 618.8,679.0 619.3,672.7 619.7,669.8 620.2,679.0 620.6,668.9 621.0,681.0 621.5,675.5 621.9,658.3 622.4,676.9 622.8,680.2 623.2,680.9 623.7,680.8 624.1,672.5 624.6,674.4 625.0,677.0 625.4,672.6 625.9,680.6 626.3,670.8 626.8,675.5 627.2,674.4 627.7,680.1 628.1,666.5 628.5,679.5 629.0,679.2 629.4,664.1 629.9,676.7 630.3,673.4 630.7,670.7 631.2,673.8 631.6,677.1 632.1,679.7 632.5,676.5 633.0,679.8 633.4,677.4 633.8,680.1 634.3,664.6 634.7,678.8 635.2,673.4 635.6,675.6 636.0,679.0 636.5,679.4 636.9,680.7 637.4,674.8 637.8,680.7 638.2,680.3 638.6,662.4 639.0,680.0 639.4,673.3 639.8,668.9 640.2,677.5 640.7,664.9 641.1,679.6 641.5,675.3 641.9,663.7 642.3,679.5 642.7,673.1 643.1,674.5 643.5,670.9 644.0,674.0 644.4,668.3 644.8,678.3 645.2,675.0 645.6,675.9 646.0,678.7 646.5,671.2 646.9,677.8 647.4,672.1 647.8,678.7 648.2,673.7 648.7,663.3 649.1,665.5 649.6,666.5 650.0,678.7 650.5,676.6 650.9,672.8 651.3,675.9 651.8,673.5 652.2,677.7 652.7,670.3 653.1,672.0 653.5,673.9 654.0,678.6 654.4,676.4 654.9,662.4 655.3,679.8 655.8,679.8 656.2,674.3 656.6,680.0 657.1,665.5 657.5,680.6 658.0,678.0 658.4,680.4 658.8,681.2 659.2,681.3 659.6,681.0 660.0,667.9 660.4,680.9 660.8,679.1 661.3,682.4 661.7,681.5 662.1,676.4 662.5,670.5 663.0,680.1 663.4,674.0 663.8,671.4 664.3,680.0 664.7,680.2 665.2,674.3 665.6,680.1 666.0,671.7 666.5,679.3 666.9,664.0 667.4,664.2 667.8,678.0 668.3,675.9 668.7,662.6 669.1,674.1 669.5,667.5 669.9,654.1 670.3,672.7 670.7,677.3 671.1,676.9 671.5,668.8 672.0,676.6 672.4,673.8 672.8,670.2 673.3,676.3 673.7,663.9 674.1,662.6 674.6,672.2 675.0,667.1 675.5,670.6 675.9,676.5 676.3,675.2 676.7,674.1 677.2,666.2 677.6,676.2 678.0,656.2 678.5,674.0 678.9,667.2 679.3,675.5 679.8,675.5 680.2,675.5 680.6,672.8 681.1,666.5 681.5,675.2 681.9,675.0 682.4,673.6 682.8,675.3 683.3,673.4 683.7,645.9 684.1,669.7 684.6,668.0 685.0,674.8 685.5,674.7 685.9,673.4 686.3,673.6 686.8,668.4 687.2,674.1 687.7,671.2 688.1,673.7 688.6,669.4 689.0,670.4 689.4,669.1 689.9,669.6 690.3,661.9 690.8,668.4 691.2,662.4 691.6,669.7 692.1,665.6 692.5,669.6 693.0,667.7 693.4,667.3 693.8,670.2 694.3,665.2 694.7,667.0 695.2,655.8 695.6,669.6 696.1,652.1 696.5,664.6 696.9,668.7 697.4,667.5 697.8,654.2 698.3,664.8 698.7,663.0 699.1,665.1 699.6,653.4 700.0,658.0 700.5,667.0 700.9,667.1 701.3,665.9 701.8,664.2 702.2,662.8 702.7,660.0 703.1,665.6 703.6,665.8 704.0,661.8 704.4,666.0 704.9,653.0 705.3,652.1 705.8,665.9 706.2,659.9 706.6,662.4 707.1,653.2 707.5,656.6 708.0,657.5 708.4,660.1 708.9,656.0 709.3,664.4 709.7,664.9 710.2,664.8 710.6,664.0 711.1,651.0 711.5,658.4 711.9,654.7 712.4,664.0 712.8,664.2 713.3,663.5 713.7,664.3 714.1,664.3 714.6,658.8 715.0,661.3 715.5,661.2 715.9,662.2 716.4,663.1 716.8,662.8 717.2,651.6 717.7,645.9 718.1,661.8 718.6,648.9 719.0,651.9 719.4,659.3 719.9,647.1 720.3,660.1 720.8,657.4 721.2,659.7 721.6,659.3 722.1,657.2 722.5,658.2 723.0,657.4 723.4,648.3 723.9,641.8 724.3,652.9 724.7,651.6 725.1,653.6 725.5,652.7 725.9,625.3 726.3,659.7 726.7,662.0 727.1,674.8 727.6,676.4 727.9,667.3 728.3,672.5 728.6,664.0 729.0,656.6 729.4,663.8 729.8,665.5 730.2,656.1 730.7,659.7 731.1,667.6 731.5,666.8 731.9,670.9 732.3,658.1 732.7,669.0 733.1,670.4 733.5,662.7 733.9,649.3 734.4,626.1 734.8,619.4 735.2,609.7 735.5,598.7 735.9,571.5 736.3,565.0 736.6,550.1 737.0,580.4 737.4,610.2 737.9,636.5 738.3,667.6 738.7,665.3 739.1,670.8 739.5,670.3 739.9,671.8 740.3,669.6 740.7,648.1 741.2,645.3 741.6,626.0 742.0,620.3 742.4,614.1 742.8,599.7 743.1,633.9 743.4,663.4" stroke="#0000ff" stroke-width="1.6"/>
<polyline points="438.1,596.5 438.5,599.9 439.0,593.1 439.4,600.2 439.9,596.0 440.3,601.8 440.7,598.9 441.2,602.1 441.6,597.6 442.1,604.3 442.5,598.3 442.9,604.7 443.4,601.5 443.8,607.6 444.3,603.6 444.7,608.4 445.1,601.7 445.6,604.4 446.0,603.2 446.5,608.0 446.9,600.5 447.4,601.4 447.8,595.6 448.2,607.9 448.7,604.7 449.1,612.4 449.6,606.4 450.0,616.8 450.4,612.5 450.9,618.3 451.3,609.3 451.8,618.6 452.2,611.5 452.7,618.4 453.1,613.5 453.5,616.2 454.0,613.1 454.4,617.1 454.9,610.4 455.3,614.2 455.7,609.7 456.2,616.4 456.6,608.8 457.1,612.8 457.5,603.4 457.9,612.7 458.4,606.4 458.8,613.5 459.3,602.9 459.7,609.4 460.2,607.8 460.6,613.0 461.0,609.2 461.5,612.6 461.9,606.0 462.4,613.7 462.8,610.1 463.2,613.4 463.7,610.2 464.1,620.7 464.6,614.9 465.0,623.4 465.4,614.5 465.9,621.4 466.3,618.5 466.7,626.2 467.1,625.3 467.5,629.9 467.9,628.5 468.4,631.1 468.8,627.3 469.3,633.7 469.7,629.9 470.2,632.0 470.6,630.7 471.0,632.4 471.5,628.7 471.9,634.7 472.4,630.2 472.8,636.1 473.2,629.5 473.7,633.9 474.1,632.2 474.6,635.8 475.0,630.0 475.5,633.3 475.9,631.3 476.3,635.6 476.8,626.4 477.2,633.0 477.7,628.0 478.1,631.6 478.5,628.0 479.0,635.4 479.4,633.0 479.9,641.4 480.3,628.8 480.7,635.6 481.2,629.0 481.6,638.2 482.1,638.9 482.5,638.5 483.0,635.5 483.4,638.8 483.8,630.3 484.3,636.8 484.7,634.9 485.2,641.3 485.6,639.5 486.0,641.9 486.5,640.8 486.9,644.9 487.4,637.1 487.8,645.2 488.2,637.8 488.7,642.8 489.1,636.9 489.6,638.5 490.0,639.3 490.5,640.7 490.9,635.2 491.3,636.6 491.8,633.4 492.2,640.7 492.7,634.2 493.1,632.8 493.5,631.0 493.9,633.7 494.3,624.7 494.7,627.8 495.2,625.2 495.6,632.6 496.0,625.2 496.5,630.4 496.9,628.7 497.4,623.7 497.8,630.4 498.3,636.1 498.7,634.3 499.1,634.4 499.6,626.5 500.0,633.6 500.5,626.4 500.9,628.1 501.3,623.0 501.8,630.1 502.2,627.4 502.7,633.1 503.1,630.9 503.5,627.2 504.0,633.1 504.4,639.6 504.9,633.4 505.3,628.9 505.8,633.4 506.2,640.0 506.6,632.7 507.1,638.6 507.5,635.4 508.0,638.8 508.4,635.1 508.8,637.3 509.3,637.5 509.7,634.5 510.2,634.2 510.6,638.0 511.0,628.0 511.5,632.8 511.9,624.9 512.4,623.5 512.8,623.8 513.3,628.0 513.7,621.7 514.1,622.2 514.5,616.2 514.9,615.3 515.3,610.4 515.7,614.2 516.1,614.3 516.5,621.0 517.0,616.8 517.4,622.7 517.8,620.1 518.2,628.2 518.6,624.9 519.0,629.8 519.4,630.3 519.8,626.2 520.3,615.1 520.7,618.1 521.1,606.2 521.5,601.7 521.9,596.3 522.3,605.7 522.7,598.2 523.1,606.9 523.6,603.9 524.0,606.7 524.4,602.7 524.8,607.5 525.2,609.5 525.6,613.0 526.1,605.4 526.5,611.8 526.9,599.5 527.4,602.4 527.8,596.3 528.3,600.2 528.7,591.3 529.1,598.4 529.5,596.1 529.9,606.0 530.3,604.0 530.8,610.0 531.2,595.7 531.7,608.4 532.1,602.1 532.5,607.5 533.0,597.4 533.4,603.2 533.8,595.0 534.3,597.5 534.7,590.9 535.1,592.7 535.5,583.9 535.9,574.4 536.2,592.1 536.6,599.1 536.9,615.6 537.4,620.7 537.8,611.0 538.3,617.3 538.7,609.4 539.1,613.2 539.6,607.4 540.0,611.5 540.4,608.8 540.8,610.2 541.3,606.9 541.7,610.8 542.1,605.3 542.5,610.5 542.9,607.9 543.3,617.7 543.7,616.5 544.1,621.9 544.6,614.6 545.0,617.9 545.5,612.9 545.9,613.5 546.3,607.9 546.8,602.2 547.2,604.3 547.7,608.4 548.1,602.5 548.6,608.8 549.0,600.8 549.4,606.7 549.9,597.8 550.3,603.3 550.8,601.3 551.2,607.8 551.6,606.2 552.1,604.5 552.5,603.3 553.0,608.4 553.4,603.4 553.9,608.2 554.3,602.2 554.7,611.3 555.2,604.7 555.6,612.1 556.1,606.3 556.5,609.8 556.9,608.6 557.4,611.9 557.8,608.1 558.3,611.7 558.7,608.5 559.1,611.0 559.6,611.7 560.0,616.8 560.5,607.8 560.9,613.5 561.4,607.5 561.8,607.9 562.2,603.1 562.7,605.0 563.1,601.1 563.6,609.0 564.0,604.7 564.4,614.7 564.9,611.8 565.3,618.3 565.8,616.4 566.2,620.8 566.6,614.6 567.1,616.5 567.5,610.5 568.0,615.7 568.4,610.1 568.9,612.0 569.3,610.8 569.7,626.7 570.1,625.8 570.5,633.9 570.9,632.5 571.4,638.7 571.8,632.8 572.2,639.2 572.7,632.2 573.1,637.7 573.6,633.9 574.0,639.1 574.4,634.7 574.9,643.5 575.3,633.4 575.8,641.2 576.2,638.4 576.7,639.7 577.1,639.0 577.5,635.5 578.0,638.9 578.4,641.7 578.9,637.8 579.3,643.1 579.7,636.2 580.2,642.7 580.6,648.1 581.0,647.0 581.4,643.6 581.8,651.7 582.2,651.2 582.7,657.6 583.1,654.6 583.5,658.6 583.9,655.1 584.3,662.6 584.7,658.1 585.2,669.7 585.6,661.6 586.1,667.8 586.5,663.4 586.9,672.6 587.4,669.0 587.8,674.4 588.3,667.8 588.7,677.8 589.2,671.3 589.6,676.6 590.0,673.2 590.5,677.0 590.0,669.9 590.4,671.9 590.9,664.6 591.3,672.4 591.8,655.9 592.2,671.1 592.6,665.1 593.1,666.7 593.5,666.8 594.0,672.2 594.4,667.5 594.9,672.7 595.3,678.4 595.7,676.6 596.2,674.4 596.6,677.3 597.1,671.0 597.5,678.0 597.9,670.3 598.4,672.8 598.8,670.6 599.3,672.8 599.7,673.2 600.1,678.6 600.6,673.4 601.0,677.4 601.5,676.0 601.9,680.2 602.4,677.4 602.8,682.1 603.2,672.8 603.7,679.4 604.1,668.9 604.6,678.4 605.0,675.2 605.4,678.3 605.9,674.4 606.3,682.9 606.7,677.9 607.1,684.3 607.5,679.6 607.9,678.9 608.3,665.8 608.7,677.4 609.2,666.6 609.6,669.1 610.0,665.2 610.4,669.7 610.9,660.7 611.3,672.1 611.8,656.6 612.2,662.8 612.7,657.2 613.1,664.0 613.5,654.4 614.0,662.4 614.4,657.3 614.9,665.6 615.3,660.5 615.7,662.6 616.2,660.8 616.6,663.9 617.1,658.3 617.5,663.4 617.9,653.2 618.4,661.3 618.8,655.7 619.3,655.8 619.7,649.2 620.2,651.1 620.6,645.7 621.0,651.2 621.5,641.9 621.9,642.7 622.3,639.9 622.7,646.1 623.2,641.1 623.6,648.3 624.0,646.5 624.4,654.2 624.9,642.9 625.3,653.8 625.7,647.6 626.2,653.2 626.6,650.6 627.1,654.8 627.5,651.7 628.0,662.5 628.4,657.4 628.8,664.0 629.3,656.6 629.7,665.0 630.2,659.6 630.6,664.8 631.0,659.9 631.5,665.8 631.9,658.3 632.4,660.3 632.8,655.0 633.2,659.4 633.7,661.2 634.1,661.8 634.6,652.6 635.0,657.4 635.5,654.9 635.9,659.2 636.3,652.9 636.8,656.8 637.2,651.0 637.7,655.9 638.1,652.9 638.5,660.3 639.0,654.9 639.4,657.6 639.9,650.2 640.3,654.3 640.7,650.0 641.2,651.9 641.6,644.0 642.1,645.2 642.5,642.2 643.0,647.7 643.4,643.9 643.8,649.3 644.3,646.8 644.7,641.7 645.2,647.7 645.6,651.5 646.0,655.8 646.5,652.3 646.9,648.5 647.4,652.9 647.8,652.6 648.2,652.3 648.7,652.7 649.1,652.6 649.5,640.0 649.9,637.2 650.3,626.7 650.7,626.7 651.2,624.0 651.6,631.7 652.0,630.8 652.4,637.8 652.8,636.9 653.3,643.0 653.7,634.2 654.1,644.1 654.6,635.7 655.0,642.2 655.5,639.4 655.9,642.3 656.3,642.8 656.8,639.1 657.2,643.4 657.7,652.1 658.1,648.8 658.5,651.7 659.0,652.0 659.4,656.0 659.9,646.3 660.3,653.7 660.8,646.9 661.2,651.3 661.6,642.8 662.1,647.5 662.5,642.5 663.0,646.4 663.4,634.4 663.8,638.9 664.3,631.2 664.7,637.5 665.2,630.3 665.6,635.1 666.0,629.3 666.5,634.2 666.9,627.6 667.4,635.4 667.8,627.9 668.3,630.6 668.7,627.0 669.1,631.9 669.6,620.7 670.0,631.9 670.5,624.9 670.9,632.1 671.3,627.3 671.8,627.6 672.2,627.0 672.7,634.0 673.1,620.0 673.5,633.0 674.0,630.5 674.4,631.8 674.8,625.4 675.3,630.0 675.7,623.1 676.1,623.3 676.5,617.6 676.9,628.8 677.3,627.5 677.7,639.2 678.1,639.3 678.6,649.5 679.0,641.5 679.4,642.2 679.8,630.6 680.2,630.1 680.6,622.0 681.1,624.5 681.5,617.9 681.9,623.3 682.4,618.5 682.8,626.7 683.3,619.5 683.7,621.7 684.1,618.7 684.6,626.3 685.0,623.3 685.5,625.3 685.9,609.6 686.3,620.1 686.8,619.6 687.2,615.8 687.7,618.6 688.1,620.7 688.6,614.7 689.0,623.2 689.4,614.9 689.9,620.3 690.3,614.8 690.8,618.1 691.2,606.6 691.6,612.6 692.1,602.1 692.5,605.9 693.0,600.0 693.4,603.3 693.8,600.7 694.2,610.5 694.6,605.3 695.0,611.8 695.5,608.9 695.9,614.6 696.3,608.3 696.8,610.7 697.2,605.0 697.7,611.5 698.1,606.3 698.6,609.2 699.0,599.6 699.4,606.7 699.9,598.6 700.3,606.7 700.8,597.6 701.2,602.1 701.6,595.7 702.1,601.9 702.5,596.6 703.0,599.9 703.4,594.4 703.9,597.6 704.3,591.4 704.7,594.8 705.2,598.7 705.6,599.1 706.1,589.2 706.5,599.6 706.9,587.8 707.4,596.7 707.8,588.7 708.3,603.4 708.7,599.6 709.1,604.9 709.6,595.9 710.0,605.9 710.5,606.6 710.9,612.6 711.4,601.6 711.8,606.4 712.2,597.9 712.7,595.1 713.1,594.7 713.6,596.8 714.0,595.6 714.4,600.5 714.9,593.6 715.3,598.2 715.8,593.8 716.2,597.2 716.6,593.3 717.1,595.3 717.5,587.3 718.0,592.5 718.4,586.9 718.9,598.4 719.3,578.5 719.7,581.1 720.2,577.8 720.6,586.8 721.1,581.7 721.5,586.6 721.9,585.0 722.4,591.1 722.8,590.7 723.3,592.3 723.7,587.2 724.1,599.3 724.6,603.5 725.0,600.4 725.5,598.2 725.9,600.8 726.3,603.4 726.7,610.0 727.1,602.5 727.6,615.7 728.0,615.9 728.4,617.2 728.8,614.2 729.2,620.0 729.6,610.8 730.0,613.6 730.5,607.5 730.9,615.0 731.4,609.6 731.8,613.6 732.2,607.7 732.7,613.2 733.1,610.5 733.5,609.8 733.9,604.7 734.4,606.0 734.8,594.3 735.2,597.0 735.5,587.8 735.9,587.5 736.3,575.3 736.6,572.4 737.0,580.8 737.4,591.6 737.9,599.8 738.2,610.9 738.6,610.8 738.9,625.0 739.3,626.5 739.7,625.9 740.1,613.4 740.5,621.0 740.9,612.8 741.4,612.4 741.7,605.5 742.1,613.9 742.4,603.3 742.8,607.8" stroke="#f03c3c" stroke-width="1.4"/>
<line x1="437.5" y1="649.6" x2="750.8" y2="649.6" stroke="#0000ff" stroke-width="2" stroke-dasharray="4.0 2.55" stroke-linecap="butt"/>
<line x1="437.5" y1="577.5" x2="750.8" y2="577.5" stroke="#ff0000" stroke-width="2" stroke-dasharray="4.0 2.55" stroke-linecap="butt"/>
</g>
<line x1="436.7" y1="496" x2="750.8" y2="496" stroke="#000" stroke-width="1.4"/>
<line x1="436.7" y1="690" x2="751.4" y2="690" stroke="#000" stroke-width="1.4"/>
<line x1="437.50" y1="690" x2="437.50" y2="695.0" stroke="#000" stroke-width="1.4"/>
<text x="437.5" y="709.2" font-size="13" fill="#111" text-anchor="middle">0</text>
<line x1="459.88" y1="690" x2="459.88" y2="692.4" stroke="#000" stroke-width="1.4"/>
<line x1="482.26" y1="690" x2="482.26" y2="695.0" stroke="#000" stroke-width="1.4"/>
<text x="482.3" y="709.2" font-size="13" fill="#111" text-anchor="middle">100</text>
<line x1="504.64" y1="690" x2="504.64" y2="692.4" stroke="#000" stroke-width="1.4"/>
<line x1="527.01" y1="690" x2="527.01" y2="695.0" stroke="#000" stroke-width="1.4"/>
<text x="527.0" y="709.2" font-size="13" fill="#111" text-anchor="middle">200</text>
<line x1="549.39" y1="690" x2="549.39" y2="692.4" stroke="#000" stroke-width="1.4"/>
<line x1="571.77" y1="690" x2="571.77" y2="695.0" stroke="#000" stroke-width="1.4"/>
<text x="571.8" y="709.2" font-size="13" fill="#111" text-anchor="middle">300</text>
<line x1="594.15" y1="690" x2="594.15" y2="692.4" stroke="#000" stroke-width="1.4"/>
<line x1="616.53" y1="690" x2="616.53" y2="695.0" stroke="#000" stroke-width="1.4"/>
<text x="616.5" y="709.2" font-size="13" fill="#111" text-anchor="middle">400</text>
<line x1="638.91" y1="690" x2="638.91" y2="692.4" stroke="#000" stroke-width="1.4"/>
<line x1="661.29" y1="690" x2="661.29" y2="695.0" stroke="#000" stroke-width="1.4"/>
<text x="661.3" y="709.2" font-size="13" fill="#111" text-anchor="middle">500</text>
<line x1="683.66" y1="690" x2="683.66" y2="692.4" stroke="#000" stroke-width="1.4"/>
<line x1="706.04" y1="690" x2="706.04" y2="695.0" stroke="#000" stroke-width="1.4"/>
<text x="706.0" y="709.2" font-size="13" fill="#111" text-anchor="middle">600</text>
<line x1="728.42" y1="690" x2="728.42" y2="692.4" stroke="#000" stroke-width="1.4"/>
<line x1="750.80" y1="690" x2="750.80" y2="695.0" stroke="#000" stroke-width="1.4"/>
<text x="750.8" y="709.2" font-size="13" fill="#111" text-anchor="middle">700</text>
<line x1="437.5" y1="495.2" x2="437.5" y2="690.8" stroke="#0000ff" stroke-width="1.7"/>
<line x1="432.90" y1="690.00" x2="437.5" y2="690.00" stroke="#0000ff" stroke-width="1.5"/>
<text x="428.9" y="694.3" font-size="13" fill="#0000ff" text-anchor="end">0</text>
<line x1="435.10" y1="670.60" x2="437.5" y2="670.60" stroke="#0000ff" stroke-width="1.5"/>
<line x1="432.90" y1="651.20" x2="437.5" y2="651.20" stroke="#0000ff" stroke-width="1.5"/>
<text x="428.9" y="655.5" font-size="13" fill="#0000ff" text-anchor="end">10</text>
<line x1="435.10" y1="631.80" x2="437.5" y2="631.80" stroke="#0000ff" stroke-width="1.5"/>
<line x1="432.90" y1="612.40" x2="437.5" y2="612.40" stroke="#0000ff" stroke-width="1.5"/>
<text x="428.9" y="616.7" font-size="13" fill="#0000ff" text-anchor="end">20</text>
<line x1="435.10" y1="593.00" x2="437.5" y2="593.00" stroke="#0000ff" stroke-width="1.5"/>
<line x1="432.90" y1="573.60" x2="437.5" y2="573.60" stroke="#0000ff" stroke-width="1.5"/>
<text x="428.9" y="577.9" font-size="13" fill="#0000ff" text-anchor="end">30</text>
<line x1="435.10" y1="554.20" x2="437.5" y2="554.20" stroke="#0000ff" stroke-width="1.5"/>
<line x1="432.90" y1="534.80" x2="437.5" y2="534.80" stroke="#0000ff" stroke-width="1.5"/>
<text x="428.9" y="539.1" font-size="13" fill="#0000ff" text-anchor="end">40</text>
<line x1="435.10" y1="515.40" x2="437.5" y2="515.40" stroke="#0000ff" stroke-width="1.5"/>
<line x1="432.90" y1="496.00" x2="437.5" y2="496.00" stroke="#0000ff" stroke-width="1.5"/>
<text x="428.9" y="500.3" font-size="13" fill="#0000ff" text-anchor="end">50</text>
<line x1="750.8" y1="495.2" x2="750.8" y2="690.8" stroke="#f03434" stroke-width="1.5"/>
<line x1="750.8" y1="690.00" x2="755.40" y2="690.00" stroke="#f03434" stroke-width="1.5"/>
<text x="758.8" y="694.3" font-size="13" fill="#f03434" text-anchor="start">0</text>
<line x1="750.8" y1="670.60" x2="753.20" y2="670.60" stroke="#f03434" stroke-width="1.5"/>
<line x1="750.8" y1="651.20" x2="755.40" y2="651.20" stroke="#f03434" stroke-width="1.5"/>
<text x="758.8" y="655.5" font-size="13" fill="#f03434" text-anchor="start">10</text>
<line x1="750.8" y1="631.80" x2="753.20" y2="631.80" stroke="#f03434" stroke-width="1.5"/>
<line x1="750.8" y1="612.40" x2="755.40" y2="612.40" stroke="#f03434" stroke-width="1.5"/>
<text x="758.8" y="616.7" font-size="13" fill="#f03434" text-anchor="start">20</text>
<line x1="750.8" y1="593.00" x2="753.20" y2="593.00" stroke="#f03434" stroke-width="1.5"/>
<line x1="750.8" y1="573.60" x2="755.40" y2="573.60" stroke="#f03434" stroke-width="1.5"/>
<text x="758.8" y="577.9" font-size="13" fill="#f03434" text-anchor="start">30</text>
<line x1="750.8" y1="554.20" x2="753.20" y2="554.20" stroke="#f03434" stroke-width="1.5"/>
<line x1="750.8" y1="534.80" x2="755.40" y2="534.80" stroke="#f03434" stroke-width="1.5"/>
<text x="758.8" y="539.1" font-size="13" fill="#f03434" text-anchor="start">40</text>
<line x1="750.8" y1="515.40" x2="753.20" y2="515.40" stroke="#f03434" stroke-width="1.5"/>
<line x1="750.8" y1="496.00" x2="755.40" y2="496.00" stroke="#f03434" stroke-width="1.5"/>
<text x="758.8" y="500.3" font-size="13" fill="#f03434" text-anchor="start">50</text>
<text transform="translate(413.1,596.9) rotate(-90)" font-size="13" fill="#111" text-anchor="middle">SPE</text>
<text x="594.5" y="725.0" font-size="13" fill="#111" text-anchor="middle">F3 stand sampling point</text>
<text x="444.5" y="517.2" font-size="17" fill="#111" text-anchor="start">(f)</text>
<line x1="595.1" y1="508.5" x2="625" y2="508.5" stroke="#0000ff" stroke-width="1.6"/>
<line x1="595.1" y1="525.0" x2="625" y2="525.0" stroke="#f03c3c" stroke-width="1.4"/>
<text x="628.4" y="512.7" font-size="13" fill="#111" text-anchor="start">SPE statistics of PLS</text>
<text x="628.4" y="529.1" font-size="13" fill="#111" text-anchor="start">SPE statistics of KPLS</text>
<clipPath id="clipg"><rect x="45.8" y="738.5" width="311.60" height="192.50"/></clipPath>
<g clip-path="url(#clipg)" fill="none" stroke-linejoin="round" stroke-linecap="round">
<polyline points="46.0,930.6 46.4,840.0 46.8,882.8 47.2,904.0 47.6,845.0 48.0,921.9 48.3,914.6 48.7,898.1 49.0,923.1 49.4,909.8 49.8,892.9 50.2,906.0 50.6,895.0 51.0,919.5 51.4,909.9 51.8,923.8 52.2,925.6 52.6,908.1 53.0,927.7 53.4,906.0 53.9,929.4 54.3,925.0 54.7,930.5 55.1,923.3 55.6,926.8 56.0,929.0 56.4,927.7 56.9,915.4 57.3,920.5 57.7,926.0 58.1,923.7 58.6,928.7 59.0,926.4 59.4,917.7 59.9,923.6 60.3,929.3 60.7,918.1 61.1,860.0 61.6,930.3 62.0,929.4 62.4,926.7 62.8,918.8 63.2,929.2 63.6,930.1 64.0,928.7 64.4,930.2 64.8,917.0 65.2,920.3 65.6,907.3 66.0,922.3 66.4,925.6 66.9,907.0 67.3,916.9 67.8,899.1 68.2,929.1 68.7,917.3 69.1,895.3 69.6,929.6 70.0,928.0 70.4,921.7 70.9,919.7 71.3,891.6 71.8,925.6 72.2,899.0 72.7,922.8 73.1,895.8 73.6,926.8 74.0,929.9 74.4,890.2 74.9,880.0 75.3,908.0 75.8,925.3 76.2,911.6 76.7,921.9 77.1,910.7 77.6,902.0 78.0,923.5 78.4,928.3 78.9,906.2 79.3,925.7 79.8,916.1 80.2,910.5 80.7,912.8 81.1,920.1 81.6,921.6 82.0,930.0 82.4,914.5 82.9,921.3 83.3,918.5 83.8,915.7 84.2,921.3 84.7,927.6 85.1,925.7 85.6,929.4 86.0,930.0 86.4,922.8 86.9,925.2 87.3,929.7 87.8,927.2 88.2,928.2 88.7,925.4 89.1,925.7 89.6,929.1 90.0,930.5 90.4,930.0 90.8,928.5 91.2,929.5 91.7,917.8 92.1,928.3 92.5,930.1" stroke="#0000ff" stroke-width="1.6"/>
<polyline points="92.5,930.0 92.8,930.6 93.1,930.6 93.5,930.6 93.9,930.6 94.3,930.6 94.8,930.6 95.2,930.6 95.6,930.6 96.1,930.6 96.5,930.6 96.9,929.1 97.4,930.6 97.8,930.6 98.2,930.6 98.7,930.6 99.1,930.6 99.6,928.3 100.0,927.4 100.4,930.6 100.9,930.6 101.3,928.1 101.7,928.3 102.2,930.6 102.6,928.9 103.0,928.0 103.5,927.2 103.9,930.6 104.3,930.6 104.8,930.4 105.2,930.6 105.6,930.6 106.1,930.6 106.5,929.1 106.9,930.6 107.4,930.6 107.8,930.3 108.2,930.6 108.7,928.7 109.1,930.6 109.5,926.6 110.0,930.6 110.4,930.6 110.8,930.6 111.3,928.7 111.7,930.6 112.1,929.2 112.6,930.6 113.0,929.6 113.5,930.6 113.9,930.6 114.3,927.8 114.8,930.6 115.2,930.6 115.6,928.3 116.1,930.6 116.5,930.0 116.9,930.2 117.4,929.4 117.8,930.4 118.2,925.3 118.7,926.4 119.1,928.5 119.5,929.6 120.0,929.1 120.4,929.4 120.8,928.8 121.3,928.0 121.7,926.1 122.1,929.0 122.5,923.7 122.9,923.9 123.3,926.9 123.7,926.6 124.1,928.0 124.5,927.6 125.0,927.6 125.4,926.3 125.8,924.6 126.2,927.4 126.6,925.0 127.0,924.4 127.4,927.1 127.8,925.5 128.3,926.2 128.7,926.1 129.1,926.4 129.5,926.7 129.9,928.1 130.3,922.1 130.7,927.6 131.1,927.5 131.6,927.1 132.0,923.3 132.4,921.3 132.8,920.9 133.2,926.5 133.6,925.1 134.0,922.8 134.4,925.7 134.8,924.6 135.3,923.4 135.7,924.5 136.1,924.1 136.5,923.0 136.9,923.8 137.3,918.9 137.7,921.9 138.2,922.9 138.6,921.4 139.1,921.8 139.5,919.9 139.9,921.8 140.4,920.9 140.8,920.2 141.3,919.0 141.7,919.4 142.1,916.7 142.6,917.9 143.0,918.3 143.5,917.3 143.9,918.0 144.3,916.5 144.7,916.0 145.1,914.4 145.6,913.4 146.0,911.9 146.4,909.9 146.8,905.4 147.2,904.3 147.6,900.8 148.0,896.4 148.4,902.5 148.8,905.5 149.3,913.5 149.7,918.1 150.1,918.5 150.5,916.6 150.9,919.0 151.3,919.9 151.7,916.6 152.1,920.0 152.6,915.9 153.0,918.0 153.5,920.6 153.9,918.4 154.3,918.2 154.8,918.5 155.2,918.4 155.7,919.9 156.1,917.9 156.6,919.6 157.0,918.5 157.4,919.1 157.9,920.9 158.3,921.8 158.7,921.8 159.1,920.8 159.6,918.3 160.0,917.1 160.4,915.9 160.8,916.4 161.3,914.0 161.7,914.5 162.1,914.8 162.6,920.0 163.0,920.4 163.5,918.9 163.9,917.9 164.4,922.2 164.8,919.5 165.2,923.6 165.7,923.4 166.1,922.6 166.6,924.1 167.0,920.8 167.4,924.6 167.9,924.4 168.3,923.2 168.8,923.5 169.2,920.5 169.6,921.4 170.1,922.4 170.5,921.4 171.0,920.6 171.4,914.3 171.9,918.6 172.3,917.9 172.7,915.9 173.2,917.3 173.6,919.4 174.1,917.9 174.5,920.5 174.9,922.4 175.4,918.6 175.8,923.8 176.2,922.8 176.6,925.3 177.1,925.1 177.5,921.1 177.9,926.3 178.3,921.1 178.7,926.4 179.1,927.0 179.5,926.4 179.9,925.1 180.4,925.5 180.8,926.5 181.2,927.7 181.7,926.3 182.1,921.9 182.5,924.0 182.9,923.9 183.4,928.1 183.8,928.1 184.2,927.8 184.7,925.1 185.1,926.9 185.5,928.1 185.9,928.6 186.3,928.3 186.7,926.5 187.2,926.9 187.6,924.0 188.0,927.2 188.4,926.5 188.8,929.4 189.2,928.3 189.7,929.5 190.1,929.2 190.5,926.3 191.0,928.3 191.4,926.7 191.9,925.2 192.3,929.2 192.7,929.2 193.2,930.1 193.6,928.4 194.1,928.1 194.5,924.6 194.9,929.9 195.4,929.4 195.8,924.5 196.3,930.5 196.7,930.2 197.1,928.3 197.6,925.0 198.0,929.4 198.4,929.5 198.9,926.8 199.3,930.1 199.8,930.0 200.2,929.6 200.7,926.6 201.1,928.4 201.5,925.2 202.0,929.2 202.4,926.2 202.9,927.3 203.3,923.3 203.8,925.8 204.2,926.9 204.6,928.5 205.1,927.7 205.5,928.5 206.0,928.4 206.4,926.1 206.8,922.7 207.3,926.5 207.7,927.6 208.2,924.8 208.6,924.0 209.1,921.9 209.5,922.5 209.9,926.3 210.4,930.3 210.8,930.6 211.3,926.1 211.7,930.6 212.1,930.6 212.6,930.0 213.0,930.6 213.5,926.7 213.9,930.6 214.4,929.8 214.8,926.5 215.3,930.4 215.7,930.4 216.2,927.4 216.6,926.2 217.1,929.7 217.5,928.0 218.0,929.0 218.4,930.4 218.9,930.3 219.3,930.6 219.8,928.0 220.2,926.2 220.7,927.3 221.1,928.7 221.6,930.2 222.0,925.0 222.5,930.6 222.9,928.3 223.4,930.4 223.8,929.1 224.3,926.6 224.7,925.7 225.2,928.6 225.6,924.9 226.0,929.3 226.5,928.9 226.9,930.3 227.4,930.2 227.8,929.0 228.3,926.7 228.7,926.6 229.2,929.4 229.6,924.8 230.1,930.0 230.5,928.6 231.0,929.7 231.4,929.8 231.9,929.3 232.3,926.9 232.8,929.8 233.2,927.6 233.7,927.2 234.1,928.5 234.6,927.8 235.0,929.3 235.5,929.1 235.9,929.6 236.4,928.0 236.8,929.0 237.3,926.4 237.7,926.7 238.2,927.7 238.6,929.4 239.1,926.8 239.5,927.9 239.9,927.9 240.4,928.5 240.8,927.2 241.3,929.2 241.7,924.5 242.2,929.1 242.6,926.4 243.1,929.2 243.5,927.7 244.0,927.0 244.4,927.1 244.9,926.6 245.3,928.6 245.8,927.7 246.2,924.1 246.7,928.1 247.1,925.4 247.6,928.9 248.0,928.4 248.5,928.9 248.9,928.8 249.4,924.6 249.8,927.5 250.3,927.6 250.7,926.3 251.2,927.1 251.6,926.2 252.1,924.9 252.5,926.4 252.9,925.8 253.4,928.4 253.8,925.9 254.3,927.7 254.7,923.5 255.2,924.4 255.6,928.2 256.1,927.9 256.5,928.4 257.0,928.1 257.4,928.4 257.9,925.8 258.3,924.7 258.8,925.5 259.2,927.1 259.7,924.2 260.1,927.6 260.6,927.8 261.0,928.2 261.5,924.0 261.9,924.3 262.4,922.7 262.8,926.3 263.3,928.1 263.7,922.8 264.2,925.6 264.6,923.2 265.0,928.0 265.5,922.3 265.9,927.9 266.4,927.6 266.8,927.9 267.3,927.9 267.7,927.5 268.2,926.6 268.6,926.7 269.1,923.2 269.5,927.6 270.0,926.3 270.4,927.4 270.9,924.2 271.3,927.6 271.8,924.4 272.2,922.9 272.7,926.0 273.1,922.8 273.6,924.7 274.0,924.1 274.5,921.5 274.9,922.3 275.4,927.1 275.8,923.9 276.3,926.3 276.7,926.1 277.1,925.9 277.6,926.6 278.0,924.4 278.5,921.1 278.9,926.8 279.4,926.6 279.8,926.5 280.3,926.6 280.7,921.2 281.2,923.0 281.6,926.2 282.1,926.2 282.5,925.2 282.9,921.9 283.4,925.2 283.8,924.9 284.3,921.8 284.7,925.8 285.2,925.6 285.6,923.0 286.1,922.9 286.5,924.5 287.0,925.1 287.4,925.1 287.9,921.0 288.3,921.2 288.7,920.7 289.2,924.1 289.6,924.3 290.1,924.7 290.5,924.7 291.0,924.3 291.4,921.0 291.9,924.0 292.3,921.8 292.8,924.0 293.2,920.5 293.7,923.9 294.1,922.4 294.5,922.1 295.0,923.7 295.4,919.7 295.9,923.6 296.3,922.6 296.8,922.6 297.2,922.7 297.7,918.3 298.1,921.6 298.6,922.7 299.0,921.7 299.5,918.7 299.9,917.0 300.3,922.1 300.8,917.2 301.2,921.1 301.7,922.4 302.1,916.6 302.6,922.3 303.0,921.0 303.5,922.0 303.9,922.7 304.4,922.9 304.8,923.1 305.3,923.0 305.7,923.7 306.2,923.9 306.6,923.7 307.1,919.6 307.5,924.8 307.9,925.0 308.4,925.1 308.8,921.7 309.3,923.3 309.7,925.3 310.2,926.5 310.6,924.3 311.1,927.1 311.5,926.6 312.0,926.1 312.4,927.5 312.9,928.2 313.3,927.4 313.8,927.7 314.2,927.3 314.6,928.3 315.1,928.2 315.5,927.9 315.9,923.4 316.4,925.6 316.8,927.9 317.2,923.2 317.7,927.8 318.1,924.0 318.5,926.8 319.0,925.4 319.4,924.5 319.8,925.4 320.3,924.1 320.7,923.6 321.1,925.2 321.6,925.0 322.0,922.9 322.4,921.7 322.8,926.4 323.2,922.4 323.6,926.9 324.0,925.2 324.4,924.0 324.9,926.0 325.3,925.7 325.7,925.2 326.1,926.1 326.5,926.0 326.9,924.3 327.3,924.8 327.7,924.1 328.1,912.2 328.6,900.8 329.0,890.4 329.4,877.5 329.7,881.5 330.1,889.6 330.5,895.2 330.8,898.6 331.2,906.5 331.5,911.3 331.9,916.8 332.3,917.4 332.7,917.3 333.1,924.7 333.5,926.1 333.9,928.1 334.3,927.6 334.7,923.8 335.1,921.5 335.6,924.6 336.0,923.9 336.4,921.7 336.8,921.1 337.2,919.1 337.6,915.5 338.0,917.6 338.4,920.6 338.9,920.2 339.3,923.0 339.7,925.3 340.1,924.8 340.5,919.1 340.9,914.3 341.3,909.7 341.7,905.7 342.2,899.4 342.6,895.0 343.0,894.4 343.4,890.9 343.8,885.7 344.2,879.5 344.6,875.2 345.0,867.7 345.4,881.0 345.9,895.5 346.3,906.3 346.6,911.1 347.0,919.7 347.3,924.0 347.7,925.0 348.1,925.7 348.5,922.4 348.9,925.6 349.4,925.3 349.7,925.2" stroke="#0000ff" stroke-width="1.6"/>
<polyline points="47.4,886.0 47.7,841.0 48.0,789.7 48.3,755.6 48.7,744.8 48.9,745.6 49.2,742.4 49.6,742.6 50.0,740.0 50.4,748.8 50.8,754.6 51.2,769.2 51.6,775.5 52.1,781.1 52.5,783.6 52.9,790.8 53.3,800.7 53.6,799.4 54.0,793.5 54.3,793.6 54.7,787.2 55.0,784.1 55.4,777.7 55.7,791.2 56.0,802.3 56.4,812.7 56.8,817.2 57.2,813.0 57.6,804.4 58.0,810.5 58.4,812.3 58.8,817.2 59.1,817.0 59.5,833.4 59.5,825.1 59.9,855.4 60.2,867.4 60.5,876.6 60.9,883.3 61.2,882.5 61.6,886.8 61.9,889.2 62.4,891.0 62.8,891.1 63.2,896.1 63.6,893.9 64.0,898.7 64.4,895.3 64.8,899.7 65.2,897.2 65.7,902.1 66.1,900.1 66.5,902.9 66.9,901.0 67.3,903.7 67.7,898.2 68.0,897.2 68.4,889.4 68.7,887.7 69.1,883.5 69.5,887.2 69.8,882.2 70.2,883.0 70.6,883.4 71.0,890.9 71.4,883.0 71.8,891.8 72.2,886.7 72.7,891.7 73.1,880.1 73.5,887.1 73.8,885.5 74.2,893.0 74.6,889.7 74.9,893.2 75.3,885.4 75.6,889.2 76.0,879.4 76.4,879.2 76.8,873.6 77.2,873.5 77.6,865.4 78.0,864.4 78.4,856.8 78.8,856.3 79.2,862.4 79.7,873.3 80.0,874.1 80.4,879.9 80.7,877.0 81.1,883.2 81.5,877.6 81.9,884.0 82.3,876.5 82.7,880.2 83.2,875.5 83.6,880.6 84.0,870.1 84.4,878.3 84.8,875.7 85.2,879.2 85.6,879.7 86.0,885.5 86.5,883.5 86.9,891.5 87.3,887.9 87.7,894.2 88.1,891.2 88.5,899.4 88.9,898.8 89.3,903.9 89.7,898.6 90.2,900.9 90.6,894.5 91.0,896.2 91.4,891.9 91.8,895.0 92.2,892.5 92.6,897.3 93.0,891.0 93.5,898.1 93.9,895.4 94.3,902.0 94.7,899.6 95.1,902.6 95.5,902.2 95.9,907.9 96.3,902.5 96.7,906.4 97.2,904.1 97.6,908.5 98.0,906.4 98.4,910.7 98.8,904.0 99.2,908.7 99.6,905.9 100.0,910.3 100.5,906.9 100.9,909.0 101.3,908.2 101.7,909.8 102.1,906.4 102.5,911.7 102.9,909.6 103.3,914.7 103.7,911.1 104.2,909.7 104.6,910.2 105.0,916.8 105.4,915.1 105.8,917.9 106.2,917.6 106.6,922.4 107.0,919.0 107.5,922.8 107.9,921.4 108.3,925.3 108.8,921.5 109.2,926.0 109.6,921.6 110.1,925.9 110.5,923.8 111.0,924.4 111.4,921.5 111.8,927.3 112.3,923.1 112.7,923.1 113.2,924.7 113.6,926.9 114.0,926.6 114.5,924.9 114.9,925.8 115.4,925.7 115.8,925.8 116.3,925.0 116.7,922.8 117.1,925.2 117.6,925.6 118.0,922.5 118.5,920.3 118.9,924.0 119.3,926.9 119.8,927.4 120.2,926.4 120.7,927.6 121.1,928.0 121.5,928.0 121.9,928.3 122.4,930.6 122.8,930.3 123.2,930.4 123.7,929.4 124.1,930.6 124.5,930.6 124.9,927.6 125.4,929.9 125.8,928.5 126.3,928.7 126.7,929.7 127.1,930.6 127.6,930.4 128.0,930.6 128.5,930.2 128.9,930.6 129.3,930.6 129.8,929.0 130.2,929.1 130.7,928.5 131.1,928.7 131.6,930.4 132.0,928.9 132.4,930.6 132.9,930.6 133.3,929.4 133.8,929.5 134.2,929.7 134.6,928.7 135.1,927.9 135.5,930.6 136.0,929.4 136.4,930.6 136.8,929.2 137.3,930.6 137.7,928.8 138.2,930.3 138.6,930.6 139.1,930.6 139.5,926.8 139.9,930.6 140.4,929.6 140.8,929.4 141.3,927.0 141.7,928.1 142.1,927.4 142.6,927.0 143.0,927.9 143.5,927.4 143.9,928.2 144.3,927.3 144.8,926.6 145.2,929.0 145.7,927.1 146.1,930.6 146.6,928.5 147.0,927.5 147.4,928.7 147.9,926.9 148.3,926.2 148.8,926.7 149.2,926.8 149.6,928.2 150.1,926.3 150.5,927.0 151.0,927.4 151.4,926.8 151.8,926.1 152.3,927.0 152.7,925.5 153.2,927.2 153.6,926.1 154.1,928.4 154.5,925.4 154.9,924.9 155.4,925.1 155.8,928.4 156.3,924.3 156.7,924.8 157.1,923.2 157.6,924.3 158.0,927.2 158.5,926.1 158.9,923.2 159.4,922.0 159.8,924.0 160.2,924.9 160.7,925.2 161.1,924.1 161.6,924.9 162.0,924.3 162.4,922.5 162.9,922.4 163.3,925.0 163.8,918.2 164.2,924.5 164.6,921.2 165.1,917.5 165.5,921.7 166.0,917.5 166.4,928.8 166.9,921.6 167.3,920.6 167.7,924.7 168.2,923.2 168.6,923.1 169.1,920.8 169.5,922.0 169.9,925.2 170.4,923.8 170.8,924.3 171.3,921.4 171.7,928.5 172.1,920.8 172.6,923.1 173.0,921.9 173.5,920.1 173.9,923.6 174.4,920.0 174.8,921.6 175.2,922.2 175.6,924.6 176.0,918.8 176.4,925.4 176.9,921.9 177.3,922.6 177.7,922.7 178.1,923.3 178.5,921.7 178.9,923.0 179.3,923.4 179.7,924.9 180.1,921.6 180.6,924.5 181.0,925.6 181.4,922.7 181.8,924.0 182.2,924.1 182.6,925.9 183.0,926.1 183.4,926.0 183.9,925.1 184.3,922.1 184.7,922.3 185.1,923.6 185.5,923.7 186.0,921.7 186.4,922.0 186.9,921.2 187.3,921.2 187.7,914.6 188.2,919.8 188.6,920.5 189.1,920.2 189.5,921.2 189.9,918.6 190.4,914.9 190.8,919.9 191.3,919.2 191.7,917.5 192.2,918.4 192.6,917.8 193.0,915.1 193.5,919.8 193.9,915.0 194.4,918.4 194.8,917.9 195.2,915.7 195.7,921.2 196.1,919.4 196.6,919.3 197.0,918.5 197.4,919.8 197.7,922.2 198.0,918.0 198.4,917.5 198.9,919.7 199.3,917.7 199.8,919.3 200.2,920.9 200.6,920.7 201.1,919.7 201.5,916.3 202.0,920.6 202.4,919.3 202.9,916.5 203.3,913.1 203.7,918.2 204.2,917.1 204.6,913.3 205.1,914.4 205.5,920.1 205.9,919.1 206.4,918.6 206.8,919.2 207.3,918.3 207.7,921.0 208.1,918.5 208.6,921.2 209.0,917.5 209.5,919.8 209.9,922.6 210.4,917.0 210.8,920.3 211.2,918.3 211.7,920.7 212.1,919.8 212.6,920.4 213.0,921.4 213.4,922.3 213.9,923.6 214.3,919.4 214.8,921.0 215.2,917.1 215.7,922.3 216.1,919.1 216.5,920.2 217.0,922.0 217.4,921.7 217.9,920.6 218.3,924.4 218.7,923.4 219.2,923.6 219.6,923.6 220.1,923.5 220.5,924.0 220.9,923.1 221.4,921.6 221.8,923.3 222.3,922.4 222.7,924.1 223.2,925.4 223.6,923.0 224.0,924.1 224.5,922.8 224.9,923.1 225.4,928.1 225.8,925.6 226.2,925.4 226.7,925.4 227.1,924.0 227.6,927.1 228.0,924.0 228.4,923.3 228.9,923.6 229.3,925.2 229.8,923.0 230.2,925.7 230.7,923.6 231.1,924.6 231.5,923.1 232.0,921.4 232.4,922.3 232.9,921.1 233.3,921.0 233.7,920.8 234.2,920.4 234.6,922.1 235.1,918.9 235.5,917.4 236.0,915.5 236.4,917.4 236.8,916.9 237.3,915.5 237.7,915.8 238.2,915.5 238.6,911.4 239.0,914.5 239.4,915.4 239.8,912.6 240.2,912.9 240.6,914.7 241.0,916.8 241.5,916.4 241.9,919.1 242.3,922.0 242.7,921.7 243.1,920.9 243.5,912.1 243.9,916.4 244.3,915.5 244.7,918.7 245.2,918.1 245.6,920.0 246.0,922.2 246.4,923.0 246.8,923.9 247.3,924.8 247.7,924.0 248.2,925.0 248.6,924.7 249.0,926.0 249.5,926.3 249.9,927.8 250.4,925.9 250.8,925.3 251.2,924.1 251.7,923.9 252.1,925.5 252.6,924.7 253.0,921.9 253.5,923.5 253.9,923.4 254.3,924.0 254.8,924.4 255.2,923.4 255.7,924.1 256.1,923.2 256.5,925.2 257.0,924.0 257.4,925.5 257.9,924.2 258.3,927.1 258.7,926.7 259.2,925.0 259.6,925.1 260.1,926.9 260.5,923.4 261.0,922.2 261.4,924.3 261.8,922.9 262.3,921.3 262.7,922.2 263.2,921.8 263.6,919.8 264.0,921.5 264.5,919.7 264.9,919.5 265.4,920.7 265.8,917.7 266.3,919.1 266.7,917.4 267.1,918.6 267.6,917.6 268.0,918.7 268.4,914.1 268.8,918.7 269.3,920.0 269.7,918.8 270.1,917.4 270.5,918.9 271.0,918.1 271.4,920.4 271.8,920.6 272.3,919.6 272.7,921.9 273.2,924.2 273.6,923.4 274.0,922.0 274.5,924.4 274.9,921.5 275.4,926.0 275.8,927.8 276.3,925.3 276.7,918.3 277.1,929.0 277.5,926.3 277.9,926.2 278.3,925.0 278.7,929.7 279.1,926.2 279.5,930.3 280.0,922.9 280.4,926.9 280.8,926.6 281.2,927.4 281.6,926.8 282.0,926.5 282.4,919.7 282.8,923.0 283.3,922.4 283.7,924.7 284.1,923.1 284.5,924.5 284.9,925.7 285.3,923.6 285.7,925.4 286.1,924.7 286.6,925.9 287.0,926.6 287.4,930.6 287.8,926.4 288.2,922.5 288.6,925.4 289.0,926.3 289.4,923.0 289.8,925.1 290.3,921.8 290.7,922.5 291.1,923.8 291.5,924.2 291.9,921.7 292.3,921.1 292.7,922.2 293.2,921.5 293.6,921.2 294.1,924.0 294.5,923.2 294.9,921.7 295.4,928.8 295.8,927.8 296.2,926.4 296.7,929.2 297.1,926.4 297.5,927.5 298.0,928.0 298.4,925.8 298.8,928.0 299.2,927.7 299.7,927.4 300.1,925.9 300.5,926.6 301.0,925.6 301.4,924.1 301.8,926.9 302.2,927.1 302.6,923.9 303.0,927.2 303.4,924.8 303.8,924.1 304.3,925.9 304.7,924.2 305.1,925.1 305.5,925.4 305.9,928.0 306.3,920.1 306.7,926.9 307.1,927.4 307.6,926.8 308.0,926.9 308.4,930.0 308.8,928.3 309.2,928.4 309.6,927.2 310.0,926.8 310.4,927.4 310.9,925.4 311.3,926.7 311.7,927.5 312.1,927.4 312.5,928.6 312.9,925.6 313.3,927.1 313.7,927.0 314.1,926.4 314.6,929.5 315.0,928.3 315.4,928.6 315.8,925.5 316.2,929.4 316.6,926.7 317.0,927.9 317.4,928.0 317.9,930.5 318.3,928.6 318.7,926.4 319.1,927.4 319.5,928.9 319.9,928.4 320.3,927.9 320.7,930.6 321.1,930.5 321.6,930.0 322.0,929.7 322.4,930.6 322.8,921.6 323.2,927.6 323.6,928.1 324.0,929.2 324.4,929.3 324.9,930.6 325.3,925.8 325.7,928.3 326.1,928.0 326.5,928.6 326.9,927.2 327.3,930.6 327.7,927.0 328.1,927.1 328.6,929.9 329.0,927.5 329.4,928.0 329.8,927.5 330.2,928.2 330.6,927.4 331.0,926.4 331.4,929.3 331.9,928.5 332.3,927.0 332.7,929.2 333.1,930.0 333.5,928.4 333.9,928.1 334.3,924.5 334.7,928.7 335.1,927.9 335.6,925.7 336.0,927.3 336.4,928.9 336.8,927.0 337.2,928.4 337.6,928.8 338.0,927.7 338.4,926.3 338.9,926.3 339.3,920.2 339.7,924.0 340.1,925.7 340.5,922.3 340.9,925.0 341.3,922.4 341.7,922.1 342.2,921.5 342.6,916.3 343.0,911.9 343.4,910.2 343.8,908.0 344.2,912.4 344.6,915.7 345.0,919.1 345.4,920.5 345.9,923.2 346.3,926.5 346.7,925.9 347.1,928.4 347.5,927.9 347.9,924.3 348.3,929.6 348.7,930.6 349.2,929.1 349.6,923.5 350.0,930.1" stroke="#f03c3c" stroke-width="1.4"/>
<line x1="45.8" y1="900.2" x2="357.4" y2="900.2" stroke="#0000ff" stroke-width="2" stroke-dasharray="4.0 2.55" stroke-linecap="butt"/>
<line x1="45.8" y1="875.0" x2="357.4" y2="875.0" stroke="#ff0000" stroke-width="2" stroke-dasharray="4.0 2.55" stroke-linecap="butt"/>
</g>
<line x1="45.0" y1="738.5" x2="357.4" y2="738.5" stroke="#000" stroke-width="1.4"/>
<line x1="45.0" y1="931" x2="358.0" y2="931" stroke="#000" stroke-width="1.4"/>
<line x1="45.80" y1="931" x2="45.80" y2="936.0" stroke="#000" stroke-width="1.4"/>
<text x="45.8" y="950.2" font-size="13" fill="#111" text-anchor="middle">0</text>
<line x1="68.06" y1="931" x2="68.06" y2="933.4" stroke="#000" stroke-width="1.4"/>
<line x1="90.31" y1="931" x2="90.31" y2="936.0" stroke="#000" stroke-width="1.4"/>
<text x="90.3" y="950.2" font-size="13" fill="#111" text-anchor="middle">100</text>
<line x1="112.57" y1="931" x2="112.57" y2="933.4" stroke="#000" stroke-width="1.4"/>
<line x1="134.83" y1="931" x2="134.83" y2="936.0" stroke="#000" stroke-width="1.4"/>
<text x="134.8" y="950.2" font-size="13" fill="#111" text-anchor="middle">200</text>
<line x1="157.09" y1="931" x2="157.09" y2="933.4" stroke="#000" stroke-width="1.4"/>
<line x1="179.34" y1="931" x2="179.34" y2="936.0" stroke="#000" stroke-width="1.4"/>
<text x="179.3" y="950.2" font-size="13" fill="#111" text-anchor="middle">300</text>
<line x1="201.60" y1="931" x2="201.60" y2="933.4" stroke="#000" stroke-width="1.4"/>
<line x1="223.86" y1="931" x2="223.86" y2="936.0" stroke="#000" stroke-width="1.4"/>
<text x="223.9" y="950.2" font-size="13" fill="#111" text-anchor="middle">400</text>
<line x1="246.11" y1="931" x2="246.11" y2="933.4" stroke="#000" stroke-width="1.4"/>
<line x1="268.37" y1="931" x2="268.37" y2="936.0" stroke="#000" stroke-width="1.4"/>
<text x="268.4" y="950.2" font-size="13" fill="#111" text-anchor="middle">500</text>
<line x1="290.63" y1="931" x2="290.63" y2="933.4" stroke="#000" stroke-width="1.4"/>
<line x1="312.89" y1="931" x2="312.89" y2="936.0" stroke="#000" stroke-width="1.4"/>
<text x="312.9" y="950.2" font-size="13" fill="#111" text-anchor="middle">600</text>
<line x1="335.14" y1="931" x2="335.14" y2="933.4" stroke="#000" stroke-width="1.4"/>
<line x1="357.40" y1="931" x2="357.40" y2="936.0" stroke="#000" stroke-width="1.4"/>
<text x="357.4" y="950.2" font-size="13" fill="#111" text-anchor="middle">700</text>
<line x1="45.8" y1="737.7" x2="45.8" y2="931.8" stroke="#0000ff" stroke-width="1.7"/>
<line x1="41.20" y1="931.00" x2="45.8" y2="931.00" stroke="#0000ff" stroke-width="1.5"/>
<text x="37.2" y="935.3" font-size="13" fill="#0000ff" text-anchor="end">0</text>
<line x1="43.40" y1="911.75" x2="45.8" y2="911.75" stroke="#0000ff" stroke-width="1.5"/>
<line x1="41.20" y1="892.50" x2="45.8" y2="892.50" stroke="#0000ff" stroke-width="1.5"/>
<text x="37.2" y="896.8" font-size="13" fill="#0000ff" text-anchor="end">30</text>
<line x1="43.40" y1="873.25" x2="45.8" y2="873.25" stroke="#0000ff" stroke-width="1.5"/>
<line x1="41.20" y1="854.00" x2="45.8" y2="854.00" stroke="#0000ff" stroke-width="1.5"/>
<text x="37.2" y="858.3" font-size="13" fill="#0000ff" text-anchor="end">60</text>
<line x1="43.40" y1="834.75" x2="45.8" y2="834.75" stroke="#0000ff" stroke-width="1.5"/>
<line x1="41.20" y1="815.50" x2="45.8" y2="815.50" stroke="#0000ff" stroke-width="1.5"/>
<text x="37.2" y="819.8" font-size="13" fill="#0000ff" text-anchor="end">90</text>
<line x1="43.40" y1="796.25" x2="45.8" y2="796.25" stroke="#0000ff" stroke-width="1.5"/>
<line x1="41.20" y1="777.00" x2="45.8" y2="777.00" stroke="#0000ff" stroke-width="1.5"/>
<text x="37.2" y="781.3" font-size="13" fill="#0000ff" text-anchor="end">120</text>
<line x1="43.40" y1="757.75" x2="45.8" y2="757.75" stroke="#0000ff" stroke-width="1.5"/>
<line x1="41.20" y1="738.50" x2="45.8" y2="738.50" stroke="#0000ff" stroke-width="1.5"/>
<text x="37.2" y="742.8" font-size="13" fill="#0000ff" text-anchor="end">150</text>
<line x1="357.4" y1="737.7" x2="357.4" y2="931.8" stroke="#f03434" stroke-width="1.5"/>
<line x1="357.4" y1="931.00" x2="362.00" y2="931.00" stroke="#f03434" stroke-width="1.5"/>
<text x="365.4" y="935.3" font-size="13" fill="#f03434" text-anchor="start">0</text>
<line x1="357.4" y1="914.96" x2="359.80" y2="914.96" stroke="#f03434" stroke-width="1.5"/>
<line x1="357.4" y1="898.92" x2="362.00" y2="898.92" stroke="#f03434" stroke-width="1.5"/>
<text x="365.4" y="903.2" font-size="13" fill="#f03434" text-anchor="start">2</text>
<line x1="357.4" y1="882.88" x2="359.80" y2="882.88" stroke="#f03434" stroke-width="1.5"/>
<line x1="357.4" y1="866.83" x2="362.00" y2="866.83" stroke="#f03434" stroke-width="1.5"/>
<text x="365.4" y="871.1" font-size="13" fill="#f03434" text-anchor="start">4</text>
<line x1="357.4" y1="850.79" x2="359.80" y2="850.79" stroke="#f03434" stroke-width="1.5"/>
<line x1="357.4" y1="834.75" x2="362.00" y2="834.75" stroke="#f03434" stroke-width="1.5"/>
<text x="365.4" y="839.0" font-size="13" fill="#f03434" text-anchor="start">6</text>
<line x1="357.4" y1="818.71" x2="359.80" y2="818.71" stroke="#f03434" stroke-width="1.5"/>
<line x1="357.4" y1="802.67" x2="362.00" y2="802.67" stroke="#f03434" stroke-width="1.5"/>
<text x="365.4" y="807.0" font-size="13" fill="#f03434" text-anchor="start">8</text>
<line x1="357.4" y1="786.62" x2="359.80" y2="786.62" stroke="#f03434" stroke-width="1.5"/>
<line x1="357.4" y1="770.58" x2="362.00" y2="770.58" stroke="#f03434" stroke-width="1.5"/>
<text x="365.4" y="774.9" font-size="13" fill="#f03434" text-anchor="start">10</text>
<line x1="357.4" y1="754.54" x2="359.80" y2="754.54" stroke="#f03434" stroke-width="1.5"/>
<line x1="357.4" y1="738.50" x2="362.00" y2="738.50" stroke="#f03434" stroke-width="1.5"/>
<text x="365.4" y="742.8" font-size="13" fill="#f03434" text-anchor="start">12</text>
<text transform="translate(20.9,838.3) rotate(-90)" font-size="13" fill="#111" text-anchor="middle">T<tspan font-size="10.5" dy="-6.3">2</tspan></text>
<text x="201.8" y="965.0" font-size="13" fill="#111" text-anchor="middle">F4 stand sampling point</text>
<text x="58.5" y="760.2" font-size="17" fill="#111" text-anchor="start">(g)</text>
<line x1="212.5" y1="751.5" x2="242" y2="751.5" stroke="#0000ff" stroke-width="1.6"/>
<line x1="212.5" y1="769.6" x2="242" y2="769.6" stroke="#f03c3c" stroke-width="1.4"/>
<text x="244.8" y="756.2" font-size="13" fill="#111">T<tspan font-size="8.5" dy="-5.6">2</tspan><tspan dy="5.6"> statistics of PLS</tspan></text>
<text x="244.8" y="774.1" font-size="13" fill="#111">T<tspan font-size="8.5" dy="-5.6">2</tspan><tspan dy="5.6"> statistics of KPLS</tspan></text>
<clipPath id="cliph"><rect x="441" y="738.8" width="309.60" height="192.40"/></clipPath>
<g clip-path="url(#cliph)" fill="none" stroke-linejoin="round" stroke-linecap="round">
<polyline points="441.6,752.0 441.9,778.6 442.2,800.6 442.5,824.2 442.8,840.9 443.1,850.5 443.4,866.6 443.8,875.9 444.2,887.5 444.6,883.1 445.0,890.3 445.4,890.5 445.8,893.0 446.2,893.2 446.6,892.5 447.1,896.4 447.5,897.6 447.9,898.7 448.3,899.4 448.7,900.3 449.1,901.2 449.5,902.6 449.9,903.4 450.4,903.5 450.8,905.3 451.2,905.9 451.6,907.1 452.0,907.5 452.4,909.6 452.8,908.9 453.2,906.7 453.7,903.4 454.1,904.1 454.5,903.6 454.9,885.6 455.3,863.2 455.7,844.7 456.1,829.4 456.5,840.3 456.9,850.0 457.3,880.3 457.6,906.9 457.9,914.2 458.2,907.1 458.6,916.7 459.0,914.3 459.4,923.9 459.8,911.3 460.2,924.6 460.7,916.6 461.1,925.2 461.5,911.7 461.9,924.8 462.3,913.4 462.7,921.6 463.1,914.4 463.5,925.8 463.9,915.0 464.4,920.6 464.8,914.4 465.2,919.5 465.6,907.0 466.0,915.2 466.4,908.1 466.8,912.8 467.2,905.2 467.7,909.6 468.1,899.4 468.5,902.3 468.9,896.7 469.3,903.6 469.7,898.3 470.1,913.0 470.5,910.2 470.9,908.1 471.4,898.5 471.8,901.2 472.2,889.6 472.6,887.8 473.0,890.2 473.3,902.0 473.7,901.6 474.0,915.2 474.4,909.8 474.9,913.1 475.3,907.4 475.7,913.2 476.1,906.7 476.5,915.0 476.9,907.6 477.3,917.7 477.7,914.4 478.2,923.2 478.6,916.8 479.0,924.5 479.4,920.2 479.8,919.5 480.2,915.6 480.6,919.0 481.0,916.1 481.5,917.5 481.9,920.0 482.3,919.9 482.7,920.9 483.2,921.2 483.6,919.2 484.0,921.9 484.5,922.1 484.9,918.4 485.4,922.0 485.8,921.6 486.2,921.3 486.7,920.8 487.1,919.5 487.6,919.7 488.0,921.8 488.5,918.7 488.9,917.6 489.3,918.7 489.8,921.8 490.2,922.2 490.7,911.5 491.1,920.1 491.5,922.1 492.0,922.8 492.4,922.8 492.8,922.7 493.2,919.6 493.6,922.8 494.0,922.8 494.4,920.9 494.8,919.6 495.2,918.7 495.7,921.1 496.1,918.9 496.5,919.5 496.9,918.0 497.3,921.0 497.7,918.2 498.1,920.9 498.5,920.5 499.0,916.6 499.4,919.6 499.8,915.6 500.2,919.1 500.6,921.4 501.0,922.8 501.4,921.2 501.8,924.1 502.3,921.6 502.7,924.0 503.1,924.1 503.5,920.6 503.9,924.6 504.3,922.8 504.7,924.8 505.1,922.5 505.5,924.7 506.0,923.3 506.4,924.6 506.8,922.3 507.2,921.6 507.6,925.6 508.0,925.7 508.4,921.9 508.8,925.8 509.3,926.5 509.7,926.6 510.1,926.1 510.5,926.3 511.0,925.2 511.4,924.5 511.8,925.7 512.3,925.4 512.7,925.1 513.2,923.0 513.6,924.8 514.0,922.7 514.5,923.1 514.9,924.6 515.3,921.4 515.7,922.2 516.2,911.5 516.6,920.8 517.0,924.2 517.5,924.8 517.9,921.3 518.3,924.1 518.7,924.6 519.1,924.2 519.5,923.9 520.0,923.2 520.4,923.8 520.8,923.5 521.2,922.0 521.6,923.1 522.0,922.8 522.4,921.6 522.8,922.0 523.3,920.0 523.7,919.2 524.1,922.8 524.5,922.8 524.9,918.4 525.3,922.4 525.7,922.1 526.1,922.8 526.6,921.1 527.0,922.0 527.4,921.6 527.8,920.3 528.2,920.4 528.6,922.3 529.0,919.0 529.4,919.5 529.8,920.2 530.3,918.8 530.7,919.9 531.1,921.4 531.5,918.6 531.9,920.7 532.3,917.8 532.7,919.5 533.1,907.4 533.6,918.6 534.0,920.0 534.4,919.8 534.8,919.0 535.2,919.7 535.6,919.5 536.0,917.1 536.4,919.6 536.8,919.0 537.3,918.0 537.7,918.4 538.1,919.5 538.5,915.9 538.9,902.2 539.3,919.0 539.7,919.7 540.1,919.0 540.6,919.7 541.0,918.6 541.4,917.3 541.8,920.8 542.2,921.5 542.6,921.3 543.0,921.4 543.4,922.8 543.8,920.4 544.3,919.4 544.7,919.2 545.1,922.7 545.5,922.8 545.9,921.4 546.3,922.4 546.7,919.9 547.1,918.7 547.6,920.8 548.0,918.9 548.4,921.5 548.8,921.4 549.2,922.2 549.6,920.9 550.0,918.2 550.4,920.6 550.9,918.9 551.3,921.1 551.7,921.4 552.1,921.7 552.5,920.0 553.0,920.5 553.4,917.8 553.8,921.7 554.3,911.5 554.7,919.0 555.1,920.0 555.6,918.9 556.0,919.0 556.4,921.0 556.9,921.2 557.3,917.4 557.7,921.5 558.2,921.4 558.6,919.6 559.1,920.5 559.5,920.4 559.9,921.0 560.3,920.8 560.7,919.1 561.1,919.6 561.6,919.7 562.0,918.9 562.4,917.3 562.8,920.0 563.2,917.0 563.6,919.0 564.0,919.8 564.4,917.4 564.9,920.1 565.3,920.2 565.7,919.7 566.1,916.9 566.5,917.0 566.9,917.2 567.3,920.2 567.7,919.5 568.1,920.3 568.6,920.4 569.0,920.3 569.4,920.9 569.8,920.1 570.2,921.1 570.6,920.7 571.0,919.5 571.4,920.0 571.9,920.4 572.3,919.2 572.7,920.6 573.2,919.9 573.6,917.1 574.1,918.1 574.5,919.6 574.9,918.6 575.4,918.5 575.8,920.2 576.2,918.5 576.7,919.4 577.1,920.3 577.5,919.8 577.9,909.4 578.4,917.9 578.8,920.2 579.2,920.5 579.7,922.2 580.1,922.1 580.5,922.9 580.9,921.5 581.3,921.9 581.7,919.9 582.2,922.6 582.6,923.9 583.0,924.2 583.4,923.2 583.8,924.4 584.2,924.1 584.6,924.7 585.0,923.3 585.4,925.3 585.9,922.6 586.3,925.1 586.7,926.0 587.1,925.1 587.5,926.5 587.9,925.4 588.3,926.2 588.7,926.9 589.2,926.9 589.6,926.8 590.0,924.2 590.4,923.6 590.8,926.3 591.2,924.8 591.6,913.6 592.0,925.8 592.4,925.4 592.9,924.1 593.3,926.1 593.8,927.2 594.2,926.8 594.7,927.9 595.1,928.4 595.5,927.6 592.0,928.2 592.4,928.4 592.8,928.1 593.2,927.7 593.6,923.7 594.1,925.8 594.5,926.8 594.9,926.8 595.3,925.1 595.7,926.1 596.1,921.8 596.5,925.7 596.9,925.7 597.4,925.9 597.8,926.7 598.2,923.1 598.6,927.0 599.0,925.7 599.4,927.2 599.8,925.5 600.2,927.1 600.6,923.6 601.1,927.2 601.5,927.6 601.9,925.4 602.3,925.6 602.7,925.8 603.1,925.8 603.5,927.1 603.9,924.2 604.4,926.1 604.8,926.1 605.2,926.0 605.6,927.5 606.0,927.2 606.4,927.4 606.8,928.1 607.2,928.1 607.7,926.8 608.1,928.5 608.5,927.9 608.9,928.5 609.3,927.6 609.7,927.5 610.1,923.2 610.5,926.9 610.9,923.0 611.4,926.0 611.8,925.1 612.2,925.0 612.6,919.7 613.0,925.0 613.5,925.4 613.9,925.7 614.4,924.5 614.8,926.3 615.2,924.3 615.7,926.2 616.1,926.8 616.5,925.5 617.0,926.8 617.4,926.7 617.8,926.4 618.3,926.8 618.7,905.3 619.1,925.9 619.5,924.7 620.0,926.9 620.4,926.5 620.8,925.5 621.2,926.8 621.7,925.7 622.1,924.7 622.5,926.9 622.9,922.7 623.3,924.5 623.7,926.9 624.1,926.9 624.5,926.9 624.9,926.0 625.4,926.7 625.8,925.1 626.3,925.9 626.7,926.3 627.2,922.6 627.6,925.6 628.0,924.7 628.5,925.6 628.9,925.6 629.4,923.8 629.8,922.2 630.2,922.7 630.7,922.3 631.1,921.8 631.6,923.7 632.0,925.0 632.4,924.8 632.9,922.6 633.3,925.3 633.7,925.5 634.2,925.5 634.6,921.7 635.0,922.0 635.5,925.9 635.9,925.8 636.3,911.5 636.8,923.9 637.2,925.8 637.6,926.4 638.1,924.4 638.5,923.0 638.9,926.8 639.4,926.1 639.8,923.8 640.2,926.6 640.7,926.5 641.1,924.0 641.6,926.0 642.0,925.8 642.5,925.2 642.9,924.7 643.3,923.0 643.8,922.2 644.2,924.4 644.7,924.9 645.1,923.3 645.5,923.9 646.0,923.1 646.4,922.6 646.8,923.2 647.2,924.3 647.7,922.0 648.1,924.3 648.5,922.9 648.9,920.9 649.4,922.9 649.8,923.7 650.2,920.2 650.6,923.6 651.1,923.3 651.5,923.2 651.9,923.5 652.3,921.7 652.7,919.7 653.2,922.1 653.6,924.1 654.0,924.6 654.5,924.7 654.9,924.5 655.3,925.3 655.8,925.5 656.2,925.6 656.6,925.9 657.0,926.2 657.5,926.4 657.9,926.0 658.3,925.1 658.8,926.2 659.2,925.4 659.7,924.1 660.1,924.6 660.5,925.6 661.0,925.3 661.4,924.9 661.9,924.6 662.3,924.5 662.8,924.5 663.2,920.4 663.6,923.9 664.1,919.7 664.5,922.5 664.9,922.1 665.3,923.5 665.7,923.4 666.1,920.9 666.5,922.0 667.0,922.6 667.4,923.0 667.8,922.8 668.2,915.6 668.6,921.1 669.1,922.4 669.5,922.9 670.0,921.6 670.4,923.5 670.8,922.8 671.3,923.3 671.7,924.0 672.2,923.7 672.6,920.7 673.0,922.6 673.5,922.0 673.9,924.3 674.4,923.1 674.8,924.8 675.3,924.7 675.7,924.4 676.1,923.4 676.6,922.5 677.0,924.1 677.5,921.3 677.9,923.0 678.3,924.8 678.8,924.7 679.2,924.8 679.7,923.3 680.1,924.5 680.6,923.5 681.0,922.4 681.4,924.3 681.8,924.3 682.2,924.0 682.7,924.2 683.1,921.8 683.5,923.0 683.9,922.9 684.4,922.7 684.8,922.8 685.2,921.0 685.6,923.4 686.1,919.5 686.5,921.1 686.9,922.3 687.3,921.0 687.8,915.6 688.2,921.0 688.6,921.1 689.0,923.3 689.5,922.7 689.9,920.4 690.3,923.8 690.8,923.7 691.2,921.1 691.6,923.2 692.0,923.9 692.5,924.6 692.9,924.1 693.3,924.8 693.8,923.2 694.2,924.8 694.7,924.5 695.1,922.7 695.6,923.2 696.0,924.5 696.4,924.8 696.9,924.5 697.3,924.8 697.8,924.4 698.2,924.8 698.6,922.6 699.1,923.2 699.5,924.6 699.9,924.4 700.3,923.5 700.7,920.5 701.1,923.8 701.6,923.6 702.0,923.3 702.4,913.6 702.8,921.2 703.2,921.7 703.6,922.8 704.0,922.8 704.4,922.2 704.9,919.9 705.3,922.8 705.7,922.7 706.1,922.7 706.5,921.9 706.9,921.4 707.3,922.1 707.7,922.6 708.1,922.6 708.6,920.9 709.0,922.7 709.4,921.3 709.8,922.7 710.2,922.4 710.6,922.2 711.0,922.2 711.4,922.1 711.9,923.2 712.3,923.0 712.7,922.7 713.1,924.2 713.5,924.0 713.9,925.2 714.3,923.9 714.7,923.9 715.1,926.5 715.6,926.2 716.0,926.2 716.4,923.0 716.8,921.3 717.2,922.1 717.6,923.8 718.0,921.3 718.4,922.5 718.9,921.6 719.3,920.5 719.7,919.9 720.1,918.6 720.5,914.0 720.9,914.5 721.3,912.3 721.7,910.4 722.1,907.6 722.6,902.3 723.0,896.8 723.4,896.0 723.8,890.7 724.2,894.9 724.6,899.2 725.0,903.9 725.4,907.1 725.9,909.4 726.3,907.9 726.7,911.4 727.1,912.0 727.5,912.3 727.9,913.7 728.3,913.9 728.7,913.8 729.1,913.5 729.6,912.1 730.0,912.8 730.4,911.8 730.8,906.8 731.2,901.1 731.6,895.5 732.0,888.6 732.4,885.7 732.9,881.6 733.3,877.3 733.7,873.0 734.1,868.4 734.5,863.5 734.9,857.8 735.3,851.7 735.7,845.9 736.1,830.6 736.5,814.1 736.8,796.3 737.2,782.1 737.6,798.9 738.0,816.5 738.4,829.4 738.8,849.6 739.2,866.3 739.6,872.6 740.0,881.5 740.3,885.6 740.7,894.7 741.1,887.7 741.5,882.2 741.9,875.9 742.3,867.5 742.7,874.7 743.0,880.2 743.4,884.1" stroke="#0000ff" stroke-width="1.6"/>
<polyline points="442.1,796.8 442.5,794.3 442.8,786.8 443.1,785.2 443.5,782.0 443.8,784.2 444.2,781.0 444.5,783.4 444.9,783.0 445.2,784.7 445.6,785.7 445.9,795.0 446.2,796.4 446.6,799.7 446.9,800.0 447.3,803.5 447.6,802.1 448.0,806.8 448.3,806.3 448.6,810.6 449.0,809.5 449.3,811.5 449.7,809.4 450.0,814.3 450.4,812.8 450.7,820.8 451.0,808.3 451.4,823.2 451.7,821.7 452.1,822.2 452.4,826.8 452.8,835.8 453.1,828.8 453.4,834.0 452.4,833.8 452.8,842.4 453.2,838.1 453.7,847.9 454.1,841.7 454.5,849.3 454.9,849.2 455.3,860.2 455.7,856.6 456.1,863.2 456.5,856.6 456.8,868.8 457.2,868.7 457.6,867.5 458.0,863.7 458.4,871.8 458.8,861.2 459.2,864.5 459.6,861.5 460.0,867.4 460.4,860.2 460.9,866.7 461.3,863.0 461.7,866.0 462.1,862.2 462.5,868.6 462.9,864.9 463.3,880.5 463.7,869.9 464.2,869.4 464.6,848.2 465.0,852.6 465.4,835.1 465.8,834.5 466.2,831.0 466.6,843.7 467.0,830.9 467.4,845.3 467.9,834.4 468.2,854.8 468.5,859.4 468.9,881.7 469.3,860.4 469.7,861.5 470.1,840.1 470.5,832.8 470.9,824.8 471.3,831.8 471.6,823.2 472.0,826.1 472.4,826.0 472.8,842.3 473.2,834.9 473.6,847.3 474.0,844.2 474.4,832.4 474.9,826.9 475.3,843.3 475.7,827.1 476.1,835.2 476.4,828.5 476.8,851.2 477.1,849.4 477.5,864.4 478.0,850.3 478.4,867.2 478.8,862.3 479.2,875.4 479.5,858.3 479.9,866.7 480.2,851.0 480.6,860.9 481.0,868.3 481.5,864.6 481.9,864.6 482.3,874.9 482.7,870.7 483.1,871.2 483.5,874.4 483.9,870.2 484.3,873.0 484.7,870.1 485.2,881.0 485.6,877.3 486.0,881.2 486.4,886.7 486.8,883.7 487.3,873.7 487.7,881.2 488.2,867.3 488.6,863.5 489.0,865.0 489.5,863.8 489.9,860.7 490.3,873.7 490.7,873.0 491.1,884.8 491.5,883.5 492.0,883.3 492.4,880.1 492.9,883.5 493.3,874.4 493.7,880.8 494.2,871.1 494.6,871.8 495.0,865.5 495.5,880.3 495.9,875.3 496.3,888.4 496.7,888.5 497.1,892.1 497.6,883.1 498.0,885.2 498.5,879.8 498.9,883.8 499.3,875.0 499.8,879.8 500.2,875.4 500.6,883.8 501.0,879.8 501.4,885.5 501.8,886.6 502.3,887.8 502.7,883.1 503.1,884.5 503.5,876.3 503.9,882.8 504.3,869.5 504.7,883.4 505.1,878.7 505.5,898.4 506.0,890.7 506.4,892.0 506.8,882.5 507.3,888.7 507.7,885.5 508.2,893.5 508.6,881.6 509.0,888.0 509.5,882.4 509.9,890.1 510.4,886.1 510.8,894.0 511.3,888.7 511.7,895.2 512.1,894.2 512.5,896.5 513.0,887.6 513.4,894.3 513.8,885.8 514.2,892.0 514.6,888.0 515.0,885.7 515.4,865.8 515.8,866.1 516.3,853.5 516.7,863.2 517.1,857.6 517.5,857.9 517.9,859.7 518.3,868.0 518.7,862.9 519.1,875.7 519.5,869.4 520.0,872.0 520.4,875.0 520.8,877.5 521.2,871.6 521.6,875.0 522.0,867.4 522.4,871.5 522.8,865.0 523.3,867.9 523.7,859.7 524.1,866.2 524.5,856.6 524.9,861.0 525.3,859.1 525.7,863.4 526.1,861.5 526.6,872.7 527.0,867.9 527.4,868.4 527.9,858.9 528.3,864.9 528.7,853.7 529.2,857.6 529.6,852.8 530.1,857.6 530.5,848.8 530.9,860.5 531.3,849.7 531.7,856.1 532.1,852.4 532.5,849.8 532.9,836.8 533.3,834.2 533.8,823.6 534.2,828.8 534.6,825.8 535.0,830.9 535.4,825.1 535.8,833.7 536.2,827.4 536.6,832.7 537.1,830.4 537.5,832.7 537.9,828.3 538.3,832.8 538.8,823.3 539.2,827.8 539.7,821.2 540.1,826.6 540.6,823.4 540.9,842.2 541.3,843.1 541.6,863.2 542.0,869.7 542.4,871.6 542.8,862.7 543.2,866.9 543.6,850.1 544.1,858.3 544.5,854.2 544.9,861.4 545.4,857.4 545.8,865.6 546.3,858.5 546.7,864.4 547.1,859.8 547.6,861.5 548.0,855.1 548.5,863.6 548.9,859.3 549.3,866.3 549.8,859.5 550.2,863.5 550.6,857.6 551.1,859.4 551.5,853.7 551.9,860.6 552.3,852.1 552.7,861.5 553.1,854.1 553.5,864.7 553.9,861.6 554.4,866.3 554.8,859.3 555.2,860.2 555.7,850.3 556.1,862.2 556.6,845.8 557.0,845.8 557.4,843.7 557.9,852.6 558.3,847.5 558.7,862.1 559.1,854.9 559.5,862.8 559.9,857.0 560.3,865.3 560.7,856.1 561.1,858.3 561.6,855.3 562.0,858.5 562.4,853.0 562.9,861.2 563.3,858.5 563.8,869.3 564.2,861.3 564.6,866.7 565.1,863.3 565.5,871.4 566.0,860.0 566.4,866.6 566.9,860.7 567.3,863.5 567.7,860.9 568.2,864.4 568.6,861.4 569.1,869.1 569.5,858.0 569.9,868.7 570.4,856.6 570.8,866.9 571.3,863.6 571.7,867.8 572.1,866.9 572.6,873.7 573.0,866.7 573.5,872.4 573.9,868.9 574.3,871.6 574.7,868.4 575.1,875.6 575.6,865.5 576.0,871.7 576.4,867.7 576.8,874.0 577.2,864.0 577.6,872.4 578.0,867.8 578.4,875.2 578.9,867.3 579.3,875.6 579.7,869.7 580.1,874.0 580.5,871.3 581.0,875.1 581.4,873.5 581.9,880.0 582.3,876.7 582.7,880.4 583.2,877.2 583.6,885.5 584.0,884.3 584.4,891.2 584.8,887.4 585.2,893.5 585.7,892.8 586.1,897.6 586.5,893.2 586.9,903.8 587.3,900.5 587.7,904.7 588.2,897.3 588.6,903.5 589.1,895.3 589.5,897.7 589.9,898.7 590.4,899.4 590.8,896.3 591.2,904.9 591.6,894.8 592.0,908.9 592.4,904.1 592.9,907.0 593.3,902.9 593.8,913.5 594.2,904.7 594.7,912.3 595.1,905.6 595.5,912.5 592.0,905.4 592.4,911.9 592.9,907.3 593.3,913.7 593.8,905.9 594.2,916.4 594.6,909.9 595.1,911.3 595.5,906.3 596.0,907.5 596.4,898.6 596.9,901.0 597.3,896.7 597.8,895.3 598.2,896.2 598.6,901.8 599.0,902.5 599.4,909.4 599.8,906.9 600.2,911.8 600.7,907.2 601.1,918.1 601.6,909.9 602.0,916.5 602.4,909.3 602.9,921.1 603.3,915.3 603.8,921.3 604.2,913.4 604.7,922.2 605.1,914.9 605.5,910.3 606.0,912.7 606.4,921.5 606.9,916.7 607.3,923.0 607.7,913.9 608.2,921.6 608.6,915.4 609.1,923.7 609.5,919.1 609.9,920.7 610.4,910.2 610.8,902.7 611.3,900.9 611.7,904.6 612.2,893.0 612.6,897.5 613.0,897.4 613.4,905.1 613.8,905.6 614.2,908.7 614.7,917.2 615.1,920.1 615.5,915.4 616.0,919.0 616.4,911.7 616.9,921.3 617.3,915.2 617.7,918.1 618.1,896.9 618.4,889.8 618.8,872.8 619.2,879.8 619.6,890.4 620.0,891.9 620.4,891.0 620.8,899.2 621.3,897.3 621.7,904.5 622.2,892.5 622.6,898.9 623.0,893.3 623.5,903.4 623.9,895.3 624.4,898.5 624.8,896.3 625.2,905.1 625.7,885.9 626.1,903.2 626.6,896.8 627.0,905.1 627.4,897.9 627.8,896.7 628.2,888.5 628.7,905.2 629.1,897.5 629.5,902.8 629.9,894.3 630.3,896.7 630.7,891.9 631.1,893.6 631.6,893.2 632.0,895.9 632.5,894.1 632.9,901.3 633.3,891.9 633.8,901.0 634.2,899.6 634.6,899.4 635.0,892.9 635.5,888.0 635.9,883.9 636.3,888.2 636.7,888.0 637.2,895.3 637.6,890.2 638.0,892.0 638.5,894.2 638.9,905.6 639.4,902.1 639.8,903.0 640.2,895.5 640.6,899.8 641.0,894.4 641.4,906.1 641.8,892.9 642.2,903.6 642.7,893.8 643.1,901.3 643.5,894.5 643.9,900.3 644.4,891.7 644.8,900.3 645.2,894.7 645.7,903.4 646.1,896.3 646.6,902.1 647.0,895.4 647.5,901.0 647.9,884.8 648.3,901.1 648.8,892.4 649.2,897.2 649.7,891.8 650.1,898.6 650.5,887.3 650.9,894.7 651.3,889.8 651.7,893.1 652.1,883.9 652.5,889.2 653.0,882.7 653.4,888.3 653.8,885.1 654.2,891.4 654.6,887.4 655.0,892.0 655.4,885.8 655.8,892.1 656.3,887.2 656.7,896.2 657.1,888.6 657.5,898.1 657.9,893.3 658.3,901.2 658.7,890.9 659.1,901.5 659.5,894.2 660.0,891.1 660.4,892.6 660.8,896.7 661.2,891.4 661.6,901.4 662.0,894.1 662.5,899.2 662.9,887.9 663.3,895.6 663.8,886.3 664.2,892.2 664.7,879.5 665.1,883.2 665.5,875.8 666.0,878.8 666.4,874.0 666.9,875.7 667.3,865.9 667.8,868.7 668.2,862.5 668.6,874.7 669.0,873.2 669.4,873.8 669.8,882.8 670.3,893.3 670.7,887.2 671.1,892.2 671.6,882.4 672.0,890.5 672.5,881.9 672.9,884.7 673.3,878.7 673.8,884.3 674.2,878.1 674.7,885.7 675.1,876.5 675.5,885.7 676.0,877.2 676.4,883.0 676.9,879.4 677.3,886.0 677.8,878.8 678.2,887.0 678.6,878.2 679.1,886.4 679.5,884.5 680.0,887.1 680.4,879.0 680.8,880.3 681.3,876.4 681.7,880.2 682.2,864.9 682.6,873.6 683.1,869.7 683.5,883.4 683.9,879.2 684.4,889.4 684.8,885.2 685.3,899.9 685.7,896.6 686.1,894.6 686.5,882.2 686.9,881.3 687.3,872.1 687.8,873.6 688.2,870.9 688.6,878.6 689.1,873.6 689.5,879.9 690.0,871.5 690.4,879.1 690.8,876.1 691.3,878.7 691.7,870.0 692.1,878.4 692.5,865.6 692.9,881.9 693.3,869.5 693.7,878.0 694.1,869.0 694.6,876.6 695.0,872.6 695.4,868.4 695.8,869.1 696.2,875.4 696.6,870.5 697.0,880.6 697.4,870.2 697.8,880.0 698.3,869.8 698.7,883.1 699.1,874.9 699.5,876.6 700.0,864.5 700.4,872.1 700.8,859.6 701.3,870.4 701.7,853.6 702.2,854.2 702.6,854.7 703.0,864.1 703.4,862.5 703.8,876.7 704.2,875.1 704.7,877.4 705.1,870.5 705.6,874.0 706.0,865.3 706.4,870.3 706.9,861.2 707.3,867.9 707.8,863.8 708.2,874.3 708.6,866.1 709.1,871.5 709.5,865.9 710.0,865.0 710.4,867.8 710.9,868.9 711.3,864.7 711.7,869.2 712.2,861.4 712.6,867.8 713.1,863.1 713.5,864.9 713.9,866.1 714.3,869.5 714.7,867.0 715.1,875.2 715.6,876.0 716.0,879.9 716.4,866.3 716.8,870.4 717.2,861.7 717.6,863.6 718.0,856.8 718.4,864.3 718.9,854.1 719.3,862.4 719.7,856.9 720.1,856.8 720.5,846.0 720.9,850.2 721.3,844.1 721.7,842.6 722.1,837.1 722.6,839.3 723.0,825.3 723.4,830.0 723.8,820.6 724.1,827.5 724.5,821.7 724.8,824.3 725.2,818.8 725.6,819.4 726.1,811.4 726.5,811.9 726.9,805.6 727.2,811.0 727.6,804.8 727.9,815.1 728.3,807.7 728.7,809.3 729.1,803.1 729.6,805.4 730.0,800.6 730.4,799.8 730.8,793.0 731.2,798.6 731.6,789.3 732.0,791.6 732.4,784.2 732.9,785.7 733.3,778.2 733.7,777.0 734.0,774.4 734.4,778.5 734.8,771.7 735.1,775.8 735.5,778.0 735.8,785.2 736.2,786.4 736.5,793.3 736.8,790.1 737.2,797.3 737.5,806.0 737.9,821.8 738.2,833.5 738.6,826.1 738.9,814.8 739.2,807.3 739.6,800.5 739.9,796.1 740.3,788.2 740.7,787.5 741.1,778.4 741.5,779.7 741.9,775.4 742.3,777.5 742.6,775.0 743.0,776.6 743.4,774.7" stroke="#f03c3c" stroke-width="1.8"/>
<line x1="441" y1="914.0" x2="750.6" y2="914.0" stroke="#0000ff" stroke-width="2" stroke-dasharray="4.0 2.55" stroke-linecap="butt"/>
<line x1="441" y1="842.7" x2="750.6" y2="842.7" stroke="#ff0000" stroke-width="2" stroke-dasharray="4.0 2.55" stroke-linecap="butt"/>
</g>
<line x1="440.2" y1="738.8" x2="750.6" y2="738.8" stroke="#000" stroke-width="1.4"/>
<line x1="440.2" y1="931.2" x2="751.2" y2="931.2" stroke="#000" stroke-width="1.4"/>
<line x1="441.00" y1="931.2" x2="441.00" y2="936.2" stroke="#000" stroke-width="1.4"/>
<text x="441.0" y="950.4" font-size="13" fill="#111" text-anchor="middle">0</text>
<line x1="463.11" y1="931.2" x2="463.11" y2="933.6" stroke="#000" stroke-width="1.4"/>
<line x1="485.23" y1="931.2" x2="485.23" y2="936.2" stroke="#000" stroke-width="1.4"/>
<text x="485.2" y="950.4" font-size="13" fill="#111" text-anchor="middle">100</text>
<line x1="507.34" y1="931.2" x2="507.34" y2="933.6" stroke="#000" stroke-width="1.4"/>
<line x1="529.46" y1="931.2" x2="529.46" y2="936.2" stroke="#000" stroke-width="1.4"/>
<text x="529.5" y="950.4" font-size="13" fill="#111" text-anchor="middle">200</text>
<line x1="551.57" y1="931.2" x2="551.57" y2="933.6" stroke="#000" stroke-width="1.4"/>
<line x1="573.69" y1="931.2" x2="573.69" y2="936.2" stroke="#000" stroke-width="1.4"/>
<text x="573.7" y="950.4" font-size="13" fill="#111" text-anchor="middle">300</text>
<line x1="595.80" y1="931.2" x2="595.80" y2="933.6" stroke="#000" stroke-width="1.4"/>
<line x1="617.91" y1="931.2" x2="617.91" y2="936.2" stroke="#000" stroke-width="1.4"/>
<text x="617.9" y="950.4" font-size="13" fill="#111" text-anchor="middle">400</text>
<line x1="640.03" y1="931.2" x2="640.03" y2="933.6" stroke="#000" stroke-width="1.4"/>
<line x1="662.14" y1="931.2" x2="662.14" y2="936.2" stroke="#000" stroke-width="1.4"/>
<text x="662.1" y="950.4" font-size="13" fill="#111" text-anchor="middle">500</text>
<line x1="684.26" y1="931.2" x2="684.26" y2="933.6" stroke="#000" stroke-width="1.4"/>
<line x1="706.37" y1="931.2" x2="706.37" y2="936.2" stroke="#000" stroke-width="1.4"/>
<text x="706.4" y="950.4" font-size="13" fill="#111" text-anchor="middle">600</text>
<line x1="728.49" y1="931.2" x2="728.49" y2="933.6" stroke="#000" stroke-width="1.4"/>
<line x1="750.60" y1="931.2" x2="750.60" y2="936.2" stroke="#000" stroke-width="1.4"/>
<text x="750.6" y="950.4" font-size="13" fill="#111" text-anchor="middle">700</text>
<line x1="441" y1="738.0" x2="441" y2="932.0" stroke="#0000ff" stroke-width="1.7"/>
<line x1="436.40" y1="931.20" x2="441" y2="931.20" stroke="#0000ff" stroke-width="1.5"/>
<text x="432.4" y="935.5" font-size="13" fill="#0000ff" text-anchor="end">0</text>
<line x1="438.60" y1="911.96" x2="441" y2="911.96" stroke="#0000ff" stroke-width="1.5"/>
<line x1="436.40" y1="892.72" x2="441" y2="892.72" stroke="#0000ff" stroke-width="1.5"/>
<text x="432.4" y="897.0" font-size="13" fill="#0000ff" text-anchor="end">20</text>
<line x1="438.60" y1="873.48" x2="441" y2="873.48" stroke="#0000ff" stroke-width="1.5"/>
<line x1="436.40" y1="854.24" x2="441" y2="854.24" stroke="#0000ff" stroke-width="1.5"/>
<text x="432.4" y="858.5" font-size="13" fill="#0000ff" text-anchor="end">40</text>
<line x1="438.60" y1="835.00" x2="441" y2="835.00" stroke="#0000ff" stroke-width="1.5"/>
<line x1="436.40" y1="815.76" x2="441" y2="815.76" stroke="#0000ff" stroke-width="1.5"/>
<text x="432.4" y="820.1" font-size="13" fill="#0000ff" text-anchor="end">60</text>
<line x1="438.60" y1="796.52" x2="441" y2="796.52" stroke="#0000ff" stroke-width="1.5"/>
<line x1="436.40" y1="777.28" x2="441" y2="777.28" stroke="#0000ff" stroke-width="1.5"/>
<text x="432.4" y="781.6" font-size="13" fill="#0000ff" text-anchor="end">80</text>
<line x1="438.60" y1="758.04" x2="441" y2="758.04" stroke="#0000ff" stroke-width="1.5"/>
<line x1="436.40" y1="738.80" x2="441" y2="738.80" stroke="#0000ff" stroke-width="1.5"/>
<text x="432.4" y="743.1" font-size="13" fill="#0000ff" text-anchor="end">100</text>
<line x1="750.6" y1="738.0" x2="750.6" y2="932.0" stroke="#f03434" stroke-width="1.5"/>
<line x1="750.6" y1="931.20" x2="755.20" y2="931.20" stroke="#f03434" stroke-width="1.5"/>
<text x="758.6" y="935.5" font-size="13" fill="#f03434" text-anchor="start">0</text>
<line x1="750.6" y1="907.15" x2="753.00" y2="907.15" stroke="#f03434" stroke-width="1.5"/>
<line x1="750.6" y1="883.10" x2="755.20" y2="883.10" stroke="#f03434" stroke-width="1.5"/>
<text x="758.6" y="887.4" font-size="13" fill="#f03434" text-anchor="start">10</text>
<line x1="750.6" y1="859.05" x2="753.00" y2="859.05" stroke="#f03434" stroke-width="1.5"/>
<line x1="750.6" y1="835.00" x2="755.20" y2="835.00" stroke="#f03434" stroke-width="1.5"/>
<text x="758.6" y="839.3" font-size="13" fill="#f03434" text-anchor="start">20</text>
<line x1="750.6" y1="810.95" x2="753.00" y2="810.95" stroke="#f03434" stroke-width="1.5"/>
<line x1="750.6" y1="786.90" x2="755.20" y2="786.90" stroke="#f03434" stroke-width="1.5"/>
<text x="758.6" y="791.2" font-size="13" fill="#f03434" text-anchor="start">30</text>
<line x1="750.6" y1="762.85" x2="753.00" y2="762.85" stroke="#f03434" stroke-width="1.5"/>
<line x1="750.6" y1="738.80" x2="755.20" y2="738.80" stroke="#f03434" stroke-width="1.5"/>
<text x="758.6" y="743.1" font-size="13" fill="#f03434" text-anchor="start">40</text>
<text transform="translate(415.0,838.6) rotate(-90)" font-size="13" fill="#111" text-anchor="middle">SPE</text>
<text x="595.8" y="967.0" font-size="13" fill="#111" text-anchor="middle">F4 stand sampling point</text>
<text x="450.2" y="759.6" font-size="17" fill="#111" text-anchor="start">(h)</text>
<line x1="582.2" y1="749.8" x2="611.6" y2="749.8" stroke="#0000ff" stroke-width="1.6"/>
<line x1="582.2" y1="766.3" x2="611.6" y2="766.3" stroke="#f03c3c" stroke-width="1.8"/>
<text x="613.9" y="754.6" font-size="13" fill="#111" text-anchor="start">SPE statistics of PLS</text>
<text x="613.9" y="771.0" font-size="13" fill="#111" text-anchor="start">SPE statistics of KPLS</text>
</svg>
</body></html>
